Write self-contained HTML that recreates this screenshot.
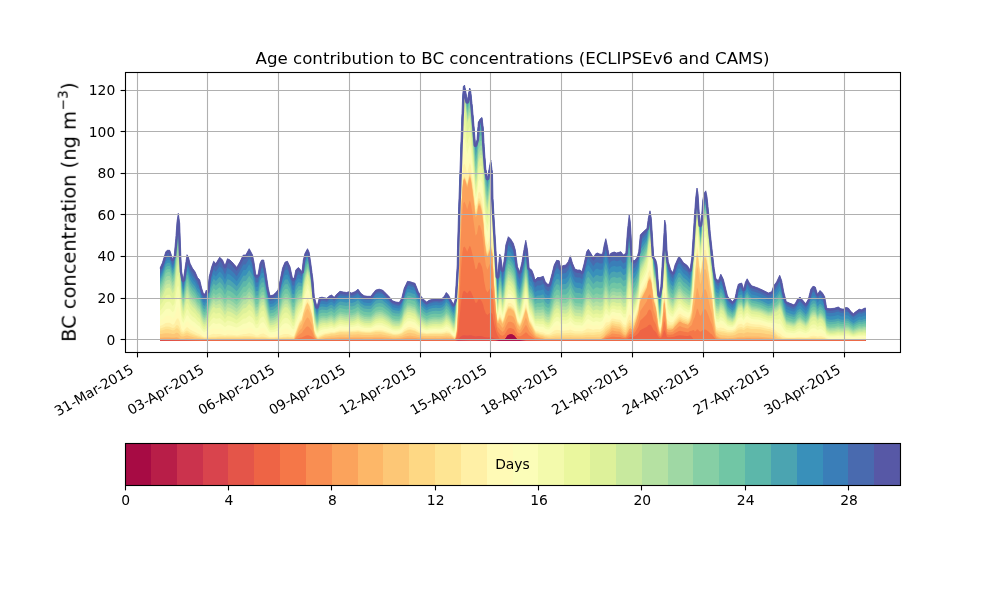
<!DOCTYPE html>
<html><head><meta charset="utf-8"><title>Age contribution to BC concentrations</title>
<style>html,body{margin:0;padding:0;background:#fff;width:1000px;height:600px;overflow:hidden}svg{display:block}
text{-webkit-font-smoothing:antialiased}
text{font-family:"DejaVu Sans","Liberation Sans",sans-serif;fill:#000}</style></head>
<body>
<svg width="1000" height="600" viewBox="0 0 1000 600">
<rect width="1000" height="600" fill="#fff"/>
<defs><linearGradient id="bl" gradientUnits="userSpaceOnUse" x1="160" y1="0" x2="866" y2="0"><stop offset="0.0000" stop-color="#dc4c4a"/><stop offset="0.0354" stop-color="#e65a47"/><stop offset="0.0567" stop-color="#ec6a48"/><stop offset="0.4178" stop-color="#ec6a48"/><stop offset="0.4221" stop-color="#d0404f"/><stop offset="0.4391" stop-color="#e05048"/><stop offset="0.4745" stop-color="#e05048"/><stop offset="0.4802" stop-color="#b3164a"/><stop offset="0.5099" stop-color="#b3164a"/><stop offset="0.5184" stop-color="#e45549"/><stop offset="0.5453" stop-color="#ec6a48"/><stop offset="1.0000" stop-color="#ec6a48"/></linearGradient><clipPath id="ax"><rect x="125" y="72" width="775" height="280"/></clipPath></defs>
<g clip-path="url(#ax)" shape-rendering="auto">
<path fill="#5758a6" d="M160,340.5 L160,268.3 162,263.7 162.5,262.5 164,257.6 165.8,251.7 166,251.5 167.5,250.3 168,250.3 169.7,250.3 170,251.1 170.8,253.3 172,257.5 172.5,259.2 174,256.2 174.2,255.8 175.8,238.3 176,235.5 177,221.7 178,215.2 178.3,213.3 179.7,223.3 180,231.9 180.8,255 181.7,271.7 182,273.3 183.3,280 184,275.2 185,268.3 186,261.5 187,254.7 188,256.2 188.3,256.7 190,263.3 192,267.3 192.5,268.3 194,270.3 195,271.7 196,274 197.5,277.5 198,278.1 199.7,280 200,281.2 201.7,288.3 202,289.2 203.3,293.3 204,293.7 205,294.2 206,291 206.3,290 207.5,291.7 208,287.3 209.2,276.7 210,273.5 211.7,266.7 212,265.9 213.7,261.3 214,261.6 215.8,263.7 216,263.4 217.5,260.8 218,260 219.7,257.2 220,257.5 222,259.5 222.5,260 224,263.5 225,265.8 226,263 227.5,258.7 228,259 230,260 232,262 233.3,263.3 234,264.2 236,266.6 236.7,267.5 238,265.2 240,261.7 242,257.6 243.3,255 244,255 245.8,255 246,254.6 248,250.9 249.2,248.7 250,250.2 252,254 252.5,255 254,262.3 254.2,263.3 255.8,275 256,275 258,275 260,263.3 261.7,260 262,260 263.7,260 264,261.7 265.8,271.7 266,273 268,286.3 268.3,288.3 270,295.8 272,295.3 273.3,295 274,294.3 275.8,292.5 276,292.3 278,290 280,280.8 282,270.8 282.5,268.3 284,264.6 285,262.2 286,261.8 287.5,261.3 288,262.4 290,266.7 292,276 292.5,278.3 294,278.3 294.2,278.3 295.8,270 296,269.8 298,267.8 298.3,267.5 300,269.2 302,271.7 303.3,260 304,257.2 305,253.3 306,251.5 307.5,248.7 308,249.8 309.2,252.5 310,257.9 310.8,263.3 312,272.4 313,280 314,292.8 314.3,296.7 315.7,302 316,303.1 317,306.7 318,303.1 318.3,302 319.3,297.7 320,297.6 322,297.2 324,297.7 324.2,297.7 326,298.1 326.7,298.3 328,297.2 329.7,295.8 330,295.7 331.7,295 332,295.3 334,297.3 334.2,297.5 336,295.1 336.7,294.2 338,293.1 340,291.3 342,291.7 343.3,292 344,292.1 346,292.4 346.7,292.5 348,291.9 348.3,291.7 350,292.4 351.7,293 352,292.9 354,292.1 355,291.7 356,290.9 358,289.2 360,292.1 360.8,293.3 362,294.2 364,295.7 364.2,295.8 366,296.1 367.5,296.3 368,296.3 370,296.3 370.8,296.3 372,294.7 373.3,293 374,292.2 375.8,290 376,290 378,289.5 379.2,289.2 380,289.4 382,289.9 382.5,290 384,291.5 385.8,293.3 386,293.5 388,295.5 389.2,296.7 390,297.7 392,300.2 392.5,300.8 394,301.3 395.8,302 396,302 398,302.3 399.2,302.5 400,301.2 401.7,298.3 402,297.1 404,289.1 404.2,288.3 406,284.5 407.5,281.3 408,281.4 410,281.7 412,282.3 412.5,282.5 414,283 415,283.3 416,285.8 418,290.9 418.3,291.7 420,294.5 421.3,296.7 422,297.5 424,299.8 424.2,300 426,301.4 426.7,302 428,301.1 429.2,300.3 430,300 432,299.4 432.5,299.2 434,299 435.8,298.7 436,298.7 438,299 439.2,299.2 440,299 441.7,298.7 442,298.4 444,296.7 444.2,296.5 446,293.1 446.3,292.5 448,294.4 448.5,295 450,298 451,300 452,301.8 453.5,304.4 454,302.9 455,300 456,285 457.2,265 457.5,248.3 458,231 458.7,206.7 460,170 460.8,146.7 461.7,121.7 462,113.6 462.5,100 463.3,86.7 464,85.7 464.5,85 465.8,91.7 466,93.1 467.2,101.7 468,96.8 468.3,95 469.7,88 470,89 470.8,91.7 472,103.4 472.5,108.3 474,125.9 474.2,128.3 475.5,145 476,143.3 477,140 478,126.5 478.3,122.5 480,119.2 482,117.5 483.3,128.3 484,142.6 484.2,146.7 485.8,168.3 486,169.5 487.5,178.3 488,175.4 489.2,168.3 490,164.2 490.8,160 492,169.4 492.5,173.3 493,198.3 494,216.4 494.2,220 495.8,246.7 496,250.2 497.5,276.7 498,271.6 499.7,254.2 500,254.9 500.8,256.7 502,266.1 502.5,270 504,261.2 504.2,260 505.8,245 506,244.3 508,237.7 508.3,236.7 510,238.4 510.8,239.2 512,241.2 513.3,243.3 514,245.6 515.3,250 516,255.3 517.5,266.7 518,267.8 519.7,271.7 520,270.4 521.7,263.3 522,261.5 524,249.5 524.2,248.3 525.8,240.3 526,241.4 527.5,250 528,255.4 529.2,268.3 530,268.8 531.7,270 532,270.7 533.7,275 534,276.2 535,280 536,279 537.5,277.5 538,277.5 540,277.5 542,276.8 543.3,276.3 544,278.2 545.3,281.7 546,282.5 547.5,284.2 548,284.2 549.2,284.2 550,281.3 551.7,275 552,273.8 554,265.8 554.2,265 556,261.6 556.7,260.3 558,260.6 559.2,260.8 560,264.6 560.8,268.3 562,266.5 562.5,265.8 564,265.4 565.8,265 566,264.7 568,262.1 568.3,261.7 570,256.7 570.3,255.8 572,261.6 572.5,263.3 574,266.8 575,269.2 576,269.5 577.5,270 578,270 580,270 582,271.7 584,264.1 584.2,263.3 586,254.9 586.7,251.7 588,249.7 588.3,249.2 590,252 590.8,253.3 592,255.3 593.3,257.5 594,256.4 595.8,253.7 596,253.6 597.5,253 598,253.2 600,254.2 602,254.2 602.5,254.2 604,246.1 604.2,245 605.8,238.7 606,239.6 607.5,246.7 608,249.4 609.2,255.8 610,254.6 610.8,253.3 612,252.8 614,252.1 614.2,252 616,252.7 616.7,253 618,252.6 618.3,252.5 620,252 620.8,251.7 622,253.3 623.3,255 624,254.5 625.8,253.3 626,250.6 627.5,230 628,225.6 629.2,215 630,219.9 630.3,221.7 631.7,245 632,248.6 633,260.8 634,260.6 635,260.3 636,258.9 637,257.5 638,254.1 638.7,251.7 640,238.1 640.3,235 642,233.1 642.5,232.5 644,231.2 645,230.3 646,229.3 647,228.3 648,220.6 648.3,218.3 650,210.8 651.3,218.3 652,229 652.5,236.7 653.7,256.7 654,257.2 655.8,260 656,260.8 657,265 658,278.3 659.2,295 660,290.9 660.8,286.7 662,266.7 662.5,258.3 663.3,245 664,232.5 664.7,220 665.8,225 666,229.2 667,250 668,259 668.3,261.7 670,267.3 670.8,270 672,271.4 673,272.5 674,268.8 675,265 676,262.7 678,258.2 678.3,257.5 680,257.5 682,260.5 683.3,262.5 684,263.1 686,264.6 687.5,265.8 688,266.6 690,270 691.7,258.3 692,253.7 693,238.3 694,222.7 694.7,211.7 695.8,196.7 696,195.2 697,188 698,193.3 699.2,211.7 700,221.4 700.3,225 701.7,215 702,210.9 702.8,200 704,194.3 704.2,193.3 705.8,190.8 706,191.8 707,196.7 708,206.5 708.7,213.3 710,229.6 710.3,233.3 712,248.8 712.5,253.3 714,266.5 714.2,268.3 715.8,278.3 716,278.5 718,280.5 718.3,280.8 720,276.3 720.8,274.2 722,276.6 723.3,279.2 724,282 725.8,289.2 726,290 727.5,296 728,296.7 729.2,298.3 730,299.1 732,301.2 732.5,301.7 734,299.7 735,298.3 736,293.4 736.7,290 738,285.3 738.3,284.2 740,283.6 741.7,283 742,283.9 743.7,289.2 744,287.9 745.3,282.5 746,281.1 747.2,278.8 748,280.3 749.2,282.5 750,283.6 751.7,285.8 752,285.9 754,286.6 756,287.3 756.7,287.5 758,288 760,288.9 760.8,289.2 762,289.8 764,290.8 765,291.3 766,291.8 768,292.8 768.3,293 770,292.4 771.7,291.7 772,290.8 773.7,285.8 774,285.4 776,282.7 776.7,281.7 778,278.9 779.7,275.3 780,276.1 781.7,280.8 782,282.4 783.7,291.7 784,292.9 786,300.5 786.3,301.7 788,302.4 790,303.3 792,304.1 793.3,304.7 794,304.4 795,304 796,302.1 797.5,299.2 798,298.8 800,297 802,299.4 802.5,300 804,301.7 805.8,303.7 806,303.3 808,299.7 808.3,299.2 810,292.4 810.8,289.2 812,287.6 813,286.3 814,286.6 815.3,287 816,289.3 817.5,294.2 818,293.5 820,290.5 822,292.5 822.5,293 824,295.5 824.7,296.7 826,304.2 826.7,308.3 828,308.5 830,308.7 832,308.5 834,308.3 834.2,308.3 836,307.7 838,307.1 838.3,307 840,308.2 840.8,308.7 842,308.9 843.3,309.2 844,308.7 845.8,307.5 846,307.5 848,307.9 848.3,308 850,310.2 850.8,311.3 852,312.5 853.3,313.7 854,313.1 856,311.5 856.3,311.3 858,310.1 859.2,309.2 860,309.4 861.7,309.7 862,309.5 864,308.4 864.2,308.3 865.8,308 L865.8,340.5 Z"/>
<path fill="#496aaf" d="M160,340.5 L160,270.7 162,266.2 162.5,265 164,260.2 165.8,254.5 166,254.3 167.5,253.1 168,253.1 169.7,253.1 170,253.9 170.8,256 172,260.1 172.5,261.8 174,258.8 174.2,258.4 175.8,241.3 176,238.6 177,225.1 178,218.9 178.3,217.1 179.7,227 180,235.5 180.8,258 181.7,274.3 182,275.8 183.3,282.4 184,277.8 185,271.1 186,264.6 187,258 188,259.6 188.3,260 190,266.5 192,270.4 192.5,271.3 194,273.3 195,274.6 196,276.8 197.5,280.2 198,280.7 199.7,282.6 200,283.8 201.7,290.7 202,291.6 203.3,295.5 204,295.9 205,296.4 206,293.3 206.3,292.3 207.5,294 208,289.7 209.2,279.4 210,276.3 211.7,269.7 212,269 213.7,264.5 214,264.9 215.8,266.9 216,266.6 217.5,264.2 218,263.4 219.7,260.8 220,261.1 222,263.1 222.5,263.6 224,267.1 225,269.3 226,266.6 227.5,262.5 228,262.7 230,263.7 232,265.6 233.3,266.9 234,267.7 236,270.1 236.7,271 238,268.8 240,265.4 242,261.4 243.3,258.8 244,258.8 245.8,258.8 246,258.4 248,254.8 249.2,252.6 250,254.1 252,257.8 252.5,258.7 254,265.8 254.2,266.7 255.8,278 256,278 258,277.9 260,266.5 261.7,263.3 262,263.3 263.7,263.2 264,264.8 265.8,274.6 266,275.8 268,288.7 268.3,290.6 270,297.9 272,297.4 273.3,297.1 274,296.5 275.8,294.7 276,294.5 278,292.3 280,283.4 282,273.7 282.5,271.3 284,267.8 285,265.4 286,265.1 287.5,264.6 288,265.7 290,269.9 292,278.9 292.5,281.2 294,281.2 294.2,281.2 295.8,273 296,272.7 298,270.5 298.3,270.2 300,271.6 302,273.8 303.3,262.1 304,259.2 305,255.2 306,253.2 307.5,250.3 308,251.4 309.2,254.1 310,259.4 310.8,264.7 312,273.8 313,281.5 314,294.2 314.3,298.1 315.7,303.4 316,304.4 317,308 318,304.5 318.3,303.5 319.3,299.2 320,299.1 322,298.7 324,299.1 324.2,299.2 326,299.6 326.7,299.7 328,298.7 329.7,297.3 330,297.2 331.7,296.5 332,296.8 334,298.8 334.2,299 336,296.7 336.7,295.8 338,294.6 340,292.9 342,293.3 343.3,293.6 344,293.7 346,294 346.7,294.1 348,293.5 348.3,293.4 350,294 351.7,294.6 352,294.5 354,293.7 355,293.3 356,292.5 358,290.9 360,293.7 360.8,294.9 362,295.8 364,297.2 364.2,297.3 366,297.6 367.5,297.8 368,297.8 370,297.8 370.8,297.8 372,296.3 373.3,294.6 374,293.8 375.8,291.7 376,291.6 378,291.1 379.2,290.9 380,291 382,291.5 382.5,291.6 384,293.1 385.8,294.8 386,295 388,297 389.2,298.2 390,299.2 392,301.6 392.5,302.2 394,302.7 395.8,303.4 396,303.4 398,303.7 399.2,303.8 400,302.5 401.7,299.7 402,298.5 404,290.7 404.2,289.9 406,286.2 407.5,283 408,283.1 410,283.4 412,284.1 412.5,284.2 414,284.7 415,285 416,287.5 418,292.5 418.3,293.3 420,296.1 421.3,298.2 422,299 424,301.2 424.2,301.4 426,302.8 426.7,303.4 428,302.5 429.2,301.7 430,301.4 432,300.8 432.5,300.6 434,300.4 435.8,300.1 436,300.2 438,300.5 439.2,300.6 440,300.5 441.7,300.1 442,299.9 444,298.1 444.2,298 446,294.6 446.3,294 448,295.9 448.5,296.5 450,299.4 451,301.4 452,303.1 453.5,305.8 454,304.4 455,301.5 456,286.8 457.2,267.1 457.5,250.6 458,233.3 458.7,207.6 460,170 460.8,146.7 461.7,121.7 462,113.6 462.5,100 463.3,86.7 464,85.7 464.5,85 465.8,91.7 466,93.1 467.2,101.7 468,96.8 468.3,95 469.7,88 470,89 470.8,91.7 472,103.4 472.5,108.3 474,125.9 474.2,128.3 475.5,145 476,143.3 477,140 478,126.5 478.3,122.5 480,119.2 482,117.5 483.3,128.3 484,142.6 484.2,146.7 485.8,168.3 486,169.5 487.5,178.3 488,175.4 489.2,168.3 490,164.2 490.8,160 492,169.4 492.5,173.3 493,198.3 494,216.4 494.2,220 495.8,249.3 496,253.2 497.5,279.3 498,274.3 499.7,257.4 500,258.1 500.8,259.9 502,269.1 502.5,272.9 504,264.3 504.2,263.1 505.8,248.3 506,247.7 508,241 508.3,240 510,241.7 510.8,242.5 512,244.4 513.3,246.5 514,248.9 515.3,253.3 516,258.6 517.5,269.8 518,271 519.7,274.8 520,273.6 521.7,266.5 522,264.7 524,252.7 524.2,251.5 525.8,243.5 526,244.6 527.5,253.1 528,258.4 529.2,271.1 530,271.7 531.7,273 532,273.8 533.7,278 534,279.2 535,283 536,282.1 537.5,280.6 538,280.6 540,280.7 542,279.9 543.3,279.4 544,281.2 545.3,284.6 546,285.3 547.5,286.9 548,286.9 549.2,286.9 550,284 551.7,277.9 552,276.7 554,268.8 554.2,268 556,264.7 556.7,263.4 558,263.7 559.2,264 560,267.6 560.8,271.3 562,269.6 562.5,268.9 564,268.6 565.8,268.2 566,267.9 568,265.4 568.3,265 570,260.1 570.3,259.3 572,264.9 572.5,266.5 574,270 575,272.3 576,272.6 577.5,273 578,273 580,273 582,274.7 584,267.3 584.2,266.5 586,258.4 586.7,255.3 588,253.3 588.3,252.8 590,255.6 590.8,256.9 592,258.8 593.3,261 594,260 595.8,257.4 596,257.3 597.5,256.7 598,257 600,257.9 602,257.9 602.5,257.8 604,249.9 604.2,248.9 605.8,242.6 606,243.6 607.5,250.3 608,252.9 609.2,259.1 610,257.9 610.8,256.6 612,256.1 614,255.4 614.2,255.3 616,256 616.7,256.3 618,255.9 618.3,255.8 620,255.3 620.8,255.1 622,256.7 623.3,258.4 624,258 625.8,256.8 626,254.1 627.5,234 628,229.7 629.2,219.3 630,224 630.3,225.8 631.7,248.5 632,252 633,263.9 634,263.5 635,263.1 636,261.6 637,260.1 638,256.7 638.7,254.2 640,240.6 640.3,237.5 642,235.5 642.5,234.9 644,233.4 645,232.5 646,231.3 647,230.2 648,222.5 648.3,220.2 650,212.7 651.3,220.1 652,230.7 652.5,238.3 653.7,258.1 654,258.6 655.8,261.6 656,262.5 657,266.9 658,280.2 659.2,296.6 660,292.7 660.8,288.7 662,268.9 662.5,260.5 663.3,247.2 664,234.6 664.7,222.6 665.8,227.9 666,232.1 667,252.8 668,261.6 668.3,264.3 670,269.8 670.8,272.4 672,273.8 673,274.9 674,271.2 675,267.6 676,265.3 678,260.8 678.3,260.1 680,260.1 682,263.1 683.3,265 684,265.6 686,267.2 687.5,268.3 688,269.2 690,272.3 691.7,260.7 692,256.1 693,240.7 694,225 694.7,214 695.8,198.8 696,197.3 697,189.8 698,195.1 699.2,213.4 700,223 700.3,226.6 701.7,216.7 702,212.6 702.8,201.7 704,196 704.2,195 705.8,192.6 706,193.6 707,198.5 708,208.3 708.7,215.1 710,231.3 710.3,235 712,250.4 712.5,255.1 714,268.6 714.2,270.4 715.8,280.5 716,280.8 718,282.7 718.3,283 720,278.6 720.8,276.5 722,278.9 723.3,281.4 724,284.1 725.8,291.1 726,291.9 727.5,297.7 728,298.3 729.2,299.9 730,300.7 732,302.7 732.5,303.2 734,301.2 735,299.9 736,295.1 736.7,291.8 738,287.2 738.3,286.1 740,285.5 741.7,285 742,285.9 743.7,291.1 744,289.8 745.3,284.5 746,283.2 747.2,281 748,282.4 749.2,284.6 750,285.6 751.7,287.8 752,287.9 754,288.6 756,289.2 756.7,289.5 758,290 760,290.8 760.8,291.1 762,291.7 764,292.7 765,293.2 766,293.7 768,294.7 768.3,294.9 770,294.2 771.7,293.6 772,292.8 773.7,287.9 774,287.5 776,285 776.7,284.1 778,281.4 779.7,277.9 780,278.7 781.7,283.2 782,284.8 783.7,293.8 784,294.9 786,302.4 786.3,303.5 788,304.2 790,305 792,305.8 793.3,306.4 794,306.1 795,305.7 796,303.8 797.5,301.1 798,300.6 800,298.9 802,301.3 802.5,301.8 804,303.5 805.8,305.4 806,305.1 808,301.6 808.3,301.1 810,294.5 810.8,291.4 812,289.8 813,288.6 814,288.9 815.3,289.2 816,291.4 817.5,296.2 818,295.5 820,292.6 822,294.5 822.5,295 824,297.5 824.7,298.7 826,306 826.7,309.9 828,310.1 830,310.4 832,310.2 834,310.1 834.2,310 836,309.5 838,308.9 838.3,308.8 840,309.9 840.8,310.4 842,310.6 843.3,310.8 844,310.4 845.8,309.2 846,309.2 848,309.6 848.3,309.7 850,311.8 850.8,312.8 852,314 853.3,315.2 854,314.6 856,313.1 856.3,312.8 858,311.7 859.2,310.8 860,311 861.7,311.3 862,311.1 864,310.1 864.2,310 865.8,309.7 L865.8,340.5 Z"/>
<path fill="#3a7eb8" d="M160,340.5 L160,274.3 162,270 162.5,268.9 164,264.2 165.8,258.7 166,258.5 167.5,257.3 168,257.3 169.7,257.3 170,258 170.8,260.1 172,264 172.5,265.6 174,262.7 174.2,262.4 175.8,245.8 176,243.1 177,230.3 178,224.5 178.3,222.7 179.7,232.5 180,240.7 180.8,262.5 181.7,278.2 182,279.7 183.3,286.1 184,281.7 185,275.4 186,269.2 187,263 188,264.6 188.3,265 190,271.3 192,274.9 192.5,275.8 194,277.6 195,278.9 196,281 197.5,284.2 198,284.7 199.7,286.5 200,287.6 201.7,294.2 202,295 203.3,298.8 204,299.2 205,299.7 206,296.7 206.3,295.8 207.5,297.4 208,293.3 209.2,283.5 210,280.6 211.7,274.3 212,273.6 213.7,269.4 214,269.7 215.8,271.7 216,271.5 217.5,269.3 218,268.6 219.7,266.2 220,266.5 222,268.6 222.5,269.1 224,272.4 225,274.6 226,272 227.5,268.1 228,268.3 230,269.3 232,271.1 233.3,272.3 234,273.1 236,275.4 236.7,276.2 238,274.1 240,270.8 242,267 243.3,264.6 244,264.5 245.8,264.5 246,264.1 248,260.6 249.2,258.6 250,259.9 252,263.4 252.5,264.3 254,271 254.2,271.9 255.8,282.5 256,282.5 258,282.3 260,271.4 261.7,268.2 262,268.2 263.7,268.1 264,269.6 265.8,278.8 266,280.1 268,292.3 268.3,294.2 270,301.1 272,300.6 273.3,300.3 274,299.7 275.8,298 276,297.8 278,295.7 280,287.3 282,278.1 282.5,275.8 284,272.4 285,270.2 286,270 287.5,269.6 288,270.6 290,274.7 292,283.4 292.5,285.6 294,285.6 294.2,285.6 295.8,277.4 296,277.2 298,274.6 298.3,274.2 300,275.1 302,276.8 303.3,265.1 304,262.2 305,258 306,255.8 307.5,252.7 308,253.8 309.2,256.4 310,261.7 310.8,266.9 312,275.8 313,283.6 314,296.3 314.3,300.1 315.7,305.4 316,306.5 317,310 318,306.7 318.3,305.6 319.3,301.5 320,301.4 322,300.9 324,301.3 324.2,301.3 326,301.7 326.7,301.9 328,300.9 329.7,299.6 330,299.5 331.7,298.9 332,299.2 334,301.1 334.2,301.3 336,299 336.7,298.1 338,297 340,295.3 342,295.8 343.3,296 344,296.2 346,296.5 346.7,296.6 348,296 348.3,295.8 350,296.5 351.7,297.1 352,297 354,296.2 355,295.8 356,295 358,293.4 360,296.2 360.8,297.3 362,298.1 364,299.5 364.2,299.6 366,299.9 367.5,300.1 368,300.1 370,300.1 370.8,300.1 372,298.6 373.3,297 374,296.2 375.8,294.1 376,294.1 378,293.6 379.2,293.3 380,293.5 382,294 382.5,294.1 384,295.5 385.8,297.2 386,297.4 388,299.3 389.2,300.4 390,301.3 392,303.7 392.5,304.3 394,304.8 395.8,305.4 396,305.5 398,305.7 399.2,305.9 400,304.6 401.7,301.9 402,300.7 404,293.1 404.2,292.3 406,288.7 407.5,285.7 408,285.7 410,286 412,286.7 412.5,286.8 414,287.3 415,287.7 416,290.1 418,294.9 418.3,295.6 420,298.3 421.3,300.4 422,301.1 424,303.3 424.2,303.5 426,304.9 426.7,305.4 428,304.6 429.2,303.8 430,303.5 432,302.9 432.5,302.8 434,302.5 435.8,302.3 436,302.3 438,302.6 439.2,302.8 440,302.6 441.7,302.3 442,302 444,300.3 444.2,300.2 446,296.9 446.3,296.3 448,298.2 448.5,298.7 450,301.5 451,303.5 452,305.2 453.5,307.8 454,306.5 455,303.8 456,289.6 457.2,270.2 457.5,254 458,236.7 458.7,210.2 460,170.5 460.8,146.7 461.7,121.7 462,113.6 462.5,100 463.3,86.7 464,85.7 464.5,85 465.8,91.7 466,93.1 467.2,101.7 468,96.8 468.3,95 469.7,88 470,89 470.8,91.7 472,103.4 472.5,108.3 474,125.9 474.2,128.3 475.5,145 476,143.3 477,140 478,126.5 478.3,122.5 480,119.2 482,117.5 483.3,128.3 484,142.6 484.2,146.7 485.8,168.3 486,169.5 487.5,178.3 488,175.4 489.2,168.3 490,164.2 490.8,160 492,169.4 492.5,173.3 493,198.6 494,218.4 494.2,222.4 495.8,253.6 496,257.6 497.5,283.2 498,278.5 499.7,262.2 500,262.9 500.8,264.7 502,273.6 502.5,277.3 504,268.9 504.2,267.8 505.8,253.4 506,252.7 508,246 508.3,245 510,246.6 510.8,247.4 512,249.3 513.3,251.4 514,253.7 515.3,258.2 516,263.4 517.5,274.6 518,275.7 519.7,279.5 520,278.3 521.7,271.2 522,269.4 524,257.6 524.2,256.4 525.8,248.3 526,249.3 527.5,257.8 528,263 529.2,275.4 530,276 531.7,277.5 532,278.3 533.7,282.5 534,283.7 535,287.4 536,286.7 537.5,285.3 538,285.4 540,285.4 542,284.6 543.3,284.1 544,285.8 545.3,289 546,289.6 547.5,291.1 548,291 549.2,290.9 550,288.1 551.7,282.2 552,281 554,273.4 554.2,272.6 556,269.4 556.7,268.2 558,268.4 559.2,268.7 560,272.3 560.8,275.8 562,274.2 562.5,273.6 564,273.3 565.8,273 566,272.8 568,270.3 568.3,270 570,265.3 570.3,264.5 572,269.8 572.5,271.4 574,274.7 575,276.9 576,277.2 577.5,277.6 578,277.6 580,277.6 582,279.2 584,272.1 584.2,271.4 586,263.6 586.7,260.6 588,258.7 588.3,258.3 590,260.9 590.8,262.2 592,264.1 593.3,266.2 594,265.3 595.8,262.8 596,262.8 597.5,262.3 598,262.5 600,263.5 602,263.4 602.5,263.3 604,255.7 604.2,254.6 605.8,248.6 606,249.4 607.5,255.8 608,258.2 609.2,264.1 610,262.8 610.8,261.6 612,261 614,260.3 614.2,260.2 616,260.9 616.7,261.2 618,260.9 618.3,260.8 620,260.3 620.8,260.1 622,261.8 623.3,263.5 624,263.1 625.8,262 626,259.4 627.5,240 628,235.8 629.2,225.8 630,230.2 630.3,231.9 631.7,253.7 632,257.1 633,268.4 634,267.9 635,267.4 636,265.7 637,264.1 638,260.5 638.7,258 640,244.4 640.3,241.3 642,239.2 642.5,238.5 644,236.9 645,235.7 646,234.4 647,233.1 648,225.3 648.3,223 650,215.5 651.3,222.8 652,233.2 652.5,240.7 653.7,260.3 654,260.7 655.8,264.1 656,265 657,269.7 658,283 659.2,299.1 660,295.4 660.8,291.6 662,272.2 662.5,263.9 663.3,250.5 664,237.8 664.7,226.4 665.8,232.3 666,236.5 667,257.1 668,265.6 668.3,268.1 670,273.5 670.8,276 672,277.4 673,278.5 674,274.9 675,271.4 676,269.2 678,264.8 678.3,264.1 680,264 682,266.9 683.3,268.9 684,269.4 686,271 687.5,272.1 688,272.9 690,275.8 691.7,264.2 692,259.7 693,244.3 694,228.6 694.7,217.4 695.8,201.9 696,200.3 697,192.4 698,197.7 699.2,215.9 700,225.5 700.3,229.1 701.7,219.2 702,215.1 702.8,204.3 704,198.6 704.2,197.6 705.8,195.2 706,196.3 707,201.3 708,211 708.7,217.8 710,233.9 710.3,237.6 712,253 712.5,257.8 714,271.6 714.2,273.5 715.8,283.9 716,284.1 718,286 718.3,286.2 720,282 720.8,280 722,282.2 723.3,284.6 724,287.2 725.8,293.9 726,294.6 727.5,300.2 728,300.8 729.2,302.3 730,303.1 732,305 732.5,305.5 734,303.6 735,302.3 736,297.7 736.7,294.5 738,290 738.3,289 740,288.4 741.7,287.9 742,288.8 743.7,293.8 744,292.7 745.3,287.6 746,286.4 747.2,284.2 748,285.6 749.2,287.8 750,288.8 751.7,290.9 752,291 754,291.6 756,292.2 756.7,292.4 758,292.9 760,293.6 760.8,294 762,294.5 764,295.5 765,296 766,296.5 768,297.5 768.3,297.7 770,297.1 771.7,296.5 772,295.7 773.7,291.1 774,290.8 776,288.4 776.7,287.6 778,285.1 779.7,281.8 780,282.5 781.7,286.9 782,288.4 783.7,296.9 784,298 786,305.1 786.3,306.1 788,306.8 790,307.6 792,308.4 793.3,308.9 794,308.6 795,308.3 796,306.5 797.5,303.8 798,303.4 800,301.8 802,304 802.5,304.6 804,306.1 805.8,308 806,307.7 808,304.4 808.3,303.9 810,297.6 810.8,294.7 812,293.2 813,292 814,292.2 815.3,292.6 816,294.7 817.5,299.1 818,298.5 820,295.7 822,297.5 822.5,298 824,300.5 824.7,301.6 826,308.6 826.7,312.4 828,312.7 830,313 832,312.9 834,312.7 834.2,312.7 836,312.1 838,311.5 838.3,311.4 840,312.4 840.8,312.9 842,313.1 843.3,313.3 844,312.9 845.8,311.7 846,311.8 848,312.1 848.3,312.2 850,314.2 850.8,315.2 852,316.2 853.3,317.3 854,316.8 856,315.4 856.3,315.2 858,314 859.2,313.3 860,313.4 861.7,313.7 862,313.6 864,312.6 864.2,312.5 865.8,312.2 L865.8,340.5 Z"/>
<path fill="#3990ba" d="M160,340.5 L160,276.7 162,272.4 162.5,271.3 164,266.8 165.8,261.4 166,261.2 167.5,260.1 168,260.1 169.7,260 170,260.7 170.8,262.7 172,266.5 172.5,268.1 174,265.3 174.2,264.9 175.8,248.7 176,246.1 177,233.7 178,228.2 178.3,226.6 179.7,236.5 180,244.5 180.8,265.7 181.7,281.1 182,282.6 183.3,288.9 184,284.7 185,278.7 186,272.8 187,267 188,268.6 188.3,269.1 190,275.3 192,278.8 192.5,279.7 194,281.5 195,282.6 196,284.7 197.5,287.8 198,288.3 199.7,290.1 200,291.2 201.7,297.5 202,298.3 203.3,302 204,302.3 205,302.8 206,300 206.3,299.2 207.5,300.7 208,296.8 209.2,287.5 210,284.7 211.7,278.8 212,278.1 213.7,274.1 214,274.4 215.8,276.4 216,276.2 217.5,274.2 218,273.6 219.7,271.5 220,271.8 222,273.9 222.5,274.4 224,277.6 225,279.7 226,277.3 227.5,273.6 228,273.8 230,274.7 232,276.4 233.3,277.6 234,278.3 236,280.5 236.7,281.2 238,279.2 240,276.2 242,272.5 243.3,270.1 244,270.1 245.8,270 246,269.7 248,266.3 249.2,264.3 250,265.6 252,268.9 252.5,269.7 254,276.1 254.2,276.9 255.8,286.9 256,286.9 258,286.6 260,276.1 261.7,273 262,272.9 263.7,272.8 264,274.2 265.8,283 266,284.2 268,295.8 268.3,297.6 270,304.1 272,303.7 273.3,303.4 274,302.8 275.8,301.2 276,301 278,299.1 280,291 282,282.3 282.5,280.1 284,277 285,274.9 286,274.7 287.5,274.4 288,275.4 290,279.4 292,287.7 292.5,289.8 294,289.9 294.2,289.8 295.8,281.8 296,281.5 298,278.7 298.3,278.2 300,278.7 302,280 303.3,268.4 304,265.4 305,261.1 306,258.7 307.5,255.4 308,256.5 309.2,259 310,264.2 310.8,269.4 312,278.1 313,286.2 314,298.8 314.3,302.5 315.7,307.9 316,308.9 317,312.3 318,309.3 318.3,308.3 319.3,304.4 320,304.2 322,303.7 324,304 324.2,304 326,304.4 326.7,304.6 328,303.7 329.7,302.4 330,302.3 331.7,301.8 332,302.1 334,303.9 334.2,304.1 336,301.9 336.7,301.1 338,300 340,298.4 342,298.8 343.3,299.1 344,299.2 346,299.5 346.7,299.6 348,299.1 348.3,298.9 350,299.5 351.7,300.1 352,300 354,299.3 355,298.9 356,298.1 358,296.6 360,299.2 360.8,300.3 362,301.1 364,302.4 364.2,302.5 366,302.8 367.5,303 368,303 370,303 370.8,303 372,301.5 373.3,300 374,299.2 375.8,297.3 376,297.2 378,296.7 379.2,296.4 380,296.6 382,297 382.5,297.1 384,298.5 385.8,300.1 386,300.3 388,302.1 389.2,303.2 390,304.1 392,306.3 392.5,306.9 394,307.4 395.8,308 396,308 398,308.3 399.2,308.4 400,307.1 401.7,304.5 402,303.4 404,296.1 404.2,295.4 406,291.9 407.5,288.9 408,289 410,289.3 412,289.9 412.5,290.1 414,290.6 415,290.9 416,293.3 418,297.9 418.3,298.6 420,301.2 421.3,303.2 422,303.9 424,305.9 424.2,306.1 426,307.4 426.7,307.9 428,307.1 429.2,306.4 430,306.2 432,305.6 432.5,305.4 434,305.2 435.8,305 436,305 438,305.3 439.2,305.4 440,305.3 441.7,304.9 442,304.7 444,303.1 444.2,302.9 446,299.8 446.3,299.2 448,301 448.5,301.5 450,304.2 451,306.1 452,307.8 453.5,310.4 454,309.1 455,306.7 456,293 457.2,274.1 457.5,258.2 458,241 458.7,213.7 460,172.3 460.8,147.3 461.7,122.1 462,114 462.5,100.4 463.3,87.2 464,86.2 464.5,85.6 465.8,92.4 466,93.8 467.2,102.5 468,97.8 468.3,96 469.7,89.1 470,90.2 470.8,93 472,104.9 472.5,109.8 474,127.5 474.2,129.9 475.5,146.6 476,145 477,141.7 478,128.2 478.3,124.2 480,120.8 482,119.2 483.3,130.1 484,144.4 484.2,148.4 485.8,169.9 486,171.1 487.5,179.7 488,176.8 489.2,169.7 490,165.5 490.8,161.3 492,170.7 492.5,175.4 493,201.1 494,222.1 494.2,226.3 495.8,258.3 496,262.4 497.5,287.4 498,282.9 499.7,267.4 500,268 500.8,269.8 502,278.4 502.5,281.9 504,273.8 504.2,272.8 505.8,258.7 506,258 508,251.3 508.3,250.4 510,251.9 510.8,252.6 512,254.5 513.3,256.6 514,258.8 515.3,263.5 516,268.7 517.5,279.6 518,280.7 519.7,284.5 520,283.4 521.7,276.3 522,274.5 524,262.7 524.2,261.6 525.8,253.4 526,254.4 527.5,262.8 528,267.8 529.2,279.9 530,280.7 531.7,282.3 532,283.1 533.7,287.4 534,288.5 535,292.2 536,291.6 537.5,290.4 538,290.4 540,290.5 542,289.7 543.3,289.2 544,290.8 545.3,293.7 546,294.3 547.5,295.6 548,295.5 549.2,295.4 550,292.7 551.7,287 552,285.9 554,278.5 554.2,277.7 556,274.6 556.7,273.5 558,273.8 559.2,274.2 560,277.5 560.8,280.9 562,279.5 562.5,278.9 564,278.7 565.8,278.4 566,278.2 568,275.9 568.3,275.6 570,271.1 570.3,270.4 572,275.4 572.5,276.9 574,280 575,282.1 576,282.4 577.5,282.8 578,282.8 580,282.8 582,284.3 584,277.6 584.2,276.9 586,269.5 586.7,266.7 588,264.9 588.3,264.5 590,267 590.8,268.3 592,270.1 593.3,272.2 594,271.3 595.8,269.1 596,269 597.5,268.6 598,268.9 600,269.8 602,269.6 602.5,269.5 604,262.2 604.2,261.2 605.8,255.3 606,256.1 607.5,262 608,264.3 609.2,269.8 610,268.5 610.8,267.2 612,266.5 614,265.9 614.2,265.8 616,266.6 616.7,266.8 618,266.5 618.3,266.4 620,266 620.8,265.9 622,267.5 623.3,269.3 624,269 625.8,268 626,265.5 627.5,246.9 628,242.8 629.2,233.1 630,237.3 630.3,238.9 631.7,259.6 632,262.8 633,273.6 634,272.9 635,272.2 636,270.4 637,268.6 638,264.9 638.7,262.3 640,248.7 640.3,245.6 642,243.3 642.5,242.6 644,240.7 645,239.4 646,237.9 647,236.4 648,228.4 648.3,226.2 650,218.7 651.3,225.8 652,236.1 652.5,243.5 653.7,262.7 654,263.2 655.8,266.8 656,267.9 657,272.9 658,286.2 659.2,301.8 660,298.5 660.8,295 662,276 662.5,267.7 663.3,254.3 664,241.4 664.7,230.8 665.8,237.3 666,241.5 667,261.9 668,270.1 668.3,272.5 670,277.7 670.8,280.2 672,281.5 673,282.5 674,279.1 675,275.7 676,273.7 678,269.3 678.3,268.6 680,268.4 682,271.3 683.3,273.2 684,273.7 686,275.3 687.5,276.4 688,277.2 690,279.7 691.7,268.2 692,263.8 693,248.4 694,232.6 694.7,221.3 695.8,205.5 696,203.8 697,195.4 698,200.7 699.2,218.8 700,228.3 700.3,231.9 701.7,222 702,218 702.8,207.2 704,201.5 704.2,200.5 705.8,198.3 706,199.3 707,204.4 708,214.1 708.7,220.9 710,236.9 710.3,240.6 712,255.8 712.5,260.9 714,275.1 714.2,277 715.8,287.6 716,288 718,289.7 718.3,289.9 720,285.8 720.8,283.9 722,286.1 723.3,288.3 724,290.7 725.8,297.1 726,297.8 727.5,303.1 728,303.7 729.2,305.1 730,305.8 732,307.6 732.5,308.1 734,306.2 735,305 736,300.6 736.7,297.5 738,293.3 738.3,292.3 740,291.7 741.7,291.3 742,292.1 743.7,297 744,295.9 745.3,291.1 746,289.9 747.2,287.9 748,289.3 749.2,291.3 750,292.3 751.7,294.4 752,294.5 754,295 756,295.6 756.7,295.7 758,296.2 760,296.9 760.8,297.2 762,297.8 764,298.7 765,299.2 766,299.7 768,300.7 768.3,300.8 770,300.3 771.7,299.8 772,299 773.7,294.8 774,294.4 776,292.3 776.7,291.5 778,289.3 779.7,286.1 780,286.8 781.7,291 782,292.4 783.7,300.4 784,301.4 786,308.1 786.3,309.1 788,309.8 790,310.6 792,311.3 793.3,311.8 794,311.6 795,311.2 796,309.6 797.5,307.1 798,306.7 800,305.2 802,307.3 802.5,307.8 804,309.3 805.8,311.1 806,310.8 808,307.7 808.3,307.2 810,301.4 810.8,298.6 812,297.3 813,296.1 814,296.3 815.3,296.6 816,298.6 817.5,302.8 818,302.2 820,299.5 822,301.2 822.5,301.8 824,304.2 824.7,305.4 826,312 826.7,315.6 828,315.9 830,316.4 832,316.3 834,316.1 834.2,316.1 836,315.6 838,315 838.3,314.9 840,315.8 840.8,316.2 842,316.4 843.3,316.6 844,316.1 845.8,315 846,315.1 848,315.4 848.3,315.4 850,317.3 850.8,318.2 852,319.2 853.3,320.2 854,319.7 856,318.4 856.3,318.2 858,317.2 859.2,316.4 860,316.6 861.7,316.9 862,316.8 864,315.8 864.2,315.8 865.8,315.5 L865.8,340.5 Z"/>
<path fill="#4ba4b1" d="M160,340.5 L160,279 162,274.9 162.5,273.8 164,269.4 165.8,264.1 166,263.9 167.5,262.8 168,262.8 169.7,262.7 170,263.4 170.8,265.4 172,269.1 172.5,270.6 174,267.8 174.2,267.5 175.8,251.6 176,249 177,237.1 178,232 178.3,230.5 179.7,240.4 180,248.3 180.8,269 181.7,284 182,285.5 183.3,291.7 184,287.8 185,282.1 186,276.5 187,271 188,272.7 188.3,273.2 190,279.3 192,282.7 192.5,283.6 194,285.3 195,286.4 196,288.4 197.5,291.4 198,291.9 199.7,293.7 200,294.8 201.7,300.8 202,301.6 203.3,305.1 204,305.5 205,306 206,303.3 206.3,302.5 207.5,304 208,300.3 209.2,291.5 210,288.8 211.7,283.2 212,282.5 213.7,278.8 214,279.1 215.8,281.1 216,280.9 217.5,279.1 218,278.6 219.7,276.7 220,277 222,279.2 222.5,279.7 224,282.9 225,284.9 226,282.6 227.5,279 228,279.2 230,280.1 232,281.7 233.3,282.8 234,283.5 236,285.6 236.7,286.3 238,284.4 240,281.5 242,278 243.3,275.7 244,275.7 245.8,275.5 246,275.2 248,272 249.2,270.1 250,271.3 252,274.4 252.5,275.2 254,281.1 254.2,281.9 255.8,291.3 256,291.3 258,290.9 260,280.8 261.7,277.8 262,277.7 263.7,277.5 264,278.9 265.8,287.2 266,288.3 268,299.3 268.3,301 270,307.2 272,306.8 273.3,306.5 274,306 275.8,304.5 276,304.3 278,302.4 280,294.8 282,286.5 282.5,284.5 284,281.5 285,279.6 286,279.4 287.5,279.2 288,280.2 290,284.1 292,292.1 292.5,294 294,294.2 294.2,294.1 295.8,286.2 296,285.8 298,282.7 298.3,282.2 300,282.4 302,283.2 303.3,271.6 304,268.5 305,264.1 306,261.5 307.5,258.1 308,259.1 309.2,261.6 310,266.7 310.8,271.8 312,280.4 313,288.7 314,301.3 314.3,304.9 315.7,310.3 316,311.4 317,314.7 318,312 318.3,311 319.3,307.3 320,307.1 322,306.5 324,306.7 324.2,306.7 326,307.1 326.7,307.3 328,306.4 329.7,305.3 330,305.2 331.7,304.7 332,304.9 334,306.7 334.2,306.9 336,304.8 336.7,304 338,303 340,301.4 342,301.8 343.3,302.1 344,302.2 346,302.6 346.7,302.7 348,302.1 348.3,302 350,302.6 351.7,303.2 352,303.1 354,302.3 355,301.9 356,301.2 358,299.7 360,302.2 360.8,303.2 362,304 364,305.3 364.2,305.4 366,305.7 367.5,305.8 368,305.8 370,305.8 370.8,305.8 372,304.5 373.3,303 374,302.3 375.8,300.4 376,300.3 378,299.9 379.2,299.6 380,299.7 382,300.1 382.5,300.2 384,301.4 385.8,303 386,303.1 388,304.9 389.2,305.9 390,306.8 392,309 392.5,309.5 394,310 395.8,310.6 396,310.6 398,310.8 399.2,310.9 400,309.7 401.7,307.2 402,306.1 404,299.1 404.2,298.4 406,295 407.5,292.2 408,292.3 410,292.5 412,293.2 412.5,293.4 414,293.9 415,294.2 416,296.5 418,300.9 418.3,301.6 420,304.1 421.3,305.9 422,306.6 424,308.6 424.2,308.8 426,310 426.7,310.5 428,309.7 429.2,309 430,308.8 432,308.2 432.5,308.1 434,307.9 435.8,307.7 436,307.7 438,308 439.2,308.1 440,308 441.7,307.6 442,307.4 444,305.8 444.2,305.7 446,302.6 446.3,302.1 448,303.7 448.5,304.2 450,306.8 451,308.7 452,310.4 453.5,313 454,311.8 455,309.5 456,296.4 457.2,278 457.5,262.5 458,245.2 458.7,217.6 460,174.7 460.8,148.6 461.7,123.1 462,115 462.5,101.5 463.3,88.4 464,87.5 464.5,87 465.8,94.1 466,95.6 467.2,104.6 468,100.1 468.3,98.4 469.7,92 470,93.1 470.8,96.2 472,108.5 472.5,113.5 474,131.5 474.2,133.9 475.5,150.7 476,149.1 477,145.8 478,132.4 478.3,128.4 480,124.9 482,123.6 483.3,134.5 484,148.7 484.2,152.8 485.8,173.9 486,175 487.5,183.3 488,180.3 489.2,173.1 490,168.9 490.8,164.7 492,173.9 492.5,179 493,204.7 494,226.3 494.2,230.7 495.8,263.1 496,267.2 497.5,291.6 498,287.4 499.7,272.5 500,273.2 500.8,274.9 502,283.3 502.5,286.6 504,278.8 504.2,277.8 505.8,264.1 506,263.4 508,256.7 508.3,255.8 510,257.2 510.8,257.9 512,259.8 513.3,261.9 514,264 515.3,268.8 516,273.9 517.5,284.7 518,285.8 519.7,289.4 520,288.4 521.7,281.4 522,279.6 524,267.9 524.2,266.7 525.8,258.6 526,259.4 527.5,267.7 528,272.7 529.2,284.5 530,285.3 531.7,287.1 532,287.9 533.7,292.3 534,293.3 535,296.9 536,296.5 537.5,295.4 538,295.5 540,295.6 542,294.8 543.3,294.3 544,295.8 545.3,298.4 546,299 547.5,300.1 548,300.1 549.2,299.9 550,297.3 551.7,291.8 552,290.7 554,283.6 554.2,282.9 556,279.9 556.7,278.9 558,279.2 559.2,279.6 560,282.8 560.8,286 562,284.7 562.5,284.2 564,284.1 565.8,283.9 566,283.7 568,281.6 568.3,281.2 570,277 570.3,276.3 572,281 572.5,282.5 574,285.4 575,287.3 576,287.6 577.5,288 578,288 580,288 582,289.4 584,283 584.2,282.4 586,275.5 586.7,272.8 588,271.1 588.3,270.7 590,273.1 590.8,274.3 592,276.1 593.3,278.1 594,277.3 595.8,275.3 596,275.3 597.5,275 598,275.2 600,276.2 602,275.8 602.5,275.8 604,268.7 604.2,267.8 605.8,262 606,262.8 607.5,268.2 608,270.3 609.2,275.4 610,274.2 610.8,272.8 612,272 614,271.5 614.2,271.4 616,272.2 616.7,272.4 618,272.2 618.3,272.1 620,271.6 620.8,271.6 622,273.3 623.3,275.1 624,274.9 625.8,273.9 626,271.5 627.5,253.7 628,249.8 629.2,240.4 630,244.4 630.3,245.9 631.7,265.5 632,268.6 633,278.9 634,277.9 635,277 636,275.1 637,273.1 638,269.2 638.7,266.5 640,253 640.3,250 642,247.5 642.5,246.7 644,244.6 645,243 646,241.4 647,239.7 648,231.6 648.3,229.4 650,221.9 651.3,228.9 652,239 652.5,246.2 653.7,265.1 654,265.6 655.8,269.6 656,270.7 657,276.1 658,289.4 659.2,304.6 660,301.5 660.8,298.4 662,279.7 662.5,271.5 663.3,258 664,245.1 664.7,235.2 665.8,242.3 666,246.4 667,266.7 668,274.6 668.3,276.9 670,281.9 670.8,284.3 672,285.6 673,286.6 674,283.4 675,280.1 676,278.1 678,273.8 678.3,273.1 680,272.8 682,275.7 683.3,277.5 684,278.1 686,279.6 687.5,280.7 688,281.5 690,283.6 691.7,272.2 692,267.9 693,252.6 694,236.6 694.7,225.2 695.8,209 696,207.2 697,198.4 698,203.7 699.2,221.7 700,231.1 700.3,234.7 701.7,224.8 702,220.8 702.8,210.1 704,204.4 704.2,203.5 705.8,201.3 706,202.4 707,207.5 708,217.2 708.7,223.9 710,239.9 710.3,243.6 712,258.7 712.5,263.9 714,278.6 714.2,280.5 715.8,291.4 716,291.8 718,293.4 718.3,293.6 720,289.7 720.8,287.9 722,289.9 723.3,292 724,294.3 725.8,300.3 726,300.9 727.5,306 728,306.5 729.2,307.9 730,308.5 732,310.2 732.5,310.7 734,308.9 735,307.7 736,303.5 736.7,300.5 738,296.5 738.3,295.6 740,295.1 741.7,294.6 742,295.4 743.7,300.1 744,299.1 745.3,294.6 746,293.5 747.2,291.6 748,292.9 749.2,294.9 750,295.9 751.7,297.9 752,297.9 754,298.4 756,298.9 756.7,299.1 758,299.5 760,300.2 760.8,300.5 762,301 764,302 765,302.4 766,302.9 768,303.9 768.3,304 770,303.5 771.7,303.1 772,302.3 773.7,298.4 774,298.1 776,296.2 776.7,295.5 778,293.5 779.7,290.5 780,291.1 781.7,295 782,296.4 783.7,304 784,304.9 786,311.2 786.3,312.1 788,312.8 790,313.5 792,314.2 793.3,314.7 794,314.5 795,314.2 796,312.6 797.5,310.3 798,310 800,308.6 802,310.6 802.5,311.1 804,312.5 805.8,314.2 806,313.9 808,311.1 808.3,310.6 810,305.2 810.8,302.6 812,301.3 813,300.2 814,300.5 815.3,300.7 816,302.6 817.5,306.5 818,305.9 820,303.4 822,305 822.5,305.5 824,308 824.7,309.1 826,315.4 826.7,318.8 828,319.2 830,319.8 832,319.7 834,319.5 834.2,319.5 836,319 838,318.5 838.3,318.4 840,319.2 840.8,319.6 842,319.7 843.3,319.8 844,319.4 845.8,318.4 846,318.4 848,318.7 848.3,318.7 850,320.4 850.8,321.2 852,322.1 853.3,323.1 854,322.7 856,321.4 856.3,321.2 858,320.3 859.2,319.6 860,319.8 861.7,320.1 862,319.9 864,319.1 864.2,319 865.8,318.8 L865.8,340.5 Z"/>
<path fill="#5cb7aa" d="M160,340.5 L160,281.7 162,277.6 162.5,276.6 164,272.3 165.8,267.1 166,267 167.5,265.9 168,265.9 169.7,265.8 170,266.5 170.8,268.4 172,272 172.5,273.5 174,270.7 174.2,270.4 175.8,254.9 176,252.4 177,241 178,236.1 178.3,234.7 179.7,244.5 180,252.2 180.8,272.3 181.7,286.9 182,288.3 183.3,294.4 184,290.7 185,285.2 186,279.9 187,274.6 188,276.4 188.3,276.9 190,282.9 192,286.3 192.5,287.1 194,288.8 195,289.9 196,291.9 197.5,294.8 198,295.3 199.7,297.2 200,298.2 201.7,304.1 202,304.9 203.3,308.3 204,308.7 205,309.2 206,306.7 206.3,305.9 207.5,307.3 208,303.8 209.2,295.5 210,293 211.7,287.6 212,287 213.7,283.5 214,283.8 215.8,285.8 216,285.6 217.5,284.1 218,283.6 219.7,282 220,282.3 222,284.5 222.5,285 224,288.1 225,290 226,287.8 227.5,284.5 228,284.7 230,285.5 232,287 233.3,288.1 234,288.7 236,290.7 236.7,291.3 238,289.6 240,286.8 242,283.5 243.3,281.3 244,281.2 245.8,281.1 246,280.8 248,277.7 249.2,275.8 250,276.9 252,279.9 252.5,280.6 254,286.2 254.2,286.9 255.8,295.7 256,295.7 258,295.2 260,285.5 261.7,282.5 262,282.5 263.7,282.2 264,283.5 265.8,291.4 266,292.4 268,302.8 268.3,304.4 270,310.3 272,309.9 273.3,309.7 274,309.1 275.8,307.7 276,307.5 278,305.7 280,298.5 282,290.8 282.5,288.8 284,286.1 285,284.3 286,284.2 287.5,284.1 288,285 290,288.8 292,296.4 292.5,298.3 294,298.5 294.2,298.3 295.8,290.5 296,290.2 298,286.9 298.3,286.3 300,286.1 302,286.5 303.3,275 304,271.8 305,267.3 306,264.5 307.5,260.9 308,261.9 309.2,264.4 310,269.4 310.8,274.5 312,283 313,291.4 314,304 314.3,307.6 315.7,313 316,314 317,317.3 318,314.9 318.3,314 319.3,310.4 320,310.2 322,309.6 324,309.7 324.2,309.8 326,310.1 326.7,310.3 328,309.5 329.7,308.4 330,308.3 331.7,307.9 332,308.2 334,309.9 334.2,310 336,308 336.7,307.3 338,306.3 340,304.8 342,305.2 343.3,305.5 344,305.6 346,305.9 346.7,306.1 348,305.6 348.3,305.5 350,306 351.7,306.5 352,306.4 354,305.7 355,305.4 356,304.6 358,303.2 360,305.6 360.8,306.6 362,307.3 364,308.5 364.2,308.6 366,308.8 367.5,309 368,309 370,309 370.8,309 372,307.7 373.3,306.3 374,305.6 375.8,303.8 376,303.8 378,303.3 379.2,303 380,303.1 382,303.5 382.5,303.6 384,304.8 385.8,306.2 386,306.4 388,308 389.2,309 390,309.8 392,311.9 392.5,312.5 394,312.9 395.8,313.5 396,313.5 398,313.6 399.2,313.7 400,312.6 401.7,310.1 402,309.1 404,302.5 404.2,301.8 406,298.5 407.5,295.9 408,295.9 410,296.1 412,296.8 412.5,297 414,297.5 415,297.8 416,300 418,304.2 418.3,304.9 420,307.2 421.3,309 422,309.7 424,311.5 424.2,311.7 426,312.9 426.7,313.3 428,312.6 429.2,311.9 430,311.7 432,311.2 432.5,311 434,310.9 435.8,310.7 436,310.7 438,311 439.2,311.1 440,310.9 441.7,310.6 442,310.4 444,308.9 444.2,308.7 446,305.8 446.3,305.3 448,306.9 448.5,307.3 450,309.8 451,311.7 452,313.3 453.5,315.8 454,314.8 455,312.7 456,300.1 457.2,282.2 457.5,267.1 458,249.8 458.7,221.7 460,177.5 460.8,150.3 461.7,124.5 462,116.4 462.5,103 463.3,90 464,89.2 464.5,88.8 465.8,96.3 466,97.9 467.2,107.4 468,103.2 468.3,101.6 469.7,95.7 470,97 470.8,100.4 472,113.1 472.5,118.4 474,136.7 474.2,139.1 475.5,156 476,154.4 477,151.1 478,137.8 478.3,133.7 480,130.2 482,129.2 483.3,140.1 484,154.2 484.2,158.3 485.8,179 486,180.1 487.5,187.9 488,184.7 489.2,177.4 490,173.1 490.8,168.9 492,178 492.5,183.1 493,208.5 494,230.7 494.2,235.1 495.8,266.8 496,270.8 497.5,294.7 498,290.6 499.7,276.4 500,277 500.8,278.7 502,286.9 502.5,290 504,282.5 504.2,281.5 505.8,268.1 506,267.3 508,260.6 508.3,259.7 510,261.1 510.8,261.7 512,263.6 513.3,265.7 514,267.8 515.3,272.7 516,277.7 517.5,288.4 518,289.5 519.7,293.1 520,292.2 521.7,285.1 522,283.4 524,271.8 524.2,270.6 525.8,262.4 526,263.2 527.5,271.4 528,276.3 529.2,287.8 530,288.7 531.7,290.7 532,291.5 533.7,295.8 534,296.9 535,300.5 536,300.2 537.5,299.2 538,299.2 540,299.4 542,298.7 543.3,298.3 544,299.7 545.3,302.3 546,302.8 547.5,304 548,303.9 549.2,303.8 550,301.4 551.7,296.2 552,295.2 554,288.5 554.2,287.9 556,285.1 556.7,284.1 558,284.5 559.2,284.9 560,287.9 560.8,291 562,289.8 562.5,289.4 564,289.3 565.8,289.2 566,289 568,287.1 568.3,286.7 570,282.7 570.3,282 572,286.5 572.5,287.9 574,290.6 575,292.4 576,292.7 577.5,293 578,293 580,293 582,294.4 584,288.4 584.2,287.8 586,281.2 586.7,278.7 588,277.1 588.3,276.8 590,279.1 590.8,280.2 592,282 593.3,284 594,283.2 595.8,281.4 596,281.4 597.5,281.1 598,281.4 600,282.3 602,282 602.5,281.8 604,275.1 604.2,274.2 605.8,268.6 606,269.3 607.5,274.3 608,276.3 609.2,281 610,279.7 610.8,278.3 612,277.5 614,277 614.2,276.9 616,277.6 616.7,277.9 618,277.7 618.3,277.6 620,277.2 620.8,277.3 622,279 623.3,280.8 624,280.6 625.8,279.7 626,277.5 627.5,260.4 628,256.6 629.2,247.6 630,251.3 630.3,252.7 631.7,271.3 632,274.2 633,283.9 634,282.8 635,281.7 636,279.6 637,277.5 638,273.5 638.7,270.7 640,257.2 640.3,254.2 642,251.5 642.5,250.7 644,248.4 645,246.6 646,244.8 647,242.9 648,234.7 648.3,232.5 650,225.1 651.3,231.8 652,241.8 652.5,248.9 653.7,267.5 654,268 655.8,272.3 656,273.5 657,279.2 658,292.5 659.2,307.3 660,304.6 660.8,301.7 662,283.4 662.5,275.2 663.3,261.7 664,248.6 664.7,239.5 665.8,247.2 666,251.3 667,271.5 668,278.9 668.3,281.2 670,286 670.8,288.3 672,289.6 673,290.6 674,287.5 675,284.4 676,282.4 678,278.2 678.3,277.5 680,277.2 682,279.9 683.3,281.8 684,282.3 686,283.8 687.5,285 688,285.7 690,287.4 691.7,276.1 692,271.9 693,256.6 694,240.5 694.7,229 695.8,212.5 696,210.6 697,201.3 698,206.6 699.2,224.5 700,233.9 700.3,237.4 701.7,227.6 702,223.6 702.8,213 704,207.3 704.2,206.3 705.8,204.3 706,205.3 707,210.5 708,220.2 708.7,226.9 710,242.8 710.3,246.5 712,261.5 712.5,266.9 714,282 714.2,283.9 715.8,295.1 716,295.6 718,297 718.3,297.2 720,293.4 720.8,291.7 722,293.6 723.3,295.4 724,297.6 725.8,303.1 726,303.8 727.5,308.5 728,309 729.2,310.2 730,310.8 732,312.4 732.5,312.8 734,311 735,309.8 736,305.7 736.7,302.8 738,298.9 738.3,298 740,297.4 741.7,297 742,297.8 743.7,302.4 744,301.4 745.3,297 746,296 747.2,294.2 748,295.5 749.2,297.5 750,298.4 751.7,300.3 752,300.4 754,300.9 756,301.3 756.7,301.5 758,301.9 760,302.5 760.8,302.8 762,303.3 764,304.3 765,304.7 766,305.2 768,306.1 768.3,306.3 770,305.8 771.7,305.5 772,304.8 773.7,301.1 774,300.8 776,299.2 776.7,298.6 778,296.8 779.7,294 780,294.6 781.7,298.4 782,299.7 783.7,306.9 784,307.8 786,313.7 786.3,314.6 788,315.2 790,315.9 792,316.6 793.3,317 794,316.8 795,316.5 796,315.1 797.5,312.9 798,312.6 800,311.2 802,313.2 802.5,313.6 804,315 805.8,316.6 806,316.3 808,313.6 808.3,313.2 810,308.1 810.8,305.6 812,304.4 813,303.4 814,303.6 815.3,303.8 816,305.5 817.5,309.2 818,308.6 820,306.3 822,307.7 822.5,308.3 824,310.7 824.7,311.8 826,317.8 826.7,321 828,321.4 830,322.1 832,322 834,321.8 834.2,321.8 836,321.4 838,320.8 838.3,320.7 840,321.4 840.8,321.8 842,321.9 843.3,322 844,321.6 845.8,320.6 846,320.6 848,320.9 848.3,320.9 850,322.5 850.8,323.3 852,324.1 853.3,325 854,324.6 856,323.4 856.3,323.3 858,322.4 859.2,321.8 860,321.9 861.7,322.2 862,322.1 864,321.3 864.2,321.2 865.8,321 L865.8,340.5 Z"/>
<path fill="#71c6a5" d="M160,340.5 L160,284.4 162,280.4 162.5,279.5 164,275.3 165.8,270.2 166,270.1 167.5,269.1 168,269 169.7,268.9 170,269.6 170.8,271.4 172,274.9 172.5,276.3 174,273.6 174.2,273.3 175.8,258.2 176,255.8 177,244.8 178,240.2 178.3,238.9 179.7,248.6 180,256.1 180.8,275.6 181.7,289.8 182,291.2 183.3,297.1 184,293.6 185,288.4 186,283.3 187,278.3 188,280 188.3,280.5 190,286.5 192,289.8 192.5,290.6 194,292.3 195,293.4 196,295.3 197.5,298.2 198,298.8 199.7,300.6 200,301.6 201.7,307.3 202,308.1 203.3,311.4 204,311.8 205,312.4 206,310 206.3,309.3 207.5,310.6 208,307.3 209.2,299.4 210,297.1 211.7,292.1 212,291.5 213.7,288.2 214,288.5 215.8,290.5 216,290.3 217.5,289 218,288.6 219.7,287.2 220,287.5 222,289.8 222.5,290.3 224,293.3 225,295.1 226,293.1 227.5,290 228,290.2 230,290.9 232,292.3 233.3,293.3 234,293.9 236,295.8 236.7,296.4 238,294.7 240,292.1 242,289 243.3,286.9 244,286.8 245.8,286.6 246,286.3 248,283.3 249.2,281.6 250,282.6 252,285.4 252.5,286 254,291.2 254.2,291.9 255.8,300.1 256,300.1 258,299.5 260,290.2 261.7,287.3 262,287.2 263.7,286.9 264,288.2 265.8,295.5 266,296.5 268,306.3 268.3,307.8 270,313.4 272,313 273.3,312.8 274,312.2 275.8,310.9 276,310.8 278,309.1 280,302.3 282,295 282.5,293.2 284,290.6 285,289 286,288.9 287.5,288.9 288,289.8 290,293.5 292,300.7 292.5,302.5 294,302.8 294.2,302.6 295.8,294.9 296,294.6 298,291 298.3,290.4 300,289.8 302,289.8 303.3,278.4 304,275.1 305,270.4 306,267.5 307.5,263.7 308,264.7 309.2,267.2 310,272.2 310.8,277.1 312,285.5 313,294.2 314,306.6 314.3,310.2 315.7,315.7 316,316.7 317,319.9 318,317.8 318.3,316.9 319.3,313.6 320,313.4 322,312.7 324,312.7 324.2,312.8 326,313.1 326.7,313.3 328,312.5 329.7,311.6 330,311.5 331.7,311.1 332,311.4 334,313 334.2,313.2 336,311.3 336.7,310.5 338,309.6 340,308.1 342,308.5 343.3,308.8 344,309 346,309.3 346.7,309.4 348,309 348.3,308.9 350,309.4 351.7,309.9 352,309.8 354,309.1 355,308.8 356,308.1 358,306.7 360,309 360.8,309.9 362,310.6 364,311.7 364.2,311.8 366,312 367.5,312.2 368,312.2 370,312.2 370.8,312.2 372,311 373.3,309.6 374,309 375.8,307.3 376,307.2 378,306.8 379.2,306.5 380,306.6 382,306.9 382.5,307 384,308.1 385.8,309.4 386,309.6 388,311.1 389.2,312.1 390,312.9 392,314.9 392.5,315.4 394,315.8 395.8,316.3 396,316.3 398,316.4 399.2,316.5 400,315.4 401.7,313.1 402,312.1 404,305.8 404.2,305.1 406,302 407.5,299.5 408,299.5 410,299.7 412,300.4 412.5,300.6 414,301.1 415,301.5 416,303.5 418,307.6 418.3,308.2 420,310.4 421.3,312.1 422,312.7 424,314.4 424.2,314.6 426,315.7 426.7,316.1 428,315.5 429.2,314.9 430,314.6 432,314.1 432.5,314 434,313.8 435.8,313.7 436,313.7 438,313.9 439.2,314 440,313.9 441.7,313.6 442,313.4 444,311.9 444.2,311.8 446,309 446.3,308.5 448,310 448.5,310.4 450,312.7 451,314.6 452,316.2 453.5,318.7 454,317.7 455,315.9 456,303.9 457.2,286.4 457.5,271.7 458,254.4 458.7,225.9 460,180.3 460.8,152 461.7,126 462,118 462.5,104.6 463.3,91.7 464,91.1 464.5,90.8 465.8,98.7 466,100.4 467.2,110.4 468,106.5 468.3,105 469.7,99.8 470,101.1 470.8,105 472,118.1 472.5,123.5 474,142.2 474.2,144.7 475.5,161.7 476,160.1 477,156.8 478,143.5 478.3,139.4 480,135.7 482,135 483.3,146 484,160.1 484.2,164.1 485.8,184.4 486,185.3 487.5,192.6 488,189.4 489.2,181.9 490,177.6 490.8,173.3 492,182.2 492.5,187.2 493,212.2 494,234.2 494.2,238.6 495.8,270.4 496,274.4 497.5,297.8 498,293.9 499.7,280.2 500,280.8 500.8,282.5 502,290.4 502.5,293.5 504,286.1 504.2,285.2 505.8,272 506,271.3 508,264.6 508.3,263.7 510,265 510.8,265.6 512,267.5 513.3,269.6 514,271.7 515.3,276.6 516,281.6 517.5,292.2 518,293.2 519.7,296.8 520,295.9 521.7,288.9 522,287.2 524,275.6 524.2,274.4 525.8,266.2 526,266.9 527.5,275.1 528,279.9 529.2,291.2 530,292.1 531.7,294.3 532,295.1 533.7,299.4 534,300.5 535,304 536,303.8 537.5,302.9 538,303 540,303.2 542,302.6 543.3,302.3 544,303.7 545.3,306.2 546,306.7 547.5,307.8 548,307.8 549.2,307.7 550,305.5 551.7,300.6 552,299.7 554,293.4 554.2,292.8 556,290.2 556.7,289.3 558,289.7 559.2,290.2 560,293.1 560.8,296 562,295 562.5,294.5 564,294.6 565.8,294.6 566,294.4 568,292.5 568.3,292.2 570,288.5 570.3,287.8 572,292 572.5,293.3 574,295.8 575,297.5 576,297.8 577.5,298.1 578,298.1 580,298.1 582,299.4 584,293.7 584.2,293.2 586,287 586.7,284.6 588,283.2 588.3,282.8 590,285.1 590.8,286.2 592,287.9 593.3,289.8 594,289.1 595.8,287.5 596,287.5 597.5,287.3 598,287.6 600,288.5 602,288.1 602.5,287.9 604,281.5 604.2,280.6 605.8,275.2 606,275.8 607.5,280.4 608,282.2 609.2,286.5 610,285.2 610.8,283.8 612,282.9 614,282.4 614.2,282.4 616,283.1 616.7,283.4 618,283.2 618.3,283.1 620,282.7 620.8,282.9 622,284.6 623.3,286.5 624,286.4 625.8,285.6 626,283.4 627.5,267.1 628,263.4 629.2,254.8 630,258.2 630.3,259.5 631.7,277.1 632,279.8 633,289 634,287.7 635,286.4 636,284.2 637,281.9 638,277.8 638.7,274.9 640,261.3 640.3,258.4 642,255.6 642.5,254.7 644,252.2 645,250.2 646,248.2 647,246.1 648,237.8 648.3,235.6 650,228.2 651.3,234.8 652,244.6 652.5,251.5 653.7,269.9 654,270.3 655.8,275.1 656,276.3 657,282.3 658,295.6 659.2,310.1 660,307.6 660.8,305 662,287.1 662.5,279 663.3,265.4 664,252.2 664.7,243.8 665.8,252.1 666,256.2 667,276.2 668,283.3 668.3,285.5 670,290.1 670.8,292.4 672,293.6 673,294.6 674,291.6 675,288.6 676,286.8 678,282.6 678.3,281.9 680,281.5 682,284.2 683.3,286 684,286.5 686,288 687.5,289.2 688,289.9 690,291.3 691.7,280.1 692,275.8 693,260.6 694,244.5 694.7,232.8 695.8,215.9 696,214 697,204.2 698,209.6 699.2,227.4 700,236.7 700.3,240.1 701.7,230.4 702,226.4 702.8,215.8 704,210.2 704.2,209.2 705.8,207.3 706,208.3 707,213.6 708,223.2 708.7,230 710,245.7 710.3,249.4 712,264.3 712.5,269.9 714,285.4 714.2,287.4 715.8,298.8 716,299.4 718,300.7 718.3,300.9 720,297.2 720.8,295.5 722,297.2 723.3,298.9 724,300.8 725.8,306 726,306.6 727.5,311 728,311.5 729.2,312.6 730,313.1 732,314.5 732.5,314.9 734,313.1 735,311.9 736,307.9 736.7,305.1 738,301.3 738.3,300.4 740,299.8 741.7,299.4 742,300.2 743.7,304.6 744,303.7 745.3,299.5 746,298.5 747.2,296.8 748,298.1 749.2,300 750,300.9 751.7,302.8 752,302.9 754,303.3 756,303.7 756.7,303.8 758,304.2 760,304.8 760.8,305.1 762,305.6 764,306.5 765,307 766,307.5 768,308.4 768.3,308.5 770,308.1 771.7,307.9 772,307.2 773.7,303.8 774,303.6 776,302.2 776.7,301.7 778,300.1 779.7,297.5 780,298.1 781.7,301.8 782,303 783.7,309.8 784,310.6 786,316.2 786.3,317.1 788,317.6 790,318.3 792,319 793.3,319.4 794,319.2 795,318.9 796,317.5 797.5,315.5 798,315.1 800,313.9 802,315.7 802.5,316.2 804,317.5 805.8,319 806,318.7 808,316.2 808.3,315.8 810,311 810.8,308.7 812,307.5 813,306.5 814,306.7 815.3,306.9 816,308.5 817.5,312 818,311.4 820,309.2 822,310.5 822.5,311.1 824,313.4 824.7,314.5 826,320.2 826.7,323.2 828,323.7 830,324.4 832,324.2 834,324.1 834.2,324.1 836,323.7 838,323.1 838.3,323 840,323.7 840.8,324 842,324 843.3,324.1 844,323.7 845.8,322.8 846,322.8 848,323 848.3,323.1 850,324.6 850.8,325.3 852,326.1 853.3,326.9 854,326.5 856,325.5 856.3,325.3 858,324.5 859.2,323.9 860,324 861.7,324.3 862,324.2 864,323.5 864.2,323.4 865.8,323.2 L865.8,340.5 Z"/>
<path fill="#86cfa5" d="M160,340.5 L160,287.1 162,283.2 162.5,282.3 164,278.2 165.8,273.3 166,273.2 167.5,272.2 168,272.1 169.7,272 170,272.7 170.8,274.4 172,277.8 172.5,279.2 174,276.5 174.2,276.2 175.8,261.5 176,259.2 177,248.6 178,244.3 178.3,243.1 179.7,252.7 180,260 180.8,278.9 181.7,292.7 182,294.1 183.3,299.8 184,296.5 185,291.6 186,286.7 187,282 188,283.7 188.3,284.2 190,290 192,293.3 192.5,294.1 194,295.8 195,297 196,298.8 197.5,301.7 198,302.2 199.7,304.1 200,305.1 201.7,310.6 202,311.3 203.3,314.5 204,315 205,315.6 206,313.3 206.3,312.7 207.5,313.8 208,310.8 209.2,303.4 210,301.2 211.7,296.5 212,296 213.7,292.9 214,293.2 215.8,295.2 216,295.1 217.5,293.9 218,293.6 219.7,292.5 220,292.8 222,295.1 222.5,295.6 224,298.5 225,300.3 226,298.4 227.5,295.4 228,295.6 230,296.3 232,297.7 233.3,298.6 234,299.2 236,300.9 236.7,301.4 238,299.9 240,297.4 242,294.4 243.3,292.4 244,292.3 245.8,292.1 246,291.8 248,289 249.2,287.3 250,288.3 252,290.8 252.5,291.5 254,296.3 254.2,296.9 255.8,304.5 256,304.5 258,303.8 260,295 261.7,292.1 262,292 263.7,291.7 264,292.8 265.8,299.7 266,300.6 268,309.8 268.3,311.2 270,316.4 272,316.1 273.3,315.9 274,315.4 275.8,314.1 276,314 278,312.4 280,306.1 282,299.2 282.5,297.5 284,295.2 285,293.6 286,293.7 287.5,293.7 288,294.6 290,298.1 292,305 292.5,306.8 294,307 294.2,306.9 295.8,299.3 296,298.9 298,295.1 298.3,294.5 300,293.5 302,293.1 303.3,281.7 304,278.4 305,273.6 306,270.5 307.5,266.5 308,267.5 309.2,270 310,274.9 310.8,279.8 312,288 313,296.9 314,309.3 314.3,312.8 315.7,318.4 316,319.4 317,322.5 318,320.7 318.3,319.9 319.3,316.8 320,316.6 322,315.8 324,315.8 324.2,315.8 326,316.1 326.7,316.3 328,315.6 329.7,314.7 330,314.7 331.7,314.3 332,314.6 334,316.1 334.2,316.3 336,314.5 336.7,313.8 338,312.9 340,311.5 342,311.9 343.3,312.2 344,312.3 346,312.7 346.7,312.8 348,312.4 348.3,312.3 350,312.9 351.7,313.3 352,313.2 354,312.5 355,312.2 356,311.5 358,310.2 360,312.3 360.8,313.2 362,313.8 364,314.9 364.2,315 366,315.2 367.5,315.4 368,315.4 370,315.4 370.8,315.4 372,314.2 373.3,313 374,312.4 375.8,310.7 376,310.7 378,310.2 379.2,309.9 380,310 382,310.3 382.5,310.3 384,311.4 385.8,312.6 386,312.8 388,314.3 389.2,315.2 390,315.9 392,317.8 392.5,318.3 394,318.7 395.8,319.2 396,319.2 398,319.3 399.2,319.3 400,318.3 401.7,316.1 402,315.2 404,309.1 404.2,308.5 406,305.6 407.5,303.1 408,303.2 410,303.3 412,304 412.5,304.2 414,304.8 415,305.1 416,307.1 418,310.9 418.3,311.4 420,313.6 421.3,315.2 422,315.7 424,317.4 424.2,317.5 426,318.6 426.7,319 428,318.4 429.2,317.8 430,317.6 432,317.1 432.5,317 434,316.8 435.8,316.7 436,316.7 438,316.9 439.2,317 440,316.9 441.7,316.5 442,316.3 444,314.9 444.2,314.8 446,312.2 446.3,311.7 448,313.1 448.5,313.5 450,315.6 451,317.5 452,319.1 453.5,321.5 454,320.7 455,319.1 456,307.6 457.2,290.7 457.5,276.3 458,259 458.7,230.1 460,183.3 460.8,153.8 461.7,127.6 462,119.5 462.5,106.2 463.3,93.5 464,93 464.5,92.8 465.8,101.1 466,102.9 467.2,113.3 468,109.8 468.3,108.4 469.7,103.7 470,105.2 470.8,109.4 472,123 472.5,128.6 474,147.6 474.2,150 475.5,167.1 476,165.5 477,162.2 478,148.9 478.3,144.8 480,140.9 482,140.5 483.3,151.5 484,165.4 484.2,169.4 485.8,189.2 486,190.2 487.5,196.9 488,193.6 489.2,185.9 490,181.5 490.8,177.3 492,185.9 492.5,190.6 493,215.2 494,237.5 494.2,241.9 495.8,274 496,278 497.5,300.9 498,297.2 499.7,284 500,284.7 500.8,286.3 502,294 502.5,296.9 504,289.8 504.2,288.9 505.8,276 506,275.3 508,268.5 508.3,267.7 510,268.9 510.8,269.5 512,271.4 513.3,273.5 514,275.5 515.3,280.5 516,285.5 517.5,295.9 518,297 519.7,300.5 520,299.7 521.7,292.6 522,291 524,279.5 524.2,278.3 525.8,270 526,270.7 527.5,278.8 528,283.5 529.2,294.6 530,295.6 531.7,297.8 532,298.6 533.7,303 534,304.1 535,307.5 536,307.5 537.5,306.6 538,306.7 540,307 542,306.5 543.3,306.3 544,307.6 545.3,310 546,310.6 547.5,311.7 548,311.7 549.2,311.6 550,309.6 551.7,305.1 552,304.2 554,298.4 554.2,297.8 556,295.4 556.7,294.6 558,295 559.2,295.4 560,298.2 560.8,301 562,300.1 562.5,299.7 564,299.8 565.8,299.9 566,299.7 568,298 568.3,297.8 570,294.2 570.3,293.6 572,297.5 572.5,298.7 574,301.1 575,302.7 576,302.9 577.5,303.2 578,303.2 580,303.2 582,304.3 584,299.1 584.2,298.6 586,292.8 586.7,290.6 588,289.2 588.3,288.9 590,291 590.8,292.1 592,293.8 593.3,295.6 594,295 595.8,293.6 596,293.6 597.5,293.5 598,293.8 600,294.7 602,294.2 602.5,294 604,287.9 604.2,287 605.8,281.8 606,282.3 607.5,286.5 608,288.1 609.2,292 610,290.7 610.8,289.3 612,288.3 614,287.9 614.2,287.9 616,288.6 616.7,288.9 618,288.7 618.3,288.7 620,288.3 620.8,288.5 622,290.3 623.3,292.1 624,292.1 625.8,291.4 626,289.3 627.5,273.7 628,270.3 629.2,262 630,265.1 630.3,266.3 631.7,282.9 632,285.4 633,294.1 634,292.6 635,291.1 636,288.7 637,286.3 638,282.1 638.7,279.1 640,265.5 640.3,262.6 642,259.6 642.5,258.7 644,255.9 645,253.8 646,251.6 647,249.3 648,240.9 648.3,238.7 650,231.3 651.3,237.8 652,247.4 652.5,254.2 653.7,272.3 654,272.7 655.8,277.8 656,279.1 657,285.4 658,298.7 659.2,312.8 660,310.6 660.8,308.3 662,290.8 662.5,282.7 663.3,269.1 664,255.7 664.7,248.1 665.8,256.9 666,261.1 667,280.9 668,287.7 668.3,289.8 670,294.3 670.8,296.4 672,297.6 673,298.5 674,295.7 675,292.9 676,291.1 678,287 678.3,286.3 680,285.8 682,288.5 683.3,290.2 684,290.8 686,292.3 687.5,293.4 688,294.1 690,295.1 691.7,284 692,279.8 693,264.6 694,248.4 694.7,236.6 695.8,219.4 696,217.4 697,207.2 698,212.5 699.2,230.2 700,239.4 700.3,242.8 701.7,233.2 702,229.2 702.8,218.7 704,213 704.2,212.1 705.8,210.2 706,211.3 707,216.6 708,226.2 708.7,233 710,248.7 710.3,252.3 712,267.1 712.5,272.9 714,288.8 714.2,290.8 715.8,302.5 716,303.1 718,304.3 718.3,304.5 720,301 720.8,299.3 722,300.9 723.3,302.3 724,304.1 725.8,308.9 726,309.4 727.5,313.5 728,314 729.2,315 730,315.4 732,316.7 732.5,317 734,315.2 735,314 736,310.1 736.7,307.4 738,303.6 738.3,302.8 740,302.1 741.7,301.8 742,302.5 743.7,306.9 744,306 745.3,302 746,301.1 747.2,299.4 748,300.7 749.2,302.6 750,303.5 751.7,305.3 752,305.3 754,305.7 756,306.1 756.7,306.2 758,306.6 760,307.1 760.8,307.4 762,307.9 764,308.8 765,309.3 766,309.8 768,310.7 768.3,310.8 770,310.4 771.7,310.2 772,309.6 773.7,306.5 774,306.3 776,305.2 776.7,304.8 778,303.4 779.7,301 780,301.6 781.7,305.2 782,306.3 783.7,312.7 784,313.5 786,318.8 786.3,319.5 788,320.1 790,320.7 792,321.3 793.3,321.7 794,321.5 795,321.3 796,320 797.5,318 798,317.7 800,316.6 802,318.3 802.5,318.7 804,319.9 805.8,321.4 806,321.1 808,318.8 808.3,318.4 810,313.9 810.8,311.7 812,310.6 813,309.7 814,309.8 815.3,310 816,311.5 817.5,314.7 818,314.2 820,312 822,313.3 822.5,313.8 824,316.1 824.7,317.1 826,322.5 826.7,325.4 828,325.9 830,326.7 832,326.5 834,326.4 834.2,326.4 836,326 838,325.4 838.3,325.3 840,325.9 840.8,326.2 842,326.2 843.3,326.3 844,325.9 845.8,325 846,325 848,325.2 848.3,325.3 850,326.7 850.8,327.3 852,328 853.3,328.8 854,328.5 856,327.5 856.3,327.3 858,326.6 859.2,326 860,326.1 861.7,326.4 862,326.3 864,325.7 864.2,325.6 865.8,325.4 L865.8,340.5 Z"/>
<path fill="#9fd8a4" d="M160,340.5 L160,290.4 162,286.7 162.5,285.8 164,281.9 165.8,277.2 166,277.1 167.5,276.1 168,276.1 169.7,275.9 170,276.5 170.8,278.2 172,281.4 172.5,282.7 174,280.2 174.2,279.8 175.8,265.6 176,263.4 177,253.3 178,249.2 178.3,248.1 179.7,257.5 180,264.5 180.8,282.7 181.7,295.9 182,297.2 183.3,302.7 184,299.6 185,294.8 186,290.2 187,285.7 188,287.3 188.3,287.8 190,293.4 192,296.5 192.5,297.3 194,298.9 195,299.9 196,301.7 197.5,304.4 198,305 199.7,306.8 200,307.7 201.7,313 202,313.7 203.3,316.8 204,317.2 205,317.9 206,315.7 206.3,315.1 207.5,316.2 208,313.3 209.2,306.3 210,304.2 211.7,299.7 212,299.2 213.7,296.3 214,296.6 215.8,298.6 216,298.4 217.5,297.5 218,297.2 219.7,296.2 220,296.6 222,298.8 222.5,299.4 224,302.2 225,304 226,302.2 227.5,299.4 228,299.5 230,300.2 232,301.4 233.3,302.3 234,302.9 236,304.5 236.7,305 238,303.6 240,301.2 242,298.4 243.3,296.4 244,296.3 245.8,296.1 246,295.8 248,293.1 249.2,291.4 250,292.3 252,294.8 252.5,295.3 254,299.9 254.2,300.5 255.8,307.7 256,307.6 258,306.8 260,298.3 261.7,295.5 262,295.4 263.7,295 264,296.1 265.8,302.7 266,303.6 268,312.3 268.3,313.7 270,318.6 272,318.3 273.3,318.1 274,317.6 275.8,316.4 276,316.3 278,314.8 280,308.8 282,302.3 282.5,300.6 284,298.4 285,297 286,297.1 287.5,297.2 288,298 290,301.5 292,308.1 292.5,309.8 294,310.1 294.2,309.9 295.8,302.4 296,302 298,298 298.3,297.4 300,296 302,295.4 303.3,284 304,280.6 305,275.7 306,272.5 307.5,268.4 308,269.3 309.2,271.8 310,276.6 310.8,281.5 312,289.6 313,298.6 314,311 314.3,314.5 315.7,320.1 316,321 317,324.1 318,322.4 318.3,321.7 319.3,318.7 320,318.5 322,317.7 324,317.6 324.2,317.6 326,317.9 326.7,318.1 328,317.4 329.7,316.6 330,316.6 331.7,316.3 332,316.5 334,318 334.2,318.2 336,316.4 336.7,315.7 338,314.9 340,313.5 342,313.9 343.3,314.2 344,314.4 346,314.7 346.7,314.9 348,314.5 348.3,314.4 350,314.9 351.7,315.4 352,315.3 354,314.6 355,314.2 356,313.6 358,312.3 360,314.4 360.8,315.2 362,315.8 364,316.8 364.2,317 366,317.1 367.5,317.3 368,317.3 370,317.3 370.8,317.3 372,316.2 373.3,315 374,314.4 375.8,312.8 376,312.8 378,312.3 379.2,312 380,312 382,312.3 382.5,312.4 384,313.4 385.8,314.6 386,314.7 388,316.1 389.2,317 390,317.7 392,319.6 392.5,320 394,320.5 395.8,320.9 396,320.9 398,321 399.2,321 400,320 401.7,317.8 402,317 404,311.1 404.2,310.5 406,307.7 407.5,305.3 408,305.4 410,305.4 412,306.2 412.5,306.4 414,306.9 415,307.3 416,309.2 418,312.9 418.3,313.4 420,315.5 421.3,317 422,317.6 424,319.1 424.2,319.3 426,320.3 426.7,320.7 428,320.1 429.2,319.5 430,319.3 432,318.9 432.5,318.7 434,318.6 435.8,318.5 436,318.5 438,318.7 439.2,318.8 440,318.6 441.7,318.3 442,318.1 444,316.8 444.2,316.6 446,314.1 446.3,313.7 448,314.9 448.5,315.3 450,317.4 451,319.2 452,320.9 453.5,323.2 454,322.5 455,321 456,309.9 457.2,293.2 457.5,279 458,261.8 458.7,233.7 460,186.2 460.8,155.6 461.7,129.1 462,121.1 462.5,107.9 463.3,95.2 464,94.9 464.5,94.8 465.8,103.6 466,105.4 467.2,116.3 468,113 468.3,111.8 469.7,107.6 470,109.2 470.8,113.7 472,127.8 472.5,133.5 474,152.7 474.2,155.1 475.5,172.2 476,170.6 477,167.3 478,154 478.3,149.9 480,145.8 482,145.6 483.3,156.5 484,170.3 484.2,174.3 485.8,193.7 486,194.5 487.5,200.8 488,197.3 489.2,189.5 490,185.1 490.8,180.7 492,189.2 492.5,193.8 493,218.1 494,240.8 494.2,245.3 495.8,276.9 496,280.8 497.5,303.3 498,299.8 499.7,287 500,287.7 500.8,289.3 502,296.8 502.5,299.7 504,292.7 504.2,291.8 505.8,279.2 506,278.4 508,271.6 508.3,270.8 510,272 510.8,272.6 512,274.4 513.3,276.5 514,278.5 515.3,283.6 516,288.5 517.5,298.8 518,299.9 519.7,303.4 520,302.6 521.7,295.6 522,293.9 524,282.5 524.2,281.3 525.8,273 526,273.6 527.5,281.7 528,286.4 529.2,297.2 530,298.2 531.7,300.6 532,301.4 533.7,305.9 534,306.9 535,310.3 536,310.4 537.5,309.6 538,309.7 540,310 542,309.5 543.3,309.3 544,310.6 545.3,312.9 546,313.4 547.5,314.4 548,314.4 549.2,314.3 550,312.4 551.7,308 552,307.2 554,301.6 554.2,301 556,298.7 556.7,297.9 558,298.4 559.2,298.9 560,301.6 560.8,304.3 562,303.4 562.5,303.1 564,303.2 565.8,303.3 566,303.2 568,301.6 568.3,301.3 570,297.9 570.3,297.3 572,301.1 572.5,302.2 574,304.4 575,306 576,306.1 577.5,306.5 578,306.5 580,306.5 582,307.6 584,302.6 584.2,302.1 586,296.6 586.7,294.4 588,293.1 588.3,292.8 590,294.9 590.8,295.9 592,297.6 593.3,299.4 594,298.9 595.8,297.5 596,297.5 597.5,297.5 598,297.8 600,298.7 602,298.1 602.5,298 604,292 604.2,291.2 605.8,286 606,286.5 607.5,290.4 608,291.9 609.2,295.6 610,294.3 610.8,292.9 612,291.8 614,291.5 614.2,291.4 616,292.2 616.7,292.5 618,292.3 618.3,292.3 620,291.9 620.8,292.1 622,293.9 623.3,295.8 624,295.8 625.8,295.1 626,293.1 627.5,278.1 628,274.7 629.2,266.6 630,269.6 630.3,270.7 631.7,286.6 632,289.1 633,297.4 634,295.8 635,294.2 636,291.7 637,289.1 638,284.8 638.7,281.8 640,268.2 640.3,265.3 642,262.3 642.5,261.3 644,258.4 645,256.2 646,253.8 647,251.4 648,242.9 648.3,240.7 650,233.4 651.3,239.7 652,249.2 652.5,256 653.7,273.8 654,274.2 655.8,279.5 656,280.9 657,287.5 658,300.8 659.2,314.5 660,312.5 660.8,310.4 662,293.2 662.5,285.1 663.3,271.4 664,258 664.7,250.9 665.8,260.1 666,264.2 667,284 668,290.6 668.3,292.6 670,296.9 670.8,299 672,300.2 673,301.1 674,298.4 675,295.6 676,293.9 678,289.8 678.3,289.2 680,288.6 682,291.3 683.3,293 684,293.5 686,295 687.5,296.1 688,296.8 690,297.6 691.7,286.5 692,282.4 693,267.2 694,251 694.7,239.1 695.8,221.7 696,219.6 697,209.1 698,214.4 699.2,232 700,241.2 700.3,244.6 701.7,235 702,231 702.8,220.6 704,214.9 704.2,213.9 705.8,212.1 706,213.2 707,218.6 708,228.2 708.7,234.9 710,250.5 710.3,254.1 712,268.9 712.5,274.9 714,291 714.2,293 715.8,304.9 716,305.6 718,306.7 718.3,306.8 720,303.4 720.8,301.8 722,303.2 723.3,304.5 724,306.2 725.8,310.7 726,311.2 727.5,315.1 728,315.5 729.2,316.4 730,316.9 732,318 732.5,318.3 734,316.5 735,315.3 736,311.5 736.7,308.9 738,305.1 738.3,304.2 740,303.5 741.7,303.2 742,304 743.7,308.3 744,307.4 745.3,303.5 746,302.6 747.2,301 748,302.3 749.2,304.1 750,305 751.7,306.8 752,306.8 754,307.2 756,307.5 756.7,307.7 758,308 760,308.5 760.8,308.8 762,309.3 764,310.2 765,310.7 766,311.1 768,312.1 768.3,312.2 770,311.8 771.7,311.7 772,311.1 773.7,308.1 774,307.9 776,306.9 776.7,306.5 778,305.2 779.7,302.9 780,303.5 781.7,306.9 782,308.1 783.7,314.2 784,315 786,320.1 786.3,320.8 788,321.4 790,322 792,322.6 793.3,322.9 794,322.8 795,322.5 796,321.3 797.5,319.4 798,319.1 800,318 802,319.7 802.5,320.1 804,321.3 805.8,322.7 806,322.5 808,320.2 808.3,319.8 810,315.5 810.8,313.4 812,312.3 813,311.4 814,311.5 815.3,311.7 816,313.2 817.5,316.2 818,315.7 820,313.6 822,314.8 822.5,315.4 824,317.7 824.7,318.8 826,324 826.7,326.8 828,327.4 830,328.2 832,328.1 834,327.9 834.2,327.9 836,327.5 838,327 838.3,326.9 840,327.4 840.8,327.7 842,327.7 843.3,327.7 844,327.4 845.8,326.5 846,326.5 848,326.7 848.3,326.7 850,328.1 850.8,328.7 852,329.4 853.3,330.1 854,329.8 856,328.8 856.3,328.7 858,328 859.2,327.5 860,327.6 861.7,327.8 862,327.7 864,327.1 864.2,327.1 865.8,327 L865.8,340.5 Z"/>
<path fill="#b5e1a2" d="M160,340.5 L160,293.8 162,290.2 162.5,289.4 164,285.6 165.8,281.1 166,280.9 167.5,280 168,280 169.7,279.8 170,280.4 170.8,281.9 172,285 172.5,286.3 174,283.8 174.2,283.5 175.8,269.8 176,267.6 177,257.9 178,254.1 178.3,253 179.7,262.2 180,268.9 180.8,286.4 181.7,299.1 182,300.3 183.3,305.6 184,302.6 185,298.1 186,293.6 187,289.3 188,290.9 188.3,291.4 190,296.7 192,299.7 192.5,300.4 194,301.9 195,302.9 196,304.6 197.5,307.2 198,307.7 199.7,309.5 200,310.4 201.7,315.5 202,316.2 203.3,319.1 204,319.5 205,320.1 206,318.1 206.3,317.5 207.5,318.6 208,315.8 209.2,309.1 210,307.1 211.7,302.9 212,302.4 213.7,299.7 214,299.9 215.8,301.9 216,301.8 217.5,301 218,300.7 219.7,300 220,300.3 222,302.6 222.5,303.2 224,306 225,307.6 226,305.9 227.5,303.3 228,303.4 230,304 232,305.2 233.3,306.1 234,306.6 236,308.2 236.7,308.7 238,307.3 240,305.1 242,302.3 243.3,300.4 244,300.3 245.8,300 246,299.8 248,297.1 249.2,295.5 250,296.4 252,298.7 252.5,299.2 254,303.5 254.2,304.1 255.8,310.8 256,310.7 258,309.9 260,301.7 261.7,298.9 262,298.8 263.7,298.4 264,299.4 265.8,305.7 266,306.5 268,314.8 268.3,316.1 270,320.8 272,320.5 273.3,320.3 274,319.9 275.8,318.7 276,318.6 278,317.2 280,311.5 282,305.3 282.5,303.8 284,301.6 285,300.3 286,300.4 287.5,300.6 288,301.5 290,304.8 292,311.2 292.5,312.8 294,313.2 294.2,312.9 295.8,305.5 296,305.1 298,300.9 298.3,300.2 300,298.6 302,297.6 303.3,286.3 304,282.8 305,277.8 306,274.4 307.5,270.2 308,271.2 309.2,273.6 310,278.3 310.8,283.1 312,291.1 313,300.4 314,312.7 314.3,316.1 315.7,321.7 316,322.7 317,325.7 318,324.2 318.3,323.5 319.3,320.6 320,320.4 322,319.5 324,319.4 324.2,319.4 326,319.7 326.7,319.9 328,319.3 329.7,318.5 330,318.5 331.7,318.2 332,318.4 334,319.9 334.2,320 336,318.4 336.7,317.7 338,316.9 340,315.5 342,316 343.3,316.3 344,316.4 346,316.8 346.7,316.9 348,316.5 348.3,316.5 350,317 351.7,317.4 352,317.3 354,316.6 355,316.3 356,315.7 358,314.4 360,316.4 360.8,317.2 362,317.8 364,318.8 364.2,318.9 366,319.1 367.5,319.2 368,319.2 370,319.2 370.8,319.2 372,318.1 373.3,317 374,316.4 375.8,314.9 376,314.8 378,314.4 379.2,314.1 380,314.1 382,314.4 382.5,314.4 384,315.4 385.8,316.5 386,316.6 388,318 389.2,318.9 390,319.6 392,321.3 392.5,321.8 394,322.2 395.8,322.6 396,322.6 398,322.7 399.2,322.7 400,321.7 401.7,319.6 402,318.8 404,313.1 404.2,312.6 406,309.8 407.5,307.5 408,307.5 410,307.6 412,308.4 412.5,308.6 414,309.1 415,309.5 416,311.3 418,314.9 418.3,315.4 420,317.4 421.3,318.8 422,319.4 424,320.9 424.2,321.1 426,322 426.7,322.4 428,321.8 429.2,321.3 430,321.1 432,320.6 432.5,320.5 434,320.4 435.8,320.3 436,320.3 438,320.5 439.2,320.6 440,320.4 441.7,320.1 442,319.9 444,318.6 444.2,318.5 446,316 446.3,315.6 448,316.8 448.5,317.2 450,319.2 451,321 452,322.6 453.5,324.9 454,324.2 455,322.9 456,312.1 457.2,295.8 457.5,281.8 458,264.6 458.7,236.3 460,188.8 460.8,157.5 461.7,130.7 462,122.7 462.5,109.5 463.3,97 464,96.8 464.5,96.9 465.8,106 466,107.9 467.2,119.2 468,116.3 468.3,115.2 469.7,111.5 470,113.2 470.8,118.1 472,132.5 472.5,138.4 474,157.8 474.2,160.3 475.5,177.4 476,175.8 477,172.4 478,159 478.3,155 480,150.6 482,150.6 483.3,161.5 484,175.2 484.2,179.1 485.8,198.1 486,198.9 487.5,204.6 488,201.1 489.2,193.1 490,188.6 490.8,184.2 492,192.5 492.5,197 493,221 494,243.6 494.2,248 495.8,279.7 496,283.6 497.5,305.7 498,302.4 499.7,290 500,290.7 500.8,292.3 502,299.7 502.5,302.4 504,295.6 504.2,294.7 505.8,282.3 506,281.5 508,274.7 508.3,273.9 510,275.1 510.8,275.6 512,277.5 513.3,279.5 514,281.5 515.3,286.6 516,291.6 517.5,301.8 518,302.9 519.7,306.4 520,305.6 521.7,298.6 522,296.9 524,285.5 524.2,284.3 525.8,276 526,276.6 527.5,284.6 528,289.2 529.2,299.9 530,300.9 531.7,303.4 532,304.3 533.7,308.7 534,309.7 535,313.1 536,313.2 537.5,312.5 538,312.6 540,312.9 542,312.5 543.3,312.3 544,313.5 545.3,315.7 546,316.2 547.5,317.2 548,317.1 549.2,317.1 550,315.2 551.7,311 552,310.2 554,304.8 554.2,304.3 556,302.1 556.7,301.3 558,301.8 559.2,302.3 560,304.9 560.8,307.5 562,306.7 562.5,306.4 564,306.6 565.8,306.8 566,306.7 568,305.2 568.3,304.9 570,301.6 570.3,301.1 572,304.6 572.5,305.7 574,307.8 575,309.3 576,309.4 577.5,309.7 578,309.7 580,309.7 582,310.8 584,306 584.2,305.5 586,300.3 586.7,298.3 588,297 588.3,296.8 590,298.7 590.8,299.8 592,301.4 593.3,303.1 594,302.7 595.8,301.5 596,301.5 597.5,301.5 598,301.8 600,302.8 602,302.1 602.5,301.9 604,296.1 604.2,295.3 605.8,290.3 606,290.8 607.5,294.3 608,295.8 609.2,299.2 610,297.9 610.8,296.5 612,295.3 614,295 614.2,295 616,295.7 616.7,296 618,295.9 618.3,295.8 620,295.5 620.8,295.8 622,297.6 623.3,299.5 624,299.6 625.8,298.9 626,297 627.5,282.4 628,279.1 629.2,271.3 630,274.1 630.3,275.1 631.7,290.4 632,292.7 633,300.7 634,299 635,297.2 636,294.6 637,291.9 638,287.6 638.7,284.5 640,271 640.3,268.1 642,264.9 642.5,263.9 644,260.8 645,258.5 646,256 647,253.5 648,244.9 648.3,242.8 650,235.4 651.3,241.7 652,251 652.5,257.7 653.7,275.3 654,275.8 655.8,281.3 656,282.7 657,289.5 658,302.8 659.2,316.3 660,314.5 660.8,312.5 662,295.6 662.5,287.5 663.3,273.8 664,260.3 664.7,253.7 665.8,263.3 666,267.4 667,287 668,293.4 668.3,295.3 670,299.6 670.8,301.6 672,302.8 673,303.7 674,301.1 675,298.4 676,296.7 678,292.7 678.3,292.1 680,291.4 682,294 683.3,295.7 684,296.2 686,297.7 687.5,298.8 688,299.5 690,300.1 691.7,289.1 692,285 693,269.8 694,253.5 694.7,241.6 695.8,223.9 696,221.8 697,211 698,216.3 699.2,233.8 700,243 700.3,246.4 701.7,236.8 702,232.8 702.8,222.4 704,216.7 704.2,215.8 705.8,214.1 706,215.2 707,220.6 708,230.1 708.7,236.8 710,252.4 710.3,256 712,270.7 712.5,276.8 714,293.2 714.2,295.2 715.8,307.3 716,308 718,309 718.3,309.2 720,305.9 720.8,304.2 722,305.6 723.3,306.7 724,308.3 725.8,312.6 726,313.1 727.5,316.8 728,317.1 729.2,317.9 730,318.3 732,319.3 732.5,319.6 734,317.8 735,316.6 736,312.9 736.7,310.3 738,306.6 738.3,305.7 740,305 741.7,304.7 742,305.4 743.7,309.6 744,308.8 745.3,305 746,304.1 747.2,302.6 748,303.9 749.2,305.7 750,306.6 751.7,308.3 752,308.4 754,308.7 756,309 756.7,309.1 758,309.4 760,309.9 760.8,310.2 762,310.7 764,311.6 765,312.1 766,312.5 768,313.4 768.3,313.6 770,313.2 771.7,313.1 772,312.5 773.7,309.7 774,309.5 776,308.6 776.7,308.3 778,307.1 779.7,304.8 780,305.4 781.7,308.7 782,309.8 783.7,315.7 784,316.5 786,321.4 786.3,322.2 788,322.6 790,323.2 792,323.8 793.3,324.2 794,324 795,323.8 796,322.6 797.5,320.8 798,320.5 800,319.5 802,321.1 802.5,321.5 804,322.6 805.8,324 806,323.8 808,321.6 808.3,321.3 810,317.1 810.8,315.1 812,314.1 813,313.2 814,313.3 815.3,313.4 816,314.8 817.5,317.8 818,317.3 820,315.3 822,316.4 822.5,317 824,319.3 824.7,320.4 826,325.5 826.7,328.2 828,328.8 830,329.8 832,329.6 834,329.5 834.2,329.5 836,329.1 838,328.6 838.3,328.5 840,329 840.8,329.2 842,329.2 843.3,329.2 844,328.9 845.8,328 846,328 848,328.2 848.3,328.2 850,329.5 850.8,330.1 852,330.7 853.3,331.4 854,331.1 856,330.2 856.3,330.1 858,329.4 859.2,328.9 860,329 861.7,329.3 862,329.2 864,328.6 864.2,328.6 865.8,328.5 L865.8,340.5 Z"/>
<path fill="#c8e99e" d="M160,340.5 L160,297.2 162,293.7 162.5,292.9 164,289.3 165.8,284.9 166,284.8 167.5,283.9 168,283.9 169.7,283.6 170,284.2 170.8,285.7 172,288.7 172.5,289.9 174,287.4 174.2,287.1 175.8,273.9 176,271.8 177,262.6 178,259 178.3,258 179.7,266.9 180,273.4 180.8,290.1 181.7,302.3 182,303.5 183.3,308.5 184,305.7 185,301.3 186,297 187,293 188,294.5 188.3,295 190,300 192,302.8 192.5,303.5 194,305 195,305.9 196,307.5 197.5,310 198,310.5 199.7,312.2 200,313.1 201.7,317.9 202,318.6 203.3,321.4 204,321.8 205,322.4 206,320.5 206.3,319.9 207.5,320.9 208,318.3 209.2,312 210,310.1 211.7,306 212,305.6 213.7,303 214,303.3 215.8,305.3 216,305.2 217.5,304.5 218,304.3 219.7,303.7 220,304.1 222,306.4 222.5,307 224,309.7 225,311.3 226,309.7 227.5,307.2 228,307.3 230,307.9 232,309 233.3,309.8 234,310.3 236,311.8 236.7,312.3 238,311 240,308.9 242,306.2 243.3,304.4 244,304.3 245.8,304 246,303.7 248,301.2 249.2,299.6 250,300.4 252,302.6 252.5,303.1 254,307.1 254.2,307.6 255.8,313.9 256,313.9 258,313 260,305.1 261.7,302.3 262,302.2 263.7,301.8 264,302.7 265.8,308.6 266,309.4 268,317.4 268.3,318.5 270,323 272,322.7 273.3,322.5 274,322.1 275.8,321 276,320.9 278,319.6 280,314.1 282,308.3 282.5,306.9 284,304.9 285,303.7 286,303.8 287.5,304.1 288,304.9 290,308.2 292,314.3 292.5,315.8 294,316.2 294.2,316 295.8,308.6 296,308.2 298,303.8 298.3,303.1 300,301.2 302,299.9 303.3,288.5 304,285 305,279.9 306,276.4 307.5,272.1 308,273 309.2,275.4 310,280.1 310.8,284.8 312,292.7 313,302.1 314,314.3 314.3,317.7 315.7,323.4 316,324.3 317,327.3 318,326 318.3,325.3 319.3,322.5 320,322.3 322,321.4 324,321.2 324.2,321.2 326,321.5 326.7,321.7 328,321.1 329.7,320.4 330,320.4 331.7,320.1 332,320.4 334,321.8 334.2,321.9 336,320.3 336.7,319.7 338,318.8 340,317.6 342,318 343.3,318.3 344,318.4 346,318.8 346.7,318.9 348,318.6 348.3,318.5 350,319 351.7,319.4 352,319.3 354,318.7 355,318.3 356,317.7 358,316.5 360,318.4 360.8,319.2 362,319.7 364,320.7 364.2,320.8 366,321 367.5,321.1 368,321.1 370,321.1 370.8,321.1 372,320.1 373.3,319 374,318.4 375.8,317 376,316.9 378,316.4 379.2,316.1 380,316.2 382,316.4 382.5,316.4 384,317.3 385.8,318.4 386,318.6 388,319.9 389.2,320.7 390,321.4 392,323.1 392.5,323.5 394,324 395.8,324.4 396,324.4 398,324.3 399.2,324.3 400,323.4 401.7,321.4 402,320.6 404,315.1 404.2,314.6 406,311.9 407.5,309.7 408,309.7 410,309.8 412,310.5 412.5,310.7 414,311.3 415,311.7 416,313.4 418,316.9 418.3,317.4 420,319.3 421.3,320.7 422,321.2 424,322.7 424.2,322.8 426,323.7 426.7,324.1 428,323.5 429.2,323 430,322.8 432,322.4 432.5,322.3 434,322.2 435.8,322.1 436,322.1 438,322.3 439.2,322.4 440,322.2 441.7,321.9 442,321.7 444,320.4 444.2,320.3 446,317.9 446.3,317.5 448,318.7 448.5,319 450,320.9 451,322.7 452,324.3 453.5,326.7 454,326 455,324.8 456,314.4 457.2,298.4 457.5,284.6 458,267.4 458.7,238.8 460,190.6 460.8,158.9 461.7,132 462,124 462.5,110.9 463.3,98.5 464,98.4 464.5,98.5 465.8,108 466,109.9 467.2,121.6 468,118.9 468.3,117.9 469.7,114.7 470,116.5 470.8,121.7 472,136.5 472.5,142.4 474,162.1 474.2,164.6 475.5,181.7 476,180.1 477,176.7 478,163.3 478.3,159.2 480,154.7 482,154.9 483.3,165.8 484,179.5 484.2,183.3 485.8,201.9 486,202.6 487.5,208 488,204.4 489.2,196.3 490,191.7 490.8,187.3 492,195.4 492.5,199.6 493,223.3 494,246.1 494.2,250.6 495.8,282.5 496,286.3 497.5,308.2 498,305 499.7,293 500,293.7 500.8,295.3 502,302.5 502.5,305.1 504,298.5 504.2,297.6 505.8,285.4 506,284.6 508,277.8 508.3,277.1 510,278.2 510.8,278.7 512,280.5 513.3,282.6 514,284.5 515.3,289.7 516,294.6 517.5,304.7 518,305.8 519.7,309.3 520,308.5 521.7,301.5 522,299.9 524,288.5 524.2,287.4 525.8,279 526,279.5 527.5,287.6 528,292 529.2,302.5 530,303.6 531.7,306.3 532,307.1 533.7,311.5 534,312.5 535,315.9 536,316.1 537.5,315.5 538,315.5 540,315.9 542,315.5 543.3,315.3 544,316.5 545.3,318.6 546,319 547.5,319.9 548,319.9 549.2,319.8 550,318 551.7,314 552,313.2 554,308 554.2,307.5 556,305.4 556.7,304.7 558,305.2 559.2,305.7 560,308.2 560.8,310.7 562,310.1 562.5,309.8 564,310 565.8,310.3 566,310.1 568,308.7 568.3,308.5 570,305.3 570.3,304.8 572,308.2 572.5,309.2 574,311.2 575,312.6 576,312.7 577.5,313 578,313 580,313 582,314 584,309.5 584.2,309 586,304.1 586.7,302.1 588,300.9 588.3,300.7 590,302.6 590.8,303.6 592,305.2 593.3,306.9 594,306.5 595.8,305.4 596,305.4 597.5,305.6 598,305.8 600,306.8 602,306 602.5,305.8 604,300.3 604.2,299.5 605.8,294.6 606,295 607.5,298.3 608,299.6 609.2,302.8 610,301.5 610.8,300 612,298.8 614,298.5 614.2,298.5 616,299.3 616.7,299.6 618,299.5 618.3,299.4 620,299.1 620.8,299.4 622,301.2 623.3,303.2 624,303.3 625.8,302.7 626,300.8 627.5,286.7 628,283.5 629.2,275.9 630,278.6 630.3,279.6 631.7,294.1 632,296.4 633,304 634,302.2 635,300.3 636,297.6 637,294.8 638,290.4 638.7,287.2 640,273.7 640.3,270.8 642,267.5 642.5,266.5 644,263.3 645,260.8 646,258.2 647,255.6 648,247 648.3,244.8 650,237.4 651.3,243.6 652,252.8 652.5,259.4 653.7,276.9 654,277.3 655.8,283 656,284.5 657,291.5 658,304.8 659.2,318 660,316.4 660.8,314.7 662,298 662.5,289.9 663.3,276.2 664,262.6 664.7,256.4 665.8,266.4 666,270.5 667,290.1 668,296.3 668.3,298.1 670,302.2 670.8,304.2 672,305.4 673,306.3 674,303.7 675,301.2 676,299.5 678,295.5 678.3,294.9 680,294.2 682,296.8 683.3,298.5 684,299 686,300.5 687.5,301.6 688,302.3 690,302.5 691.7,291.6 692,287.6 693,272.4 694,256.1 694.7,244 695.8,226.2 696,224 697,212.9 698,218.2 699.2,235.7 700,244.8 700.3,248.1 701.7,238.6 702,234.7 702.8,224.3 704,218.6 704.2,217.7 705.8,216 706,217.1 707,222.5 708,232.1 708.7,238.8 710,254.3 710.3,257.9 712,272.6 712.5,278.7 714,295.4 714.2,297.5 715.8,309.7 716,310.5 718,311.4 718.3,311.5 720,308.3 720.8,306.7 722,307.9 723.3,308.9 724,310.4 725.8,314.4 726,314.9 727.5,318.4 728,318.7 729.2,319.4 730,319.8 732,320.7 732.5,320.9 734,319.1 735,317.9 736,314.3 736.7,311.7 738,308 738.3,307.2 740,306.4 741.7,306.1 742,306.8 743.7,311 744,310.2 745.3,306.5 746,305.7 747.2,304.2 748,305.4 749.2,307.2 750,308.1 751.7,309.8 752,309.9 754,310.2 756,310.5 756.7,310.6 758,310.9 760,311.3 760.8,311.6 762,312.1 764,313 765,313.5 766,313.9 768,314.8 768.3,314.9 770,314.6 771.7,314.5 772,313.9 773.7,311.2 774,311.1 776,310.3 776.7,310 778,308.9 779.7,306.7 780,307.3 781.7,310.5 782,311.6 783.7,317.3 784,318 786,322.7 786.3,323.5 788,323.9 790,324.5 792,325.1 793.3,325.4 794,325.3 795,325.1 796,323.9 797.5,322.2 798,321.9 800,320.9 802,322.5 802.5,322.9 804,324 805.8,325.3 806,325.1 808,323 808.3,322.7 810,318.7 810.8,316.7 812,315.8 813,314.9 814,315 815.3,315.1 816,316.5 817.5,319.3 818,318.8 820,316.9 822,318 822.5,318.6 824,320.9 824.7,322 826,327 826.7,329.6 828,330.3 830,331.3 832,331.2 834,331.1 834.2,331 836,330.7 838,330.2 838.3,330.1 840,330.5 840.8,330.7 842,330.7 843.3,330.7 844,330.4 845.8,329.5 846,329.6 848,329.7 848.3,329.7 850,330.9 850.8,331.5 852,332.1 853.3,332.7 854,332.4 856,331.6 856.3,331.5 858,330.8 859.2,330.4 860,330.5 861.7,330.7 862,330.6 864,330.1 864.2,330.1 865.8,330 L865.8,340.5 Z"/>
<path fill="#ddf19a" d="M160,340.5 L160,300.5 162,297.2 162.5,296.4 164,292.9 165.8,288.8 166,288.7 167.5,287.8 168,287.8 169.7,287.5 170,288 170.8,289.5 172,292.3 172.5,293.4 174,291.1 174.2,290.8 175.8,278.1 176,276.1 177,267.2 178,263.9 178.3,263 179.7,271.6 180,277.9 180.8,293.8 181.7,305.5 182,306.6 183.3,311.4 184,308.7 185,304.6 186,300.5 187,296.6 188,298.1 188.3,298.5 190,303.4 192,306 192.5,306.7 194,308 195,308.9 196,310.4 197.5,312.8 198,313.2 199.7,314.9 200,315.7 201.7,320.4 202,321 203.3,323.7 204,324.1 205,324.7 206,322.9 206.3,322.3 207.5,323.3 208,320.8 209.2,314.8 210,313 211.7,309.2 212,308.8 213.7,306.4 214,306.7 215.8,308.6 216,308.5 217.5,308 218,307.9 219.7,307.5 220,307.8 222,310.2 222.5,310.8 224,313.4 225,315 226,313.5 227.5,311.1 228,311.2 230,311.7 232,312.8 233.3,313.6 234,314 236,315.4 236.7,315.9 238,314.6 240,312.7 242,310.1 243.3,308.4 244,308.2 245.8,307.9 246,307.7 248,305.2 249.2,303.7 250,304.5 252,306.5 252.5,307 254,310.7 254.2,311.2 255.8,317.1 256,317 258,316 260,308.4 261.7,305.7 262,305.6 263.7,305.1 264,306 265.8,311.6 266,312.4 268,319.9 268.3,321 270,325.2 272,324.9 273.3,324.8 274,324.4 275.8,323.4 276,323.2 278,322 280,316.8 282,311.3 282.5,310 284,308.1 285,307 286,307.2 287.5,307.5 288,308.3 290,311.5 292,317.4 292.5,318.9 294,319.3 294.2,319 295.8,311.7 296,311.3 298,306.7 298.3,305.9 300,303.7 302,302.1 303.3,290.8 304,287.2 305,282 306,278.4 307.5,273.9 308,274.8 309.2,277.2 310,281.8 310.8,286.5 312,294.3 313,303.8 314,316 314.3,319.4 315.7,325 316,326 317,328.9 318,327.7 318.3,327.1 319.3,324.4 320,324.2 322,323.3 324,323 324.2,323 326,323.3 326.7,323.5 328,323 329.7,322.3 330,322.3 331.7,322.1 332,322.3 334,323.7 334.2,323.8 336,322.2 336.7,321.6 338,320.8 340,319.6 342,320 343.3,320.3 344,320.4 346,320.8 346.7,321 348,320.7 348.3,320.6 350,321.1 351.7,321.4 352,321.4 354,320.7 355,320.4 356,319.8 358,318.6 360,320.4 360.8,321.2 362,321.7 364,322.6 364.2,322.7 366,322.9 367.5,323 368,323 370,323 370.8,323 372,322 373.3,321 374,320.4 375.8,319 376,319 378,318.5 379.2,318.2 380,318.2 382,318.4 382.5,318.5 384,319.3 385.8,320.4 386,320.5 388,321.8 389.2,322.6 390,323.2 392,324.9 392.5,325.3 394,325.7 395.8,326.1 396,326.1 398,326 399.2,326 400,325.1 401.7,323.2 402,322.4 404,317.1 404.2,316.6 406,314 407.5,311.9 408,311.9 410,311.9 412,312.7 412.5,312.9 414,313.5 415,313.8 416,315.6 418,318.9 418.3,319.3 420,321.2 421.3,322.5 422,323 424,324.4 424.2,324.6 426,325.4 426.7,325.8 428,325.2 429.2,324.7 430,324.6 432,324.2 432.5,324.1 434,324 435.8,323.9 436,323.9 438,324.1 439.2,324.1 440,324 441.7,323.7 442,323.5 444,322.3 444.2,322.1 446,319.8 446.3,319.4 448,320.5 448.5,320.9 450,322.7 451,324.5 452,326.1 453.5,328.4 454,327.8 455,326.7 456,316.7 457.2,300.9 457.5,287.4 458,270.2 458.7,241.4 460,192.4 460.8,160 461.7,133 462,125 462.5,111.9 463.3,99.6 464,99.6 464.5,99.8 465.8,109.5 466,111.5 467.2,123.5 468,121.1 468.3,120.1 469.7,117.3 470,119.1 470.8,124.5 472,139.6 472.5,145.7 474,165.6 474.2,168.1 475.5,185.2 476,183.6 477,180.2 478,166.9 478.3,162.8 480,158.1 482,158.5 483.3,169.4 484,183 484.2,186.8 485.8,205.1 486,205.8 487.5,210.8 488,207.1 489.2,199 490,194.3 490.8,189.9 492,197.8 492.5,202.1 493,225.5 494,248.7 494.2,253.2 495.8,285.3 496,289.1 497.5,310.6 498,307.6 499.7,296.1 500,296.7 500.8,298.3 502,305.3 502.5,307.8 504,301.4 504.2,300.5 505.8,288.6 506,287.7 508,280.9 508.3,280.2 510,281.3 510.8,281.8 512,283.6 513.3,285.6 514,287.5 515.3,292.8 516,297.6 517.5,307.7 518,308.7 519.7,312.2 520,311.5 521.7,304.5 522,302.9 524,291.5 524.2,290.4 525.8,282 526,282.5 527.5,290.5 528,294.9 529.2,305.2 530,306.3 531.7,309.1 532,309.9 533.7,314.4 534,315.4 535,318.7 536,319 537.5,318.4 538,318.5 540,318.9 542,318.5 543.3,318.3 544,319.4 545.3,321.4 546,321.8 547.5,322.7 548,322.6 549.2,322.5 550,320.9 551.7,317 552,316.3 554,311.3 554.2,310.8 556,308.7 556.7,308.1 558,308.6 559.2,309.2 560,311.6 560.8,314 562,313.4 562.5,313.1 564,313.4 565.8,313.7 566,313.6 568,312.3 568.3,312 570,309.1 570.3,308.5 572,311.7 572.5,312.7 574,314.6 575,315.9 576,316 577.5,316.3 578,316.3 580,316.3 582,317.3 584,312.9 584.2,312.5 586,307.8 586.7,306 588,304.8 588.3,304.6 590,306.5 590.8,307.5 592,309 593.3,310.7 594,310.3 595.8,309.4 596,309.4 597.5,309.6 598,309.8 600,310.8 602,310 602.5,309.8 604,304.4 604.2,303.7 605.8,298.8 606,299.2 607.5,302.2 608,303.4 609.2,306.4 610,305.1 610.8,303.6 612,302.3 614,302.1 614.2,302.1 616,302.8 616.7,303.1 618,303.1 618.3,303 620,302.7 620.8,303.1 622,304.9 623.3,306.8 624,307 625.8,306.4 626,304.7 627.5,291.1 628,288 629.2,280.6 630,283 630.3,284 631.7,297.9 632,300 633,307.3 634,305.3 635,303.3 636,300.5 637,297.6 638,293.2 638.7,289.9 640,276.4 640.3,273.5 642,270.1 642.5,269.1 644,265.7 645,263.1 646,260.4 647,257.7 648,249 648.3,246.8 650,239.5 651.3,245.5 652,254.6 652.5,261.2 653.7,278.4 654,278.9 655.8,284.8 656,286.3 657,293.5 658,306.8 659.2,319.8 660,318.4 660.8,316.8 662,300.3 662.5,292.3 663.3,278.6 664,264.9 664.7,259.2 665.8,269.6 666,273.7 667,293.1 668,299.1 668.3,300.9 670,304.9 670.8,306.8 672,308 673,308.8 674,306.4 675,303.9 676,302.3 678,298.4 678.3,297.8 680,297 682,299.6 683.3,301.2 684,301.7 686,303.2 687.5,304.3 688,305 690,305 691.7,294.1 692,290.2 693,275 694,258.6 694.7,246.5 695.8,228.4 696,226.2 697,214.8 698,220.1 699.2,237.5 700,246.5 700.3,249.9 701.7,240.3 702,236.5 702.8,226.1 704,220.5 704.2,219.5 705.8,217.9 706,219 707,224.5 708,234.1 708.7,240.7 710,256.2 710.3,259.8 712,274.4 712.5,280.7 714,297.6 714.2,299.7 715.8,312.1 716,312.9 718,313.7 718.3,313.8 720,310.7 720.8,309.2 722,310.3 723.3,311.1 724,312.5 725.8,316.2 726,316.7 727.5,320 728,320.2 729.2,320.9 730,321.2 732,322 732.5,322.2 734,320.4 735,319.2 736,315.6 736.7,313.1 738,309.5 738.3,308.7 740,307.8 741.7,307.6 742,308.3 743.7,312.4 744,311.5 745.3,308 746,307.2 747.2,305.8 748,307 749.2,308.8 750,309.6 751.7,311.3 752,311.4 754,311.6 756,311.9 756.7,312 758,312.3 760,312.7 760.8,313 762,313.5 764,314.4 765,314.9 766,315.3 768,316.2 768.3,316.3 770,316 771.7,315.9 772,315.4 773.7,312.8 774,312.7 776,311.9 776.7,311.7 778,310.7 779.7,308.6 780,309.1 781.7,312.3 782,313.3 783.7,318.8 784,319.5 786,324.1 786.3,324.8 788,325.2 790,325.8 792,326.4 793.3,326.7 794,326.6 795,326.3 796,325.2 797.5,323.6 798,323.3 800,322.4 802,323.9 802.5,324.3 804,325.3 805.8,326.6 806,326.4 808,324.4 808.3,324.1 810,320.3 810.8,318.4 812,317.5 813,316.6 814,316.7 815.3,316.9 816,318.1 817.5,320.8 818,320.4 820,318.5 822,319.5 822.5,320.1 824,322.5 824.7,323.6 826,328.5 826.7,331 828,331.7 830,332.8 832,332.7 834,332.6 834.2,332.6 836,332.2 838,331.8 838.3,331.7 840,332 840.8,332.2 842,332.2 843.3,332.2 844,331.8 845.8,331.1 846,331.1 848,331.2 848.3,331.2 850,332.3 850.8,332.8 852,333.4 853.3,334 854,333.7 856,333 856.3,332.8 858,332.2 859.2,331.8 860,331.9 861.7,332.1 862,332.1 864,331.6 864.2,331.6 865.8,331.5 L865.8,340.5 Z"/>
<path fill="#eaf79e" d="M160,340.5 L160,305.6 162,302.8 162.5,302.1 164,299.2 165.8,295.6 166,295.5 167.5,294.8 168,294.8 169.7,294.6 170,295 170.8,296.3 172,298.7 172.5,299.7 174,297.7 174.2,297.4 175.8,286.6 176,284.9 177,277.5 178,274.8 178.3,274.1 179.7,281.6 180,287 180.8,300.5 181.7,310.3 182,311.3 183.3,315.3 184,313 185,309.5 186,306 187,302.7 188,304 188.3,304.4 190,308.6 192,310.9 192.5,311.5 194,312.7 195,313.5 196,314.8 197.5,316.9 198,317.3 199.7,318.8 200,319.5 201.7,323.4 202,324 203.3,326.3 204,326.6 205,327.1 206,325.6 206.3,325.2 207.5,326 208,323.9 209.2,318.9 210,317.4 211.7,314.2 212,313.9 213.7,311.9 214,312.1 215.8,313.7 216,313.7 217.5,313.2 218,313.1 219.7,312.8 220,313.1 222,315 222.5,315.5 224,317.7 225,319 226,317.8 227.5,315.8 228,315.9 230,316.3 232,317.2 233.3,317.8 234,318.2 236,319.4 236.7,319.8 238,318.7 240,317.1 242,315 243.3,313.5 244,313.4 245.8,313.1 246,312.9 248,310.9 249.2,309.7 250,310.3 252,312 252.5,312.4 254,315.5 254.2,315.9 255.8,320.8 256,320.7 258,319.9 260,313.6 261.7,311.3 262,311.2 263.7,310.8 264,311.6 265.8,316.2 266,316.9 268,323.1 268.3,324.1 270,327.6 272,327.4 273.3,327.2 274,326.9 275.8,326 276,325.9 278,324.9 280,320.6 282,316 282.5,314.9 284,313.3 285,312.4 286,312.6 287.5,312.8 288,313.5 290,316.1 292,321.1 292.5,322.3 294,322.6 294.2,322.3 295.8,315.6 296,315.1 298,310.3 298.3,309.6 300,307 302,305.2 303.3,294.8 304,291.4 305,286.5 306,283 307.5,278.8 308,279.7 309.2,282 310,286.3 310.8,290.6 312,297.8 313,307 314,318.4 314.3,321.5 315.7,326.8 316,327.7 317,330.4 318,329.5 318.3,329 319.3,326.6 320,326.4 322,325.5 324,325.1 324.2,325.1 326,325.2 326.7,325.4 328,324.9 329.7,324.3 330,324.3 331.7,324.1 332,324.2 334,325.4 334.2,325.5 336,324.1 336.7,323.5 338,322.8 340,321.7 342,322.1 343.3,322.3 344,322.5 346,322.8 346.7,322.9 348,322.6 348.3,322.6 350,323 351.7,323.3 352,323.2 354,322.7 355,322.4 356,321.9 358,320.9 360,322.4 360.8,323.1 362,323.6 364,324.4 364.2,324.4 366,324.6 367.5,324.7 368,324.7 370,324.7 370.8,324.7 372,323.8 373.3,322.9 374,322.4 375.8,321.2 376,321.2 378,320.8 379.2,320.5 380,320.5 382,320.8 382.5,320.8 384,321.6 385.8,322.6 386,322.7 388,323.8 389.2,324.5 390,325.1 392,326.5 392.5,326.9 394,327.3 395.8,327.6 396,327.6 398,327.5 399.2,327.5 400,326.7 401.7,325 402,324.3 404,319.7 404.2,319.2 406,316.9 407.5,315 408,315 410,314.9 412,315.7 412.5,315.9 414,316.4 415,316.8 416,318.3 418,321.2 418.3,321.6 420,323.3 421.3,324.5 422,324.9 424,326.1 424.2,326.2 426,327 426.7,327.2 428,326.8 429.2,326.4 430,326.2 432,325.9 432.5,325.8 434,325.7 435.8,325.6 436,325.6 438,325.8 439.2,325.8 440,325.7 441.7,325.4 442,325.3 444,324.2 444.2,324.1 446,322.1 446.3,321.8 448,322.7 448.5,323 450,324.6 451,326.3 452,327.8 453.5,329.9 454,329.4 455,328.6 456,319.8 457.2,305.5 457.5,293.2 458,276.9 458.7,249.6 460,202.1 460.8,170.3 461.7,144.4 462,137 462.5,124.6 463.3,112.8 464,112.6 464.5,112.7 465.8,121.2 466,123 467.2,133.7 468,131 468.3,130 469.7,126.6 470,128.2 470.8,133 472,147 472.5,152.6 474,171.1 474.2,173.5 475.5,189.7 476,188.3 477,185.2 478,172.9 478.3,169.1 480,165.2 482,166.8 483.3,177.9 484,190.9 484.2,194.6 485.8,212.3 486,213 487.5,218 488,214.7 489.2,207.3 490,203.1 490.8,199.1 492,206.6 492.5,210.6 493,232.4 494,254.8 494.2,259.1 495.8,289.2 496,292.8 497.5,312.5 498,309.8 499.7,299.7 500,300.2 500.8,301.8 502,308.1 502.5,310.3 504,304.5 504.2,303.7 505.8,292.7 506,291.9 508,285.4 508.3,284.7 510,285.6 510.8,286 512,287.7 513.3,289.6 514,291.3 515.3,296.4 516,300.9 517.5,310.2 518,311.2 519.7,314.4 520,313.8 521.7,307.4 522,305.9 524,295.4 524.2,294.3 525.8,286.4 526,286.8 527.5,294.4 528,298.4 529.2,307.9 530,309 531.7,311.8 532,312.6 533.7,316.9 534,317.8 535,320.9 536,321.4 537.5,320.9 538,321.1 540,321.5 542,321.3 543.3,321.2 544,322.1 545.3,323.8 546,324.2 547.5,324.9 548,324.9 549.2,324.8 550,323.4 551.7,320.1 552,319.5 554,315.2 554.2,314.7 556,313 556.7,312.5 558,312.8 559.2,313.3 560,315.4 560.8,317.4 562,316.9 562.5,316.7 564,316.9 565.8,317.1 566,317 568,315.9 568.3,315.7 570,313.2 570.3,312.7 572,315.4 572.5,316.2 574,317.9 575,319 576,319.1 577.5,319.3 578,319.3 580,319.3 582,320.1 584,316.5 584.2,316.1 586,312.1 586.7,310.5 588,309.6 588.3,309.4 590,311 590.8,311.8 592,313.1 593.3,314.5 594,314.2 595.8,313.4 596,313.4 597.5,313.5 598,313.7 600,314.5 602,313.6 602.5,313.4 604,308.6 604.2,308 605.8,303.6 606,303.9 607.5,306.2 608,307.2 609.2,309.6 610,308.3 610.8,306.9 612,305.6 614,305.4 614.2,305.4 616,306.1 616.7,306.4 618,306.4 618.3,306.3 620,306.1 620.8,306.6 622,308.4 623.3,310.3 624,310.5 625.8,310.1 626,308.6 627.5,296.7 628,293.9 629.2,287.3 630,289.4 630.3,290.2 631.7,302.1 632,303.9 633,310.2 634,308.2 635,306.1 636,303.2 637,300.3 638,296 638.7,292.9 640,280.1 640.3,277.5 642,274.1 642.5,273 644,269.8 645,267.3 646,264.7 647,262.1 648,254 648.3,252 650,245.5 651.3,251.3 652,259.8 652.5,265.9 653.7,281.9 654,282.3 655.8,288.3 656,289.8 657,297 658,309.5 659.2,321.4 660,320.3 660.8,319.1 662,304 662.5,296.5 663.3,283.5 664,270.5 664.7,266 665.8,276.3 666,280.2 667,298.3 668,303.4 668.3,304.9 670,308.3 670.8,309.9 672,310.9 673,311.5 674,309.2 675,306.9 676,305.4 678,301.7 678.3,301.2 680,300.4 682,302.7 683.3,304.1 684,304.6 686,306 687.5,307 688,307.6 690,307.2 691.7,297.1 692,293.4 693,279.2 694,263.6 694.7,252.1 695.8,234.7 696,232.4 697,221.2 698,226.1 699.2,242.3 700,250.7 700.3,253.9 701.7,245 702,241.4 702.8,231.7 704,226.5 704.2,225.6 705.8,224.3 706,225.4 707,230.7 708,239.9 708.7,246.2 710,260.8 710.3,264.2 712,278 712.5,284.1 714,300.7 714.2,302.7 715.8,314.9 716,315.7 718,316.6 718.3,316.7 720,314.1 720.8,312.8 722,313.8 723.3,314.5 724,315.7 725.8,318.8 726,319.2 727.5,322 728,322.2 729.2,322.8 730,323 732,323.7 732.5,323.8 734,322.2 735,321.2 736,318 736.7,315.8 738,312.6 738.3,311.8 740,311.1 741.7,310.8 742,311.4 743.7,315 744,314.2 745.3,311.1 746,310.4 747.2,309.1 748,310.2 749.2,311.7 750,312.4 751.7,313.9 752,313.9 754,314.2 756,314.4 756.7,314.5 758,314.7 760,315.1 760.8,315.4 762,315.9 764,316.7 765,317.1 766,317.5 768,318.3 768.3,318.4 770,318.2 771.7,318.3 772,317.9 773.7,316 774,315.9 776,315.7 776.7,315.7 778,315.1 779.7,313.6 780,314 781.7,316.8 782,317.7 783.7,322.3 784,322.9 786,326.7 786.3,327.3 788,327.7 790,328.1 792,328.6 793.3,328.9 794,328.8 795,328.6 796,327.7 797.5,326.3 798,326.1 800,325.3 802,326.5 802.5,326.8 804,327.7 805.8,328.8 806,328.6 808,327 808.3,326.7 810,323.5 810.8,322 812,321.2 813,320.5 814,320.6 815.3,320.7 816,321.7 817.5,324 818,323.6 820,322 822,322.9 822.5,323.4 824,325.4 824.7,326.3 826,330.4 826.7,332.5 828,333.1 830,334.1 832,334 834,333.9 834.2,333.9 836,333.6 838,333.2 838.3,333.1 840,333.4 840.8,333.6 842,333.5 843.3,333.5 844,333.2 845.8,332.6 846,332.6 848,332.7 848.3,332.7 850,333.6 850.8,334.1 852,334.5 853.3,335 854,334.8 856,334.2 856.3,334.1 858,333.6 859.2,333.2 860,333.3 861.7,333.5 862,333.4 864,333.1 864.2,333 865.8,332.9 L865.8,340.5 Z"/>
<path fill="#f3faac" d="M160,340.5 L160,310.7 162,308.4 162.5,307.8 164,305.4 165.8,302.4 166,302.4 167.5,301.8 168,301.8 169.7,301.6 170,302 170.8,303.1 172,305.1 172.5,305.9 174,304.3 174.2,304.1 175.8,295.1 176,293.7 177,287.8 178,285.8 178.3,285.2 179.7,291.6 180,296 180.8,307.1 181.7,315.1 182,315.9 183.3,319.2 184,317.3 185,314.4 186,311.4 187,308.8 188,309.9 188.3,310.3 190,313.8 192,315.9 192.5,316.4 194,317.4 195,318.1 196,319.3 197.5,321 198,321.4 199.7,322.6 200,323.2 201.7,326.5 202,326.9 203.3,328.8 204,329.2 205,329.6 206,328.4 206.3,328 207.5,328.7 208,327 209.2,323 210,321.8 211.7,319.3 212,319 213.7,317.4 214,317.5 215.8,318.8 216,318.8 217.5,318.4 218,318.4 219.7,318.1 220,318.3 222,319.9 222.5,320.3 224,322 225,323.1 226,322.1 227.5,320.5 228,320.6 230,320.9 232,321.6 233.3,322.1 234,322.5 236,323.4 236.7,323.7 238,322.8 240,321.5 242,319.8 243.3,318.7 244,318.6 245.8,318.4 246,318.2 248,316.5 249.2,315.6 250,316 252,317.4 252.5,317.7 254,320.2 254.2,320.6 255.8,324.5 256,324.4 258,323.8 260,318.7 261.7,316.9 262,316.8 263.7,316.5 264,317.1 265.8,320.9 266,321.4 268,326.4 268.3,327.1 270,330 272,329.8 273.3,329.7 274,329.4 275.8,328.7 276,328.6 278,327.8 280,324.3 282,320.7 282.5,319.8 284,318.5 285,317.8 286,317.9 287.5,318.1 288,318.6 290,320.8 292,324.7 292.5,325.7 294,326 294.2,325.6 295.8,319.4 296,318.9 298,314 298.3,313.2 300,310.3 302,308.3 303.3,298.8 304,295.6 305,291 306,287.6 307.5,283.6 308,284.5 309.2,286.7 310,290.7 310.8,294.7 312,301.3 313,310.2 314,320.7 314.3,323.6 315.7,328.6 316,329.4 317,331.8 318,331.3 318.3,330.8 319.3,328.9 320,328.6 322,327.6 324,327.2 324.2,327.1 326,327.2 326.7,327.3 328,326.9 329.7,326.3 330,326.3 331.7,326 332,326.2 334,327.1 334.2,327.2 336,326 336.7,325.5 338,324.9 340,323.9 342,324.2 343.3,324.4 344,324.5 346,324.7 346.7,324.8 348,324.6 348.3,324.5 350,324.9 351.7,325.2 352,325.1 354,324.7 355,324.4 356,324 358,323.1 360,324.5 360.8,325 362,325.4 364,326.1 364.2,326.2 366,326.3 367.5,326.4 368,326.4 370,326.4 370.8,326.4 372,325.7 373.3,324.9 374,324.5 375.8,323.4 376,323.4 378,323.1 379.2,322.8 380,322.9 382,323.1 382.5,323.2 384,323.9 385.8,324.7 386,324.8 388,325.8 389.2,326.5 390,327 392,328.2 392.5,328.5 394,328.9 395.8,329.2 396,329.2 398,329 399.2,329 400,328.3 401.7,326.8 402,326.2 404,322.2 404.2,321.8 406,319.8 407.5,318.1 408,318.1 410,318 412,318.7 412.5,318.8 414,319.3 415,319.7 416,321 418,323.6 418.3,324 420,325.4 421.3,326.4 422,326.7 424,327.8 424.2,327.9 426,328.5 426.7,328.7 428,328.4 429.2,328 430,327.9 432,327.6 432.5,327.5 434,327.4 435.8,327.3 436,327.4 438,327.5 439.2,327.5 440,327.4 441.7,327.2 442,327.1 444,326.2 444.2,326.1 446,324.4 446.3,324.2 448,325 448.5,325.2 450,326.6 451,328.1 452,329.4 453.5,331.4 454,331.1 455,330.6 456,322.9 457.2,310 457.5,298.9 458,283.6 458.7,257.5 460,211.6 460.8,180.6 461.7,155.9 462,148.9 462.5,137.2 463.3,126 464,125.6 464.5,125.5 465.8,132.9 466,134.5 467.2,143.9 468,140.9 468.3,139.8 469.7,135.9 470,137.3 470.8,141.5 472,154.3 472.5,159.4 474,176.7 474.2,178.9 475.5,194.2 476,192.9 477,190.2 478,178.9 478.3,175.5 480,172.3 482,175.1 483.3,186.3 484,198.8 484.2,202.4 485.8,219.4 486,220.1 487.5,225.2 488,222.3 489.2,215.7 490,211.9 490.8,208.3 492,215.3 492.5,219.1 493,239.1 494,260.4 494.2,264.5 495.8,293.1 496,296.5 497.5,314.3 498,312.1 499.7,303.3 500,303.8 500.8,305.2 502,310.8 502.5,312.7 504,307.5 504.2,306.8 505.8,296.8 506,296.1 508,289.9 508.3,289.3 510,290 510.8,290.3 512,291.8 513.3,293.5 514,295.1 515.3,300 516,304.1 517.5,312.7 518,313.6 519.7,316.6 520,316.2 521.7,310.2 522,308.8 524,299.2 524.2,298.2 525.8,290.8 526,291.2 527.5,298.3 528,302 529.2,310.6 530,311.7 531.7,314.6 532,315.3 533.7,319.4 534,320.3 535,323.1 536,323.7 537.5,323.5 538,323.6 540,324.2 542,324 543.3,324 544,324.8 545.3,326.3 546,326.6 547.5,327.2 548,327.2 549.2,327.1 550,326 551.7,323.2 552,322.7 554,319.1 554.2,318.7 556,317.2 556.7,316.8 558,317.1 559.2,317.5 560,319.1 560.8,320.8 562,320.3 562.5,320.2 564,320.3 565.8,320.5 566,320.4 568,319.5 568.3,319.3 570,317.2 570.3,316.9 572,319.1 572.5,319.8 574,321.1 575,322 576,322.1 577.5,322.3 578,322.3 580,322.3 582,323 584,320 584.2,319.7 586,316.4 586.7,315.1 588,314.3 588.3,314.2 590,315.4 590.8,316.1 592,317.2 593.3,318.3 594,318 595.8,317.3 596,317.3 597.5,317.4 598,317.6 600,318.2 602,317.3 602.5,317 604,312.9 604.2,312.3 605.8,308.4 606,308.6 607.5,310.2 608,310.9 609.2,312.7 610,311.5 610.8,310.1 612,308.8 614,308.7 614.2,308.7 616,309.4 616.7,309.7 618,309.7 618.3,309.7 620,309.5 620.8,310.1 622,311.8 623.3,313.7 624,314.1 625.8,313.8 626,312.5 627.5,302.3 628,299.9 629.2,294.1 630,295.7 630.3,296.3 631.7,306.3 632,307.9 633,313.2 634,311 635,308.8 636,306 637,303.1 638,298.8 638.7,295.8 640,283.8 640.3,281.4 642,278 642.5,277 644,273.9 645,271.5 646,269.1 647,266.6 648,259.1 648.3,257.3 650,251.5 651.3,257 652,264.9 652.5,270.6 653.7,285.4 654,285.8 655.8,291.8 656,293.3 657,300.4 658,312.2 659.2,322.9 660,322.1 660.8,321.4 662,307.7 662.5,300.7 663.3,288.4 664,276.1 664.7,272.7 665.8,283.1 666,286.7 667,303.4 668,307.7 668.3,309 670,311.7 670.8,313 672,313.7 673,314.2 674,312.1 675,309.9 676,308.5 678,305.1 678.3,304.6 680,303.7 682,305.8 683.3,307.1 684,307.5 686,308.7 687.5,309.6 688,310.2 690,309.4 691.7,300 692,296.7 693,283.3 694,268.6 694.7,257.6 695.8,240.9 696,238.7 697,227.6 698,232.1 699.2,247.1 700,254.9 700.3,257.8 701.7,249.6 702,246.3 702.8,237.3 704,232.5 704.2,231.7 705.8,230.7 706,231.8 707,237 708,245.7 708.7,251.7 710,265.4 710.3,268.6 712,281.5 712.5,287.6 714,303.7 714.2,305.7 715.8,317.6 716,318.5 718,319.4 718.3,319.5 720,317.5 720.8,316.4 722,317.4 723.3,317.9 724,318.9 725.8,321.5 726,321.8 727.5,324.1 728,324.3 729.2,324.7 730,324.9 732,325.3 732.5,325.5 734,324 735,323.1 736,320.4 736.7,318.4 738,315.7 738.3,315 740,314.3 741.7,314.1 742,314.6 743.7,317.6 744,316.9 745.3,314.2 746,313.6 747.2,312.4 748,313.3 749.2,314.6 750,315.2 751.7,316.4 752,316.5 754,316.7 756,316.9 756.7,317 758,317.2 760,317.5 760.8,317.8 762,318.2 764,319 765,319.3 766,319.7 768,320.4 768.3,320.6 770,320.4 771.7,320.7 772,320.4 773.7,319.1 774,319.2 776,319.5 776.7,319.6 778,319.5 779.7,318.5 780,318.9 781.7,321.4 782,322.2 783.7,325.8 784,326.3 786,329.3 786.3,329.8 788,330.1 790,330.5 792,330.8 793.3,331.1 794,331 795,330.8 796,330.1 797.5,329 798,328.8 800,328.2 802,329.2 802.5,329.4 804,330.1 805.8,331 806,330.9 808,329.5 808.3,329.3 810,326.7 810.8,325.5 812,324.9 813,324.3 814,324.4 815.3,324.5 816,325.3 817.5,327.1 818,326.8 820,325.5 822,326.2 822.5,326.6 824,328.3 824.7,329.1 826,332.3 826.7,334 828,334.5 830,335.3 832,335.3 834,335.2 834.2,335.2 836,334.9 838,334.6 838.3,334.6 840,334.8 840.8,334.9 842,334.9 843.3,334.9 844,334.7 845.8,334.1 846,334.1 848,334.2 848.3,334.2 850,335 850.8,335.3 852,335.7 853.3,336.1 854,335.9 856,335.4 856.3,335.3 858,334.9 859.2,334.6 860,334.7 861.7,334.8 862,334.8 864,334.5 864.2,334.5 865.8,334.4 L865.8,340.5 Z"/>
<path fill="#fbfdb8" d="M160,340.5 L160,315.8 162,314 162.5,313.5 164,311.6 165.8,309.3 166,309.2 167.5,308.8 168,308.8 169.7,308.7 170,309 170.8,309.9 172,311.5 172.5,312.2 174,310.9 174.2,310.8 175.8,303.7 176,302.6 177,298.1 178,296.7 178.3,296.3 179.7,301.6 180,305.1 180.8,313.7 181.7,320 182,320.6 183.3,323.1 184,321.6 185,319.3 186,316.9 187,314.9 188,315.9 188.3,316.1 190,319 192,320.8 192.5,321.2 194,322.1 195,322.8 196,323.7 197.5,325.1 198,325.4 199.7,326.5 200,327 201.7,329.5 202,329.9 203.3,331.4 204,331.7 205,332.1 206,331.1 206.3,330.9 207.5,331.3 208,330.1 209.2,327.1 210,326.2 211.7,324.3 212,324 213.7,322.8 214,323 215.8,324 216,323.9 217.5,323.7 218,323.6 219.7,323.4 220,323.5 222,324.7 222.5,325 224,326.3 225,327.1 226,326.4 227.5,325.2 228,325.2 230,325.5 232,326 233.3,326.4 234,326.7 236,327.4 236.7,327.6 238,326.9 240,326 242,324.7 243.3,323.8 244,323.7 245.8,323.6 246,323.4 248,322.2 249.2,321.5 250,321.8 252,322.9 252.5,323.1 254,325 254.2,325.2 255.8,328.2 256,328.2 258,327.7 260,323.9 261.7,322.5 262,322.5 263.7,322.2 264,322.7 265.8,325.5 266,325.9 268,329.6 268.3,330.2 270,332.3 272,332.2 273.3,332.1 274,331.9 275.8,331.4 276,331.3 278,330.7 280,328.1 282,325.3 282.5,324.7 284,323.7 285,323.2 286,323.3 287.5,323.4 288,323.8 290,325.4 292,328.4 292.5,329.1 294,329.3 294.2,328.9 295.8,323.2 296,322.7 298,317.6 298.3,316.8 300,313.6 302,311.3 303.3,302.7 304,299.8 305,295.4 306,292.2 307.5,288.4 308,289.3 309.2,291.5 310,295.2 310.8,298.9 312,304.8 313,313.3 314,323.1 314.3,325.6 315.7,330.4 316,331.1 317,333.2 318,333.1 318.3,332.7 319.3,331.1 320,330.8 322,329.8 324,329.3 324.2,329.2 326,329.1 326.7,329.2 328,328.8 329.7,328.3 330,328.3 331.7,328 332,328.1 334,328.8 334.2,328.9 336,327.8 336.7,327.4 338,326.9 340,326 342,326.2 343.3,326.4 344,326.5 346,326.7 346.7,326.8 348,326.6 348.3,326.5 350,326.8 351.7,327 352,327 354,326.6 355,326.4 356,326.1 358,325.4 360,326.5 360.8,326.9 362,327.3 364,327.8 364.2,327.9 366,328 367.5,328.1 368,328.1 370,328.1 370.8,328.1 372,327.5 373.3,326.8 374,326.5 375.8,325.6 376,325.6 378,325.3 379.2,325.2 380,325.2 382,325.5 382.5,325.5 384,326.2 385.8,326.9 386,327 388,327.9 389.2,328.4 390,328.8 392,329.9 392.5,330.2 394,330.5 395.8,330.7 396,330.7 398,330.5 399.2,330.5 400,329.9 401.7,328.6 402,328.1 404,324.8 404.2,324.4 406,322.7 407.5,321.2 408,321.2 410,321 412,321.6 412.5,321.8 414,322.3 415,322.6 416,323.7 418,325.9 418.3,326.3 420,327.5 421.3,328.3 422,328.6 424,329.4 424.2,329.5 426,330 426.7,330.2 428,329.9 429.2,329.6 430,329.5 432,329.3 432.5,329.2 434,329.1 435.8,329.1 436,329.1 438,329.2 439.2,329.3 440,329.2 441.7,329 442,328.9 444,328.2 444.2,328.1 446,326.7 446.3,326.5 448,327.2 448.5,327.4 450,328.5 451,329.9 452,331.1 453.5,332.9 454,332.7 455,332.5 456,326 457.2,314.5 457.5,304.6 458,290.4 458.7,265.5 460,221 460.8,190.8 461.7,167.4 462,160.8 462.5,149.8 463.3,139.2 464,138.6 464.5,138.2 465.8,144.5 466,145.9 467.2,153.9 468,150.7 468.3,149.5 469.7,145 470,146.1 470.8,149.8 472,161.3 472.5,166 474,182 474.2,184.1 475.5,198.4 476,197.2 477,194.9 478,184.6 478.3,181.5 480,179.1 482,183.1 483.3,194.3 484,206.4 484.2,209.8 485.8,226.2 486,226.9 487.5,232 488,229.5 489.2,223.8 490,220.5 490.8,217.3 492,223.7 492.5,227.1 493,245.4 494,265.9 494.2,269.8 495.8,297 496,300.2 497.5,316.2 498,314.4 499.7,306.9 500,307.4 500.8,308.6 502,313.6 502.5,315.2 504,310.6 504.2,310 505.8,301 506,300.2 508,294.4 508.3,293.8 510,294.3 510.8,294.6 512,295.9 513.3,297.5 514,298.9 515.3,303.5 516,307.4 517.5,315.2 518,316.1 519.7,318.9 520,318.5 521.7,313.1 522,311.8 524,303 524.2,302.1 525.8,295.3 526,295.5 527.5,302.1 528,305.5 529.2,313.3 530,314.5 531.7,317.3 532,318 533.7,321.9 534,322.7 535,325.3 536,326.1 537.5,326 538,326.2 540,326.8 542,326.8 543.3,326.8 544,327.5 545.3,328.7 546,328.9 547.5,329.4 548,329.4 549.2,329.4 550,328.5 551.7,326.3 552,325.9 554,323 554.2,322.7 556,321.5 556.7,321.1 558,321.3 559.2,321.6 560,322.9 560.8,324.2 562,323.8 562.5,323.7 564,323.8 565.8,323.9 566,323.8 568,323.1 568.3,322.9 570,321.3 570.3,321.1 572,322.8 572.5,323.3 574,324.4 575,325.1 576,325.2 577.5,325.3 578,325.3 580,325.3 582,325.8 584,323.5 584.2,323.2 586,320.7 586.7,319.7 588,319.1 588.3,318.9 590,319.9 590.8,320.4 592,321.2 593.3,322.1 594,321.9 595.8,321.3 596,321.3 597.5,321.3 598,321.5 600,321.9 602,320.9 602.5,320.6 604,317.2 604.2,316.7 605.8,313.2 606,313.3 607.5,314.2 608,314.7 609.2,315.9 610,314.7 610.8,313.4 612,312 614,312.1 614.2,312.1 616,312.7 616.7,312.9 618,313 618.3,313 620,313 620.8,313.6 622,315.3 623.3,317.1 624,317.6 625.8,317.5 626,316.4 627.5,307.9 628,305.8 629.2,300.9 630,302.1 630.3,302.5 631.7,310.6 632,311.8 633,316.1 634,313.8 635,311.5 636,308.7 637,305.8 638,301.7 638.7,298.7 640,287.5 640.3,285.3 642,282 642.5,281 644,277.9 645,275.7 646,273.4 647,271.1 648,264.1 648.3,262.5 650,257.5 651.3,262.7 652,270.1 652.5,275.3 653.7,288.9 654,289.3 655.8,295.3 656,296.8 657,303.9 658,314.9 659.2,324.5 660,324 660.8,323.6 662,311.4 662.5,304.9 663.3,293.4 664,281.7 664.7,279.4 665.8,289.9 666,293.2 667,308.5 668,312 668.3,313 670,315.1 670.8,316.1 672,316.6 673,316.8 674,314.9 675,313 676,311.6 678,308.4 678.3,308 680,307 682,308.8 683.3,310 684,310.4 686,311.5 687.5,312.3 688,312.8 690,311.6 691.7,302.9 692,299.9 693,287.5 694,273.6 694.7,263.2 695.8,247.2 696,245 697,234 698,238.1 699.2,251.9 700,259.1 700.3,261.8 701.7,254.3 702,251.2 702.8,243 704,238.6 704.2,237.8 705.8,237.1 706,238.2 707,243.2 708,251.5 708.7,257.2 710,270 710.3,273 712,285.1 712.5,291 714,306.8 714.2,308.7 715.8,320.3 716,321.2 718,322.2 718.3,322.4 720,320.9 720.8,320.1 722,320.9 723.3,321.3 724,322 725.8,324.1 726,324.3 727.5,326.1 728,326.3 729.2,326.6 730,326.7 732,327 732.5,327.1 734,325.8 735,325 736,322.7 736.7,321.1 738,318.7 738.3,318.2 740,317.5 741.7,317.3 742,317.7 743.7,320.2 744,319.6 745.3,317.3 746,316.7 747.2,315.7 748,316.4 749.2,317.5 750,318 751.7,319 752,319 754,319.2 756,319.4 756.7,319.5 758,319.6 760,319.9 760.8,320.2 762,320.6 764,321.2 765,321.6 766,321.9 768,322.6 768.3,322.7 770,322.6 771.7,323.1 772,322.9 773.7,322.3 774,322.4 776,323.2 776.7,323.6 778,323.9 779.7,323.5 780,323.8 781.7,326 782,326.6 783.7,329.3 784,329.7 786,332 786.3,332.3 788,332.5 790,332.8 792,333.1 793.3,333.2 794,333.2 795,333.1 796,332.5 797.5,331.7 798,331.6 800,331.1 802,331.8 802.5,332 804,332.5 805.8,333.2 806,333.1 808,332.1 808.3,331.9 810,330 810.8,329.1 812,328.6 813,328.2 814,328.2 815.3,328.3 816,328.9 817.5,330.2 818,330 820,329.1 822,329.6 822.5,329.9 824,331.2 824.7,331.8 826,334.2 826.7,335.5 828,335.9 830,336.6 832,336.5 834,336.5 834.2,336.5 836,336.3 838,336 838.3,336 840,336.2 840.8,336.3 842,336.2 843.3,336.2 844,336.1 845.8,335.7 846,335.7 848,335.7 848.3,335.8 850,336.3 850.8,336.5 852,336.8 853.3,337.1 854,337 856,336.6 856.3,336.5 858,336.3 859.2,336 860,336.1 861.7,336.2 862,336.2 864,335.9 864.2,335.9 865.8,335.9 L865.8,340.5 Z"/>
<path fill="#fffab6" d="M160,340.5 L160,320.9 162,319.6 162.5,319.2 164,317.8 165.8,316.1 166,316.1 167.5,315.8 168,315.8 169.7,315.8 170,316 170.8,316.7 172,317.9 172.5,318.4 174,317.5 174.2,317.4 175.8,312.2 176,311.4 177,308.3 178,307.6 178.3,307.4 179.7,311.7 180,314.2 180.8,320.4 181.7,324.8 182,325.2 183.3,327 184,325.9 185,324.1 186,322.4 187,321 188,321.8 188.3,322 190,324.2 192,325.7 192.5,326 194,326.9 195,327.4 196,328.1 197.5,329.2 198,329.5 199.7,330.4 200,330.7 201.7,332.6 202,332.9 203.3,334 204,334.2 205,334.5 206,333.9 206.3,333.7 207.5,334 208,333.2 209.2,331.2 210,330.6 211.7,329.3 212,329.1 213.7,328.3 214,328.4 215.8,329.1 216,329 217.5,328.9 218,328.8 219.7,328.7 220,328.8 222,329.6 222.5,329.7 224,330.6 225,331.2 226,330.7 227.5,329.8 228,329.9 230,330.1 232,330.4 233.3,330.7 234,330.9 236,331.3 236.7,331.5 238,331.1 240,330.4 242,329.5 243.3,328.9 244,328.9 245.8,328.8 246,328.7 248,327.9 249.2,327.4 250,327.6 252,328.3 252.5,328.5 254,329.8 254.2,329.9 255.8,331.9 256,331.9 258,331.6 260,329 261.7,328.1 262,328.1 263.7,327.9 264,328.2 265.8,330.1 266,330.4 268,332.9 268.3,333.3 270,334.7 272,334.6 273.3,334.5 274,334.4 275.8,334.1 276,334 278,333.6 280,331.9 282,330 282.5,329.5 284,328.9 285,328.5 286,328.6 287.5,328.7 288,329 290,330 292,332 292.5,332.5 294,332.6 294.2,332.3 295.8,327 296,326.5 298,321.3 298.3,320.5 300,317 302,314.4 303.3,306.7 304,304 305,299.9 306,296.7 307.5,293.3 308,294.2 309.2,296.3 310,299.7 310.8,303 312,308.3 313,316.5 314,325.4 314.3,327.7 315.7,332.2 316,332.8 317,334.7 318,334.9 318.3,334.6 319.3,333.3 320,333 322,332 324,331.3 324.2,331.3 326,331.1 326.7,331.1 328,330.7 329.7,330.3 330,330.2 331.7,330 332,330.1 334,330.5 334.2,330.6 336,329.7 336.7,329.4 338,328.9 340,328.2 342,328.3 343.3,328.4 344,328.5 346,328.7 346.7,328.7 348,328.5 348.3,328.5 350,328.7 351.7,328.9 352,328.9 354,328.6 355,328.4 356,328.2 358,327.6 360,328.5 360.8,328.9 362,329.1 364,329.6 364.2,329.6 366,329.7 367.5,329.8 368,329.8 370,329.8 370.8,329.8 372,329.3 373.3,328.8 374,328.5 375.8,327.8 376,327.8 378,327.6 379.2,327.5 380,327.5 382,327.8 382.5,327.9 384,328.4 385.8,329.1 386,329.2 388,329.9 389.2,330.4 390,330.7 392,331.6 392.5,331.8 394,332.1 395.8,332.2 396,332.2 398,332 399.2,331.9 400,331.4 401.7,330.4 402,330 404,327.3 404.2,327 406,325.6 407.5,324.3 408,324.3 410,324 412,324.6 412.5,324.8 414,325.2 415,325.5 416,326.5 418,328.3 418.3,328.6 420,329.6 421.3,330.2 422,330.5 424,331.1 424.2,331.2 426,331.6 426.7,331.7 428,331.5 429.2,331.3 430,331.2 432,331 432.5,330.9 434,330.9 435.8,330.8 436,330.8 438,330.9 439.2,331 440,330.9 441.7,330.8 442,330.7 444,330.1 444.2,330.1 446,329.1 446.3,328.9 448,329.4 448.5,329.6 450,330.4 451,331.7 452,332.8 453.5,334.4 454,334.4 455,334.5 456,329.1 457.2,319.1 457.5,310.3 458,297.1 458.7,273.4 460,230.4 460.8,200.9 461.7,178.7 462,172.6 462.5,162.3 463.3,152.2 464,151.4 464.5,150.9 465.8,156 466,157.1 467.2,163.8 468,160.3 468.3,159 469.7,153.9 470,154.7 470.8,157.8 472,168.1 472.5,172.4 474,187 474.2,188.9 475.5,202.2 476,201.2 477,199.3 478,190 478.3,187.1 480,185.5 482,190.6 483.3,202 484,213.6 484.2,216.8 485.8,232.7 486,233.4 487.5,238.6 488,236.5 489.2,231.6 490,228.7 490.8,225.9 492,231.9 492.5,235 493,251.8 494,271.4 494.2,275.1 495.8,300.9 496,303.9 497.5,318.1 498,316.7 499.7,310.5 500,310.9 500.8,312.1 502,316.4 502.5,317.7 504,313.7 504.2,313.1 505.8,305.1 506,304.4 508,298.9 508.3,298.3 510,298.7 510.8,298.8 512,300 513.3,301.4 514,302.7 515.3,307.1 516,310.6 517.5,317.7 518,318.5 519.7,321.1 520,320.9 521.7,315.9 522,314.8 524,306.9 524.2,306 525.8,299.7 526,299.8 527.5,306 528,309.1 529.2,316 530,317.2 531.7,320 532,320.7 533.7,324.4 534,325.1 535,327.5 536,328.5 537.5,328.6 538,328.7 540,329.4 542,329.6 543.3,329.7 544,330.2 545.3,331.1 546,331.3 547.5,331.7 548,331.7 549.2,331.7 550,331.1 551.7,329.4 552,329 554,326.9 554.2,326.6 556,325.7 556.7,325.5 558,325.6 559.2,325.8 560,326.7 560.8,327.6 562,327.3 562.5,327.2 564,327.2 565.8,327.3 566,327.2 568,326.7 568.3,326.6 570,325.4 570.3,325.2 572,326.5 572.5,326.9 574,327.6 575,328.1 576,328.2 577.5,328.3 578,328.3 580,328.3 582,328.7 584,327 584.2,326.8 586,325 586.7,324.2 588,323.8 588.3,323.7 590,324.4 590.8,324.7 592,325.3 593.3,325.9 594,325.7 595.8,325.3 596,325.3 597.5,325.3 598,325.4 600,325.7 602,324.6 602.5,324.3 604,321.4 604.2,321 605.8,317.9 606,318 607.5,318.2 608,318.4 609.2,319.1 610,317.9 610.8,316.7 612,315.3 614,315.4 614.2,315.4 616,316 616.7,316.2 618,316.3 618.3,316.3 620,316.4 620.8,317.1 622,318.8 623.3,320.6 624,321.1 625.8,321.2 626,320.3 627.5,313.5 628,311.8 629.2,307.7 630,308.4 630.3,308.7 631.7,314.8 632,315.7 633,319 634,316.6 635,314.3 636,311.4 637,308.5 638,304.5 638.7,301.6 640,291.2 640.3,289.2 642,285.9 642.5,284.9 644,282 645,279.9 646,277.7 647,275.5 648,269.1 648.3,267.8 650,263.6 651.3,268.5 652,275.2 652.5,280 653.7,292.4 654,292.7 655.8,298.8 656,300.3 657,307.3 658,317.5 659.2,326 660,325.9 660.8,325.9 662,315 662.5,309.1 663.3,298.3 664,287.2 664.7,286.2 665.8,296.7 666,299.7 667,313.7 668,316.3 668.3,317.1 670,318.5 670.8,319.2 672,319.5 673,319.5 674,317.8 675,316 676,314.7 678,311.8 678.3,311.4 680,310.4 682,311.9 683.3,313 684,313.3 686,314.3 687.5,315 688,315.4 690,313.8 691.7,305.9 692,303.2 693,291.6 694,278.7 694.7,268.8 695.8,253.4 696,251.3 697,240.4 698,244.1 699.2,256.7 700,263.3 700.3,265.8 701.7,258.9 702,256.1 702.8,248.6 704,244.6 704.2,243.9 705.8,243.5 706,244.5 707,249.4 708,257.3 708.7,262.7 710,274.7 710.3,277.4 712,288.7 712.5,294.5 714,309.8 714.2,311.7 715.8,323.1 716,324 718,325 718.3,325.2 720,324.3 720.8,323.7 722,324.5 723.3,324.7 724,325.2 725.8,326.7 726,326.8 727.5,328.2 728,328.3 729.2,328.4 730,328.5 732,328.7 732.5,328.7 734,327.7 735,326.9 736,325.1 736.7,323.7 738,321.8 738.3,321.4 740,320.8 741.7,320.5 742,320.9 743.7,322.8 744,322.3 745.3,320.4 746,319.9 747.2,319 748,319.6 749.2,320.4 750,320.7 751.7,321.5 752,321.6 754,321.7 756,321.9 756.7,321.9 758,322.1 760,322.3 760.8,322.5 762,322.9 764,323.5 765,323.8 766,324.1 768,324.7 768.3,324.8 770,324.8 771.7,325.5 772,325.4 773.7,325.4 774,325.6 776,327 776.7,327.5 778,328.3 779.7,328.4 780,328.7 781.7,330.6 782,331 783.7,332.8 784,333.1 786,334.6 786.3,334.8 788,335 790,335.1 792,335.3 793.3,335.4 794,335.4 795,335.3 796,334.9 797.5,334.4 798,334.3 800,334 802,334.5 802.5,334.6 804,334.9 805.8,335.4 806,335.3 808,334.6 808.3,334.5 810,333.2 810.8,332.6 812,332.3 813,332 814,332 815.3,332.1 816,332.5 817.5,333.4 818,333.2 820,332.6 822,332.9 822.5,333.2 824,334.1 824.7,334.5 826,336.2 826.7,337 828,337.3 830,337.8 832,337.8 834,337.8 834.2,337.7 836,337.6 838,337.5 838.3,337.4 840,337.6 840.8,337.6 842,337.6 843.3,337.6 844,337.5 845.8,337.2 846,337.2 848,337.3 848.3,337.3 850,337.6 850.8,337.8 852,338 853.3,338.1 854,338.1 856,337.8 856.3,337.8 858,337.6 859.2,337.5 860,337.5 861.7,337.6 862,337.5 864,337.4 864.2,337.4 865.8,337.4 L865.8,340.5 Z"/>
<path fill="#fff0a6" d="M160,340.5 L160,326 162,325.2 162.5,325 164,324 165.8,323 166,322.9 167.5,322.8 168,322.8 169.7,322.8 170,323 170.8,323.5 172,324.3 172.5,324.7 174,324.2 174.2,324.1 175.8,320.8 176,320.3 177,318.6 178,318.5 178.3,318.5 179.7,321.7 180,323.3 180.8,327 181.7,329.7 182,329.9 183.3,331 184,330.2 185,329 186,327.9 187,327.1 188,327.7 188.3,327.9 190,329.4 192,330.6 192.5,330.9 194,331.6 195,332 196,332.6 197.5,333.4 198,333.6 199.7,334.2 200,334.4 201.7,335.6 202,335.8 203.3,336.5 204,336.7 205,337 206,336.7 206.3,336.6 207.5,336.7 208,336.3 209.2,335.3 210,335 211.7,334.3 212,334.2 213.7,333.8 214,333.9 215.8,334.2 216,334.2 217.5,334.1 218,334 219.7,334 220,334 222,334.4 222.5,334.5 224,334.9 225,335.2 226,335 227.5,334.5 228,334.6 230,334.7 232,334.8 233.3,335 234,335.1 236,335.3 236.7,335.4 238,335.2 240,334.8 242,334.4 243.3,334.1 244,334.1 245.8,334 246,334 248,333.5 249.2,333.3 250,333.4 252,333.8 252.5,333.9 254,334.5 254.2,334.6 255.8,335.6 256,335.6 258,335.4 260,334.2 261.7,333.7 262,333.7 263.7,333.6 264,333.8 265.8,334.7 266,334.8 268,336.1 268.3,336.3 270,337.1 272,337 273.3,337 274,336.9 275.8,336.7 276,336.7 278,336.5 280,335.6 282,334.7 282.5,334.4 284,334.1 285,333.9 286,333.9 287.5,334 288,334.1 290,334.7 292,335.7 292.5,335.9 294,336 294.2,335.6 295.8,330.8 296,330.3 298,324.9 298.3,324.1 300,320.3 302,317.5 303.3,310.7 304,308.2 305,304.4 306,301.3 307.5,298.1 308,299 309.2,301.1 310,304.1 310.8,307.1 312,311.8 313,319.7 314,327.8 314.3,329.8 315.7,334 316,334.5 317,336.1 318,336.7 318.3,336.5 319.3,335.5 320,335.2 322,334.2 324,333.4 324.2,333.4 326,333 326.7,333 328,332.7 329.7,332.3 330,332.2 331.7,332 332,332 334,332.2 334.2,332.2 336,331.6 336.7,331.3 338,330.9 340,330.3 342,330.4 343.3,330.5 344,330.5 346,330.6 346.7,330.6 348,330.5 348.3,330.5 350,330.6 351.7,330.8 352,330.7 354,330.5 355,330.5 356,330.3 358,329.9 360,330.5 360.8,330.8 362,331 364,331.3 364.2,331.3 366,331.4 367.5,331.4 368,331.4 370,331.4 370.8,331.4 372,331.1 373.3,330.7 374,330.5 375.8,330 376,330 378,329.9 379.2,329.8 380,329.9 382,330.2 382.5,330.2 384,330.7 385.8,331.3 386,331.3 388,332 389.2,332.3 390,332.6 392,333.3 392.5,333.4 394,333.7 395.8,333.8 396,333.8 398,333.5 399.2,333.4 400,333 401.7,332.2 402,331.9 404,329.8 404.2,329.6 406,328.4 407.5,327.4 408,327.3 410,327 412,327.6 412.5,327.7 414,328.2 415,328.4 416,329.2 418,330.6 418.3,330.9 420,331.7 421.3,332.1 422,332.3 424,332.8 424.2,332.8 426,333.1 426.7,333.2 428,333 429.2,332.9 430,332.8 432,332.7 432.5,332.7 434,332.6 435.8,332.6 436,332.6 438,332.6 439.2,332.7 440,332.6 441.7,332.5 442,332.5 444,332.1 444.2,332.1 446,331.4 446.3,331.2 448,331.6 448.5,331.7 450,332.3 451,333.5 452,334.5 453.5,335.9 454,336 455,336.4 456,332.2 457.2,323.6 457.5,316 458,303.8 458.7,281.4 460,239.8 460.8,211.1 461.7,190.1 462,184.4 462.5,174.8 463.3,165.3 464,164.3 464.5,163.5 465.8,167.5 466,168.4 467.2,173.7 468,169.9 468.3,168.4 469.7,162.8 470,163.4 470.8,165.9 472,174.9 472.5,178.7 474,192 474.2,193.7 475.5,206 476,205.3 477,203.7 478,195.3 478.3,192.8 480,191.9 482,198.2 483.3,209.7 484,220.8 484.2,223.9 485.8,239.2 486,239.9 487.5,245.1 488,243.4 489.2,239.4 490,237 490.8,234.6 492,240.1 492.5,243 493,258.1 494,276.8 494.2,280.4 495.8,304.8 496,307.6 497.5,319.9 498,318.9 499.7,314.1 500,314.5 500.8,315.5 502,319.1 502.5,320.1 504,316.8 504.2,316.3 505.8,309.3 506,308.6 508,303.4 508.3,302.9 510,303 510.8,303.1 512,304.1 513.3,305.4 514,306.4 515.3,310.7 516,313.9 517.5,320.2 518,321 519.7,323.3 520,323.2 521.7,318.8 522,317.8 524,310.7 524.2,309.9 525.8,304.1 526,304.2 527.5,309.9 528,312.6 529.2,318.6 530,319.9 531.7,322.8 532,323.4 533.7,326.9 534,327.6 535,329.7 536,330.8 537.5,331.1 538,331.3 540,332 542,332.3 543.3,332.5 544,332.9 545.3,333.6 546,333.7 547.5,333.9 548,333.9 549.2,334 550,333.6 551.7,332.5 552,332.2 554,330.8 554.2,330.6 556,330 556.7,329.8 558,329.9 559.2,329.9 560,330.5 560.8,331 562,330.8 562.5,330.7 564,330.7 565.8,330.6 566,330.6 568,330.3 568.3,330.2 570,329.5 570.3,329.4 572,330.2 572.5,330.4 574,330.9 575,331.2 576,331.2 577.5,331.3 578,331.3 580,331.3 582,331.5 584,330.5 584.2,330.4 586,329.3 586.7,328.8 588,328.5 588.3,328.5 590,328.9 590.8,329.1 592,329.4 593.3,329.7 594,329.6 595.8,329.2 596,329.2 597.5,329.2 598,329.2 600,329.4 602,328.2 602.5,327.9 604,325.7 604.2,325.4 605.8,322.7 606,322.6 607.5,322.2 608,322.2 609.2,322.2 610,321.1 610.8,320 612,318.5 614,318.7 614.2,318.7 616,319.3 616.7,319.5 618,319.6 618.3,319.7 620,319.8 620.8,320.6 622,322.3 623.3,324 624,324.6 625.8,324.9 626,324.2 627.5,319.1 628,317.8 629.2,314.5 630,314.8 630.3,314.9 631.7,319 632,319.7 633,321.9 634,319.5 635,317 636,314.1 637,311.2 638,307.4 638.7,304.6 640,295 640.3,293.1 642,289.9 642.5,288.9 644,286 645,284.1 646,282.1 647,280 648,274.2 648.3,273 650,269.6 651.3,274.2 652,280.4 652.5,284.7 653.7,295.9 654,296.2 655.8,302.3 656,303.8 657,310.8 658,320.2 659.2,327.6 660,327.8 660.8,328.2 662,318.7 662.5,313.2 663.3,303.2 664,292.8 664.7,292.9 665.8,303.4 666,306.3 667,318.8 668,320.6 668.3,321.1 670,321.9 670.8,322.4 672,322.3 673,322.1 674,320.6 675,319 676,317.8 678,315.2 678.3,314.8 680,313.7 682,315 683.3,315.9 684,316.2 686,317 687.5,317.7 688,318 690,316 691.7,308.8 692,306.4 693,295.8 694,283.7 694.7,274.4 695.8,259.7 696,257.6 697,246.8 698,250.1 699.2,261.5 700,267.5 700.3,269.7 701.7,263.5 702,261 702.8,254.2 704,250.6 704.2,250 705.8,249.9 706,250.9 707,255.7 708,263.1 708.7,268.2 710,279.3 710.3,281.8 712,292.2 712.5,298 714,312.9 714.2,314.7 715.8,325.8 716,326.8 718,327.9 718.3,328 720,327.7 720.8,327.4 722,328 723.3,328 724,328.4 725.8,329.3 726,329.4 727.5,330.3 728,330.3 729.2,330.3 730,330.3 732,330.3 732.5,330.3 734,329.5 735,328.9 736,327.4 736.7,326.4 738,324.9 738.3,324.5 740,324 741.7,323.8 742,324 743.7,325.4 744,325 745.3,323.5 746,323 747.2,322.3 748,322.7 749.2,323.3 750,323.5 751.7,324.1 752,324.1 754,324.2 756,324.4 756.7,324.4 758,324.5 760,324.7 760.8,324.9 762,325.2 764,325.8 765,326 766,326.3 768,326.8 768.3,326.9 770,327 771.7,327.9 772,327.9 773.7,328.6 774,328.9 776,330.8 776.7,331.5 778,332.8 779.7,333.4 780,333.6 781.7,335.1 782,335.5 783.7,336.4 784,336.5 786,337.2 786.3,337.3 788,337.4 790,337.5 792,337.5 793.3,337.6 794,337.6 795,337.5 796,337.3 797.5,337.1 798,337 800,336.9 802,337.1 802.5,337.2 804,337.3 805.8,337.5 806,337.5 808,337.2 808.3,337.1 810,336.5 810.8,336.1 812,336 813,335.8 814,335.8 815.3,335.9 816,336.1 817.5,336.5 818,336.4 820,336.1 822,336.3 822.5,336.4 824,337 824.7,337.2 826,338.1 826.7,338.5 828,338.7 830,339.1 832,339.1 834,339 834.2,339 836,339 838,338.9 838.3,338.9 840,338.9 840.8,339 842,338.9 843.3,338.9 844,338.9 845.8,338.8 846,338.8 848,338.8 848.3,338.8 850,338.9 850.8,339 852,339.1 853.3,339.2 854,339.1 856,339 856.3,339 858,338.9 859.2,338.9 860,338.9 861.7,338.9 862,338.9 864,338.8 864.2,338.8 865.8,338.8 L865.8,340.5 Z"/>
<path fill="#fee593" d="M160,340.5 L160,328.4 162,327.9 162.5,327.8 164,327.2 165.8,326.6 166,326.6 167.5,326.6 168,326.6 169.7,326.7 170,326.9 170.8,327.2 172,327.8 172.5,328 174,327.8 174.2,327.8 175.8,325.9 176,325.6 177,325.1 178,325.5 178.3,325.6 179.7,327.9 180,328.9 180.8,330.7 181.7,332 182,332.1 183.3,332.7 184,332.2 185,331.5 186,330.8 187,330.5 188,331 188.3,331.2 190,332.3 192,333.3 192.5,333.5 194,334.1 195,334.5 196,334.9 197.5,335.4 198,335.6 199.7,336.1 200,336.2 201.7,336.8 202,336.9 203.3,337.3 204,337.5 205,337.7 206,337.6 206.3,337.5 207.5,337.6 208,337.5 209.2,337.1 210,337 211.7,336.8 212,336.8 213.7,336.7 214,336.7 215.8,336.7 216,336.7 217.5,336.5 218,336.5 219.7,336.3 220,336.3 222,336.3 222.5,336.3 224,336.3 225,336.4 226,336.3 227.5,336.2 228,336.2 230,336.2 232,336.3 233.3,336.3 234,336.3 236,336.4 236.7,336.5 238,336.4 240,336.3 242,336.2 243.3,336.1 244,336.1 245.8,336.1 246,336.1 248,336.1 249.2,336 250,336.1 252,336.2 252.5,336.2 254,336.4 254.2,336.5 255.8,336.9 256,336.9 258,336.9 260,336.7 261.7,336.6 262,336.6 263.7,336.7 264,336.7 265.8,337 266,337.1 268,337.4 268.3,337.5 270,337.7 272,337.7 273.3,337.7 274,337.7 275.8,337.6 276,337.6 278,337.6 280,337.3 282,337 282.5,336.9 284,336.8 285,336.7 286,336.7 287.5,336.6 288,336.6 290,336.7 292,336.9 292.5,337 294,336.9 294.2,336.5 295.8,332.3 296,331.8 298,326.5 298.3,325.6 300,321.7 302,319 303.3,313.1 304,310.9 305,307.4 306,304.6 307.5,301.8 308,302.7 309.2,304.8 310,307.6 310.8,310.2 312,314.4 313,321.9 314,329.2 314.3,331 315.7,334.9 316,335.4 317,336.7 318,337.6 318.3,337.5 319.3,336.8 320,336.5 322,335.5 324,334.6 324.2,334.6 326,334.1 326.7,334 328,333.8 329.7,333.4 330,333.3 331.7,333 332,333 334,333 334.2,333 336,332.5 336.7,332.3 338,332 340,331.5 342,331.5 343.3,331.6 344,331.6 346,331.6 346.7,331.6 348,331.5 348.3,331.5 350,331.6 351.7,331.7 352,331.6 354,331.5 355,331.5 356,331.4 358,331.1 360,331.6 360.8,331.7 362,331.9 364,332.1 364.2,332.1 366,332.2 367.5,332.2 368,332.2 370,332.2 370.8,332.2 372,332 373.3,331.7 374,331.6 375.8,331.2 376,331.2 378,331.2 379.2,331.2 380,331.2 382,331.5 382.5,331.6 384,332 385.8,332.5 386,332.6 388,333.1 389.2,333.4 390,333.6 392,334.1 392.5,334.2 394,334.4 395.8,334.5 396,334.5 398,334.2 399.2,334.1 400,333.8 401.7,333.1 402,332.9 404,331.4 404.2,331.3 406,330.3 407.5,329.5 408,329.4 410,329 412,329.5 412.5,329.7 414,330.1 415,330.3 416,330.9 418,332 418.3,332.2 420,332.9 421.3,333.2 422,333.3 424,333.6 424.2,333.6 426,333.8 426.7,333.9 428,333.8 429.2,333.7 430,333.6 432,333.5 432.5,333.5 434,333.5 435.8,333.4 436,333.4 438,333.5 439.2,333.5 440,333.5 441.7,333.5 442,333.4 444,333.2 444.2,333.2 446,332.7 446.3,332.7 448,332.9 448.5,333 450,333.4 451,334.4 452,335.3 453.5,336.6 454,336.8 455,337.4 456,334.3 457.2,326.9 457.5,320.4 458,309.2 458.7,288.8 460,249.3 460.8,221.2 461.7,201.4 462,196.2 462.5,187.3 463.3,178.4 464,177.1 464.5,176.2 465.8,178.9 466,179.6 467.2,183.6 468,179.5 468.3,177.9 469.7,171.7 470,172 470.8,173.9 472,181.7 472.5,185 474,196.9 474.2,198.5 475.5,209.9 476,209.3 477,208.1 478,200.7 478.3,198.5 480,198.4 482,205.8 483.3,217.4 484,228 484.2,231 485.8,245.7 486,246.4 487.5,251.7 488,250.4 489.2,247.1 490,245.2 490.8,243.2 492,248.2 492.5,250.9 493,264.4 494,282.3 494.2,285.7 495.8,307.6 496,310 497.5,320.7 498,320.1 499.7,316.4 500,316.8 500.8,317.7 502,320.7 502.5,321.4 504,318.6 504.2,318.2 505.8,312.1 506,311.4 508,306.5 508.3,306.1 510,306.1 510.8,306.1 512,306.9 513.3,308 514,308.9 515.3,313 516,315.8 517.5,321.5 518,322.1 519.7,324.3 520,324.3 521.7,320.4 522,319.5 524,313.2 524.2,312.5 525.8,307.3 526,307.3 527.5,312.6 528,314.9 529.2,320.2 530,321.4 531.7,324.3 532,324.9 533.7,328.2 534,328.8 535,330.8 536,332 537.5,332.4 538,332.6 540,333.4 542,333.9 543.3,334.2 544,334.4 545.3,334.9 546,335 547.5,335.2 548,335.3 549.2,335.3 550,335.3 551.7,334.7 552,334.6 554,333.8 554.2,333.7 556,333.4 556.7,333.3 558,333.2 559.2,333.2 560,333.4 560.8,333.6 562,333.4 562.5,333.3 564,333.3 565.8,333.2 566,333.1 568,333 568.3,332.9 570,332.7 570.3,332.6 572,333 572.5,333.1 574,333.3 575,333.4 576,333.5 577.5,333.5 578,333.5 580,333.5 582,333.6 584,333.1 584.2,333.1 586,332.6 586.7,332.4 588,332.3 588.3,332.3 590,332.4 590.8,332.4 592,332.5 593.3,332.6 594,332.5 595.8,332.2 596,332.2 597.5,332.1 598,332.1 600,332.1 602,330.8 602.5,330.5 604,328.9 604.2,328.6 605.8,326.4 606,326.3 607.5,325.2 608,325 609.2,324.5 610,323.4 610.8,322.3 612,320.9 614,321.2 614.2,321.2 616,321.7 616.7,321.8 618,322 618.3,322.1 620,322.4 620.8,323.2 622,324.8 623.3,326.5 624,327.2 625.8,327.6 626,327.2 627.5,323.6 628,322.6 629.2,320.1 630,320 630.3,320 631.7,322.3 632,322.7 633,324 634,321.5 635,318.9 636,316.1 637,313.2 638,309.5 638.7,306.8 640,298 640.3,296.4 642,293.1 642.5,292.2 644,289.5 645,287.7 646,285.8 647,284 648,278.7 648.3,277.8 650,275.1 651.3,279.5 652,285 652.5,289 653.7,299 654,299.3 655.8,305.4 656,306.8 657,313.7 658,322.4 659.2,328.7 660,329.2 660.8,329.9 662,321.8 662.5,316.8 663.3,307.6 664,297.8 664.7,299 665.8,309.4 666,312 667,323.1 668,324.1 668.3,324.5 670,324.7 670.8,324.8 672,324.5 673,324.2 674,322.8 675,321.3 676,320.1 678,317.8 678.3,317.4 680,316.3 682,317.4 683.3,318.2 684,318.4 686,319.1 687.5,319.7 688,319.9 690,317.6 691.7,311.1 692,309 693,299.3 694,288.1 694.7,279.3 695.8,265.4 696,263.3 697,252.7 698,255.6 699.2,265.8 700,271.2 700.3,273.3 701.7,267.7 702,265.4 702.8,259.4 704,256.2 704.2,255.7 705.8,255.9 706,256.8 707,261.4 708,268.4 708.7,273.2 710,283.4 710.3,285.7 712,295.3 712.5,300.9 714,315.4 714.2,317.1 715.8,327.9 716,329 718,330.1 718.3,330.3 720,330.4 720.8,330.4 722,331 723.3,330.9 724,331.1 725.8,331.5 726,331.6 727.5,332 728,332 729.2,332 730,331.9 732,331.8 732.5,331.8 734,331.1 735,330.7 736,329.7 736.7,329 738,327.9 738.3,327.7 740,327.3 741.7,327 742,327.2 743.7,328 744,327.7 745.3,326.5 746,326.2 747.2,325.6 748,325.8 749.2,326.2 750,326.3 751.7,326.6 752,326.6 754,326.7 756,326.9 756.7,326.9 758,327 760,327.1 760.8,327.3 762,327.6 764,328 765,328.3 766,328.5 768,329 768.3,329 770,329.1 771.7,330 772,330 773.7,331 774,331.3 776,333.3 776.7,334 778,335.4 779.7,336.1 780,336.3 781.7,337.3 782,337.5 783.7,337.7 784,337.8 786,338 786.3,338 788,338.1 790,338.1 792,338.1 793.3,338.1 794,338.1 795,338.1 796,338 797.5,338 798,337.9 800,337.9 802,338 802.5,338 804,338 805.8,338.1 806,338.1 808,338 808.3,337.9 810,337.7 810.8,337.7 812,337.6 813,337.6 814,337.6 815.3,337.6 816,337.7 817.5,337.8 818,337.8 820,337.8 822,337.8 822.5,337.9 824,338.2 824.7,338.3 826,338.7 826.7,338.8 828,339 830,339.2 832,339.2 834,339.2 834.2,339.2 836,339.2 838,339.2 838.3,339.2 840,339.2 840.8,339.2 842,339.3 843.3,339.3 844,339.3 845.8,339.2 846,339.2 848,339.3 848.3,339.3 850,339.3 850.8,339.3 852,339.3 853.3,339.3 854,339.3 856,339.3 856.3,339.3 858,339.3 859.2,339.3 860,339.3 861.7,339.3 862,339.3 864,339.3 864.2,339.3 865.8,339.2 L865.8,340.5 Z"/>
<path fill="#fed884" d="M160,340.5 L160,330.7 162,330.3 162.5,330.2 164,329.8 165.8,329.3 166,329.3 167.5,329.3 168,329.3 169.7,329.5 170,329.6 170.8,329.8 172,330.3 172.5,330.5 174,330.3 174.2,330.3 175.8,328.8 176,328.6 177,328.3 178,328.8 178.3,328.9 179.7,331 180,331.8 180.8,333.1 181.7,334 182,334.1 183.3,334.4 184,334 185,333.4 186,332.7 187,332.5 188,332.9 188.3,333.1 190,334 192,334.8 192.5,334.9 194,335.4 195,335.8 196,336.1 197.5,336.5 198,336.7 199.7,337.1 200,337.2 201.7,337.7 202,337.8 203.3,338.1 204,338.2 205,338.3 206,338.3 206.3,338.3 207.5,338.3 208,338.2 209.2,338 210,337.9 211.7,337.8 212,337.8 213.7,337.7 214,337.7 215.8,337.7 216,337.7 217.5,337.6 218,337.6 219.7,337.4 220,337.4 222,337.4 222.5,337.4 224,337.5 225,337.5 226,337.4 227.5,337.4 228,337.4 230,337.4 232,337.4 233.3,337.4 234,337.5 236,337.5 236.7,337.5 238,337.5 240,337.4 242,337.4 243.3,337.3 244,337.3 245.8,337.3 246,337.3 248,337.3 249.2,337.2 250,337.3 252,337.4 252.5,337.4 254,337.5 254.2,337.6 255.8,337.8 256,337.8 258,337.9 260,337.7 261.7,337.7 262,337.7 263.7,337.7 264,337.7 265.8,337.9 266,337.9 268,338.2 268.3,338.2 270,338.4 272,338.4 273.3,338.4 274,338.4 275.8,338.3 276,338.3 278,338.3 280,338.1 282,337.9 282.5,337.8 284,337.8 285,337.7 286,337.7 287.5,337.6 288,337.6 290,337.7 292,337.8 292.5,337.9 294,337.9 294.2,337.4 295.8,333.2 296,332.7 298,327.4 298.3,326.5 300,322.6 302,319.8 303.3,313.9 304,311.6 305,308.2 306,305.3 307.5,302.5 308,303.4 309.2,305.5 310,308.2 310.8,310.8 312,315 313,322.5 314,329.9 314.3,331.7 315.7,335.5 316,336 317,337.4 318,338.3 318.3,338.2 319.3,337.6 320,337.2 322,336.3 324,335.4 324.2,335.3 326,334.8 326.7,334.8 328,334.5 329.7,334.1 330,334.1 331.7,333.8 332,333.8 334,333.8 334.2,333.8 336,333.3 336.7,333.1 338,332.8 340,332.3 342,332.3 343.3,332.4 344,332.4 346,332.4 346.7,332.4 348,332.3 348.3,332.3 350,332.4 351.7,332.5 352,332.5 354,332.4 355,332.3 356,332.2 358,332 360,332.4 360.8,332.5 362,332.7 364,332.9 364.2,332.9 366,332.9 367.5,333 368,333 370,333 370.8,333 372,332.7 373.3,332.5 374,332.4 375.8,332.1 376,332.1 378,332 379.2,332 380,332 382,332.4 382.5,332.4 384,332.8 385.8,333.3 386,333.4 388,333.8 389.2,334.1 390,334.3 392,334.8 392.5,334.9 394,335.1 395.8,335.2 396,335.2 398,334.9 399.2,334.8 400,334.5 401.7,333.9 402,333.7 404,332.2 404.2,332.1 406,331.2 407.5,330.4 408,330.3 410,329.9 412,330.4 412.5,330.5 414,330.9 415,331.2 416,331.8 418,332.8 418.3,333 420,333.7 421.3,333.9 422,334 424,334.3 424.2,334.3 426,334.5 426.7,334.6 428,334.5 429.2,334.4 430,334.3 432,334.2 432.5,334.2 434,334.2 435.8,334.2 436,334.2 438,334.2 439.2,334.2 440,334.2 441.7,334.2 442,334.1 444,333.9 444.2,333.9 446,333.5 446.3,333.4 448,333.7 448.5,333.8 450,334.1 451,335.1 452,336 453.5,337.3 454,337.5 455,338.2 456,335.2 457.2,328 457.5,321.5 458,310.3 458.7,289.8 460,250.5 460.8,222.2 461.7,202.3 462,197 462.5,188.2 463.3,179.3 464,178.2 464.5,177.3 465.8,180.3 466,181 467.2,185.2 468,181.3 468.3,179.8 469.7,173.9 470,174.2 470.8,176.3 472,184.4 472.5,187.7 474,199.8 474.2,201.4 475.5,212.8 476,212.1 477,210.9 478,203.6 478.3,201.4 480,201.1 482,208.7 483.3,220.3 484,230.8 484.2,233.8 485.8,248.2 486,248.9 487.5,253.9 488,252.6 489.2,249.2 490,247.3 490.8,245.2 492,250.2 492.5,252.8 493,266 494,283.5 494.2,286.7 495.8,308.6 496,311 497.5,321.5 498,320.9 499.7,317.4 500,317.8 500.8,318.7 502,321.6 502.5,322.3 504,319.6 504.2,319.2 505.8,313.1 506,312.4 508,307.5 508.3,307.1 510,307.1 510.8,307.1 512,307.9 513.3,309 514,309.9 515.3,314 516,316.9 517.5,322.5 518,323.1 519.7,325.3 520,325.3 521.7,321.4 522,320.5 524,314.2 524.2,313.6 525.8,308.3 526,308.3 527.5,313.5 528,315.9 529.2,321.1 530,322.3 531.7,325.3 532,325.9 533.7,329.2 534,329.8 535,331.7 536,332.9 537.5,333.4 538,333.6 540,334.4 542,335 543.3,335.3 544,335.7 545.3,336.2 546,336.3 547.5,336.5 548,336.6 549.2,336.7 550,336.7 551.7,336.3 552,336.3 554,335.8 554.2,335.7 556,335.5 556.7,335.4 558,335.4 559.2,335.4 560,335.5 560.8,335.6 562,335.5 562.5,335.5 564,335.4 565.8,335.3 566,335.3 568,335.2 568.3,335.2 570,335 570.3,335 572,335.2 572.5,335.3 574,335.4 575,335.5 576,335.5 577.5,335.6 578,335.6 580,335.6 582,335.6 584,335.3 584.2,335.3 586,335 586.7,334.8 588,334.8 588.3,334.7 590,334.8 590.8,334.9 592,334.9 593.3,334.9 594,334.9 595.8,334.7 596,334.7 597.5,334.6 598,334.6 600,334.6 602,333.3 602.5,333 604,331.5 604.2,331.3 605.8,329.1 606,328.9 607.5,327.7 608,327.4 609.2,326.8 610,325.7 610.8,324.6 612,323.1 614,323.4 614.2,323.4 616,323.9 616.7,324.1 618,324.3 618.3,324.3 620,324.6 620.8,325.5 622,327.1 623.3,328.8 624,329.5 625.8,330 626,329.6 627.5,326.3 628,325.4 629.2,323 630,322.8 630.3,322.8 631.7,324.7 632,325 633,326.1 634,323.5 635,320.9 636,318 637,315 638,311.3 638.7,308.5 640,299.7 640.3,298.1 642,294.8 642.5,293.8 644,291 645,289.2 646,287.2 647,285.3 648,280 648.3,279 650,276.4 651.3,280.7 652,286.2 652.5,290.1 653.7,299.9 654,300.3 655.8,306.5 656,308 657,315 658,323.6 659.2,329.8 660,330.4 660.8,331.3 662,323.3 662.5,318.3 663.3,309.1 664,299.3 664.7,300.7 665.8,311.4 666,314 667,325.1 668,325.9 668.3,326.2 670,326.4 670.8,326.4 672,326.2 673,325.8 674,324.4 675,323 676,321.9 678,319.6 678.3,319.2 680,318.1 682,319.2 683.3,319.9 684,320.1 686,320.9 687.5,321.4 688,321.7 690,319.1 691.7,312.7 692,310.6 693,300.9 694,289.7 694.7,280.9 695.8,266.8 696,264.7 697,253.9 698,256.8 699.2,267 700,272.4 700.3,274.4 701.7,268.8 702,266.6 702.8,260.5 704,257.4 704.2,256.8 705.8,257.1 706,258 707,262.6 708,269.7 708.7,274.4 710,284.6 710.3,286.9 712,296.5 712.5,302.1 714,316.8 714.2,318.5 715.8,329.5 716,330.5 718,331.6 718.3,331.8 720,332 720.8,332 722,332.6 723.3,332.6 724,332.7 725.8,333 726,333.1 727.5,333.5 728,333.4 729.2,333.4 730,333.4 732,333.3 732.5,333.3 734,332.7 735,332.3 736,331.5 736.7,330.9 738,330 738.3,329.8 740,329.5 741.7,329.3 742,329.4 743.7,330.1 744,329.9 745.3,328.9 746,328.6 747.2,328.1 748,328.3 749.2,328.6 750,328.7 751.7,329 752,329 754,329 756,329.1 756.7,329.1 758,329.2 760,329.3 760.8,329.4 762,329.7 764,330.2 765,330.4 766,330.6 768,331.1 768.3,331.1 770,331.3 771.7,331.9 772,331.9 773.7,332.9 774,333.2 776,334.9 776.7,335.6 778,336.9 779.7,337.3 780,337.4 781.7,338.1 782,338.2 783.7,338.4 784,338.4 786,338.6 786.3,338.6 788,338.6 790,338.6 792,338.6 793.3,338.6 794,338.6 795,338.6 796,338.6 797.5,338.5 798,338.5 800,338.5 802,338.5 802.5,338.6 804,338.6 805.8,338.6 806,338.6 808,338.5 808.3,338.5 810,338.4 810.8,338.3 812,338.3 813,338.3 814,338.3 815.3,338.3 816,338.4 817.5,338.5 818,338.5 820,338.4 822,338.5 822.5,338.5 824,338.7 824.7,338.8 826,339 826.7,339.1 828,339.2 830,339.4 832,339.4 834,339.4 834.2,339.4 836,339.4 838,339.4 838.3,339.4 840,339.4 840.8,339.4 842,339.4 843.3,339.4 844,339.4 845.8,339.4 846,339.4 848,339.4 848.3,339.4 850,339.4 850.8,339.4 852,339.4 853.3,339.4 854,339.4 856,339.4 856.3,339.4 858,339.4 859.2,339.4 860,339.4 861.7,339.4 862,339.4 864,339.4 864.2,339.4 865.8,339.4 L865.8,340.5 Z"/>
<path fill="#fdc776" d="M160,340.5 L160,334.1 162,333.9 162.5,333.8 164,333.6 165.8,333.3 166,333.3 167.5,333.3 168,333.3 169.7,333.4 170,333.4 170.8,333.6 172,333.9 172.5,334.1 174,333.9 174.2,333.9 175.8,333 176,332.8 177,332.7 178,333.1 178.3,333.3 179.7,334.7 180,335.2 180.8,335.9 181.7,336.4 182,336.4 183.3,336.6 184,336.3 185,335.9 186,335.4 187,335.3 188,335.6 188.3,335.7 190,336.2 192,336.7 192.5,336.9 194,337.2 195,337.4 196,337.6 197.5,337.9 198,338 199.7,338.2 200,338.3 201.7,338.6 202,338.6 203.3,338.8 204,338.9 205,339 206,339 206.3,339 207.5,339 208,339 209.2,338.8 210,338.8 211.7,338.7 212,338.7 213.7,338.7 214,338.7 215.8,338.7 216,338.7 217.5,338.6 218,338.6 219.7,338.6 220,338.6 222,338.6 222.5,338.6 224,338.6 225,338.6 226,338.6 227.5,338.5 228,338.5 230,338.5 232,338.6 233.3,338.6 234,338.6 236,338.6 236.7,338.6 238,338.6 240,338.6 242,338.5 243.3,338.5 244,338.5 245.8,338.5 246,338.5 248,338.5 249.2,338.5 250,338.5 252,338.5 252.5,338.5 254,338.6 254.2,338.6 255.8,338.8 256,338.8 258,338.8 260,338.7 261.7,338.7 262,338.7 263.7,338.7 264,338.7 265.8,338.8 266,338.8 268,338.9 268.3,339 270,339 272,339 273.3,339 274,339 275.8,339 276,339 278,339 280,338.9 282,338.8 282.5,338.8 284,338.7 285,338.7 286,338.7 287.5,338.7 288,338.7 290,338.7 292,338.8 292.5,338.8 294,338.8 294.2,338.3 295.8,334.2 296,333.6 298,328.3 298.3,327.4 300,323.4 302,320.5 303.3,314.6 304,312.3 305,308.9 306,306 307.5,303.1 308,304 309.2,306.1 310,308.8 310.8,311.4 312,315.6 313,323.1 314,330.5 314.3,332.3 315.7,336.2 316,336.6 317,338 318,339 318.3,338.9 319.3,338.4 320,338.1 322,337.5 324,336.8 324.2,336.7 326,336.4 326.7,336.4 328,336.2 329.7,335.9 330,335.9 331.7,335.6 332,335.6 334,335.6 334.2,335.6 336,335.3 336.7,335.1 338,334.9 340,334.5 342,334.6 343.3,334.6 344,334.6 346,334.6 346.7,334.6 348,334.6 348.3,334.6 350,334.6 351.7,334.7 352,334.7 354,334.6 355,334.6 356,334.5 358,334.3 360,334.6 360.8,334.7 362,334.8 364,335 364.2,335 366,335 367.5,335 368,335 370,335 370.8,335 372,334.9 373.3,334.7 374,334.6 375.8,334.4 376,334.4 378,334.4 379.2,334.3 380,334.3 382,334.6 382.5,334.7 384,335 385.8,335.3 386,335.3 388,335.7 389.2,335.9 390,336 392,336.4 392.5,336.5 394,336.6 395.8,336.7 396,336.6 398,336.4 399.2,336.3 400,336.1 401.7,335.7 402,335.5 404,334.5 404.2,334.4 406,333.7 407.5,333.1 408,333.1 410,332.7 412,333.2 412.5,333.3 414,333.6 415,333.8 416,334.2 418,335 418.3,335.1 420,335.5 421.3,335.7 422,335.8 424,336 424.2,336 426,336.1 426.7,336.2 428,336.1 429.2,336 430,336 432,336 432.5,336 434,335.9 435.8,335.9 436,335.9 438,335.9 439.2,335.9 440,335.9 441.7,335.9 442,335.9 444,335.7 444.2,335.7 446,335.4 446.3,335.4 448,335.6 448.5,335.6 450,335.9 451,336.1 452,336.7 453.5,338 454,338.3 455,338.9 456,336.1 457.2,329 457.5,322.6 458,311.4 458.7,290.9 460,251.3 460.8,222.8 461.7,202.9 462,197.6 462.5,188.9 463.3,180 464,178.9 464.5,178.1 465.8,181.2 466,181.9 467.2,186.3 468,182.5 468.3,181.1 469.7,175.4 470,175.8 470.8,178 472,186.3 472.5,189.7 474,201.9 474.2,203.5 475.5,214.9 476,214.2 477,213 478,205.6 478.3,203.4 480,203.1 482,210.8 483.3,222.4 484,232.8 484.2,235.8 485.8,250 486,250.7 487.5,255.5 488,254.1 489.2,250.8 490,248.7 490.8,246.7 492,251.6 492.5,253.8 493,266.8 494,284.3 494.2,287.6 495.8,309.5 496,311.9 497.5,322.3 498,321.8 499.7,318.4 500,318.8 500.8,319.7 502,322.6 502.5,323.3 504,320.5 504.2,320.1 505.8,314.1 506,313.5 508,308.6 508.3,308.2 510,308.1 510.8,308.1 512,309 513.3,310 514,310.9 515.3,315 516,317.9 517.5,323.4 518,324.1 519.7,326.3 520,326.2 521.7,322.4 522,321.5 524,315.2 524.2,314.6 525.8,309.3 526,309.2 527.5,314.5 528,316.8 529.2,322 530,323.2 531.7,326.2 532,326.8 533.7,330.1 534,330.7 535,332.6 536,333.9 537.5,334.4 538,334.6 540,335.4 542,336.1 543.3,336.5 544,336.9 545.3,337.4 546,337.5 547.5,337.8 548,337.9 549.2,338.1 550,338.2 551.7,338 552,338 554,337.7 554.2,337.7 556,337.6 556.7,337.6 558,337.5 559.2,337.5 560,337.6 560.8,337.7 562,337.6 562.5,337.6 564,337.6 565.8,337.5 566,337.5 568,337.5 568.3,337.4 570,337.4 570.3,337.3 572,337.5 572.5,337.5 574,337.6 575,337.6 576,337.6 577.5,337.6 578,337.6 580,337.6 582,337.7 584,337.5 584.2,337.5 586,337.3 586.7,337.3 588,337.2 588.3,337.2 590,337.3 590.8,337.3 592,337.3 593.3,337.3 594,337.3 595.8,337.2 596,337.2 597.5,337.2 598,337.2 600,337.2 602,335.8 602.5,335.5 604,334.1 604.2,333.9 605.8,331.8 606,331.6 607.5,330.2 608,329.8 609.2,329 610,328 610.8,326.8 612,325.3 614,325.6 614.2,325.7 616,326.1 616.7,326.3 618,326.6 618.3,326.6 620,326.9 620.8,327.8 622,329.4 623.3,331.1 624,331.9 625.8,332.4 626,332 627.5,329.1 628,328.2 629.2,325.9 630,325.6 630.3,325.5 631.7,327 632,327.3 633,328.1 634,325.5 635,322.8 636,319.8 637,316.8 638,313 638.7,310.2 640,301.4 640.3,299.8 642,296.5 642.5,295.4 644,292.6 645,290.6 646,288.6 647,286.6 648,281.3 648.3,280.3 650,277.6 651.3,281.9 652,287.3 652.5,291.2 653.7,300.9 654,301.2 655.8,307.6 656,309.1 657,316.3 658,324.9 659.2,330.9 660,331.6 660.8,332.6 662,324.8 662.5,319.9 663.3,310.6 664,300.7 664.7,302.5 665.8,313.4 666,316 667,327 668,327.7 668.3,328 670,328 670.8,328.1 672,327.8 673,327.4 674,326.1 675,324.8 676,323.7 678,321.4 678.3,321 680,319.8 682,320.9 683.3,321.6 684,321.9 686,322.6 687.5,323.1 688,323.4 690,320.7 691.7,314.3 692,312.3 693,302.6 694,291.3 694.7,282.5 695.8,268.2 696,266.1 697,255.1 698,258 699.2,268.1 700,273.5 700.3,275.5 701.7,270 702,267.7 702.8,261.7 704,258.5 704.2,258 705.8,258.3 706,259.2 707,263.9 708,270.9 708.7,275.6 710,285.8 710.3,288.1 712,297.6 712.5,303.4 714,318.2 714.2,319.9 715.8,331 716,332 718,333.6 718.3,333.8 720,334.7 720.8,334.7 722,335.2 723.3,335.2 724,335.2 725.8,335.5 726,335.5 727.5,335.7 728,335.7 729.2,335.7 730,335.7 732,335.6 732.5,335.6 734,335.2 735,335 736,334.4 736.7,334 738,333.5 738.3,333.3 740,333.1 741.7,333 742,333.1 743.7,333.5 744,333.4 745.3,332.7 746,332.6 747.2,332.2 748,332.3 749.2,332.5 750,332.6 751.7,332.8 752,332.8 754,332.8 756,332.9 756.7,332.9 758,332.9 760,333 760.8,333.1 762,333.3 764,333.6 765,333.8 766,334 768,334.3 768.3,334.3 770,334.5 771.7,334.8 772,334.8 773.7,335.5 774,335.7 776,336.9 776.7,337.4 778,338.3 779.7,338.5 780,338.6 781.7,338.9 782,339 783.7,339 784,339.1 786,339.1 786.3,339.1 788,339.2 790,339.2 792,339.2 793.3,339.2 794,339.2 795,339.2 796,339.1 797.5,339.1 798,339.1 800,339.1 802,339.1 802.5,339.1 804,339.1 805.8,339.2 806,339.2 808,339.1 808.3,339.1 810,339 810.8,339 812,339 813,339 814,339 815.3,339 816,339 817.5,339.1 818,339.1 820,339.1 822,339.1 822.5,339.1 824,339.2 824.7,339.2 826,339.4 826.7,339.4 828,339.5 830,339.5 832,339.5 834,339.5 834.2,339.5 836,339.5 838,339.5 838.3,339.5 840,339.5 840.8,339.5 842,339.6 843.3,339.6 844,339.6 845.8,339.5 846,339.5 848,339.6 848.3,339.6 850,339.6 850.8,339.6 852,339.6 853.3,339.6 854,339.6 856,339.6 856.3,339.6 858,339.6 859.2,339.6 860,339.6 861.7,339.6 862,339.6 864,339.6 864.2,339.6 865.8,339.5 L865.8,340.5 Z"/>
<path fill="#fdb768" d="M160,340.5 L160,337.6 162,337.5 162.5,337.4 164,337.3 165.8,337.2 166,337.2 167.5,337.2 168,337.2 169.7,337.3 170,337.3 170.8,337.4 172,337.5 172.5,337.6 174,337.6 174.2,337.6 175.8,337.2 176,337.1 177,337.2 178,337.5 178.3,337.6 179.7,338.4 180,338.6 180.8,338.7 181.7,338.8 182,338.8 183.3,338.8 184,338.6 185,338.4 186,338.1 187,338.1 188,338.2 188.3,338.3 190,338.5 192,338.7 192.5,338.8 194,338.9 195,339 196,339.1 197.5,339.2 198,339.3 199.7,339.4 200,339.4 201.7,339.5 202,339.5 203.3,339.6 204,339.7 205,339.7 206,339.7 206.3,339.7 207.5,339.7 208,339.7 209.2,339.7 210,339.7 211.7,339.7 212,339.7 213.7,339.7 214,339.7 215.8,339.7 216,339.7 217.5,339.7 218,339.7 219.7,339.7 220,339.7 222,339.7 222.5,339.7 224,339.7 225,339.7 226,339.7 227.5,339.7 228,339.7 230,339.7 232,339.7 233.3,339.7 234,339.7 236,339.7 236.7,339.7 238,339.7 240,339.7 242,339.7 243.3,339.7 244,339.7 245.8,339.7 246,339.7 248,339.7 249.2,339.7 250,339.7 252,339.7 252.5,339.7 254,339.7 254.2,339.7 255.8,339.7 256,339.7 258,339.7 260,339.7 261.7,339.7 262,339.7 263.7,339.7 264,339.7 265.8,339.7 266,339.7 268,339.7 268.3,339.7 270,339.7 272,339.7 273.3,339.7 274,339.7 275.8,339.7 276,339.7 278,339.7 280,339.7 282,339.7 282.5,339.7 284,339.7 285,339.7 286,339.7 287.5,339.7 288,339.7 290,339.7 292,339.7 292.5,339.7 294,339.7 294.2,339.3 295.8,335.7 296,335.2 298,330.5 298.3,329.7 300,326.1 302,323.6 303.3,318.4 304,316.4 305,313.3 306,310.8 307.5,308.2 308,309 309.2,310.9 310,313.2 310.8,315.5 312,319.1 313,325.8 314,332.2 314.3,333.7 315.7,337.2 316,337.6 317,338.8 318,339.7 318.3,339.6 319.3,339.3 320,339.1 322,338.7 324,338.3 324.2,338.2 326,338 326.7,338 328,337.8 329.7,337.7 330,337.6 331.7,337.5 332,337.5 334,337.5 334.2,337.5 336,337.3 336.7,337.2 338,337 340,336.8 342,336.8 343.3,336.8 344,336.8 346,336.9 346.7,336.9 348,336.8 348.3,336.8 350,336.9 351.7,336.9 352,336.9 354,336.8 355,336.8 356,336.8 358,336.7 360,336.8 360.8,336.9 362,337 364,337.1 364.2,337.1 366,337.1 367.5,337.1 368,337.1 370,337.1 370.8,337.1 372,337 373.3,336.9 374,336.8 375.8,336.7 376,336.7 378,336.7 379.2,336.7 380,336.7 382,336.8 382.5,336.9 384,337.1 385.8,337.3 386,337.3 388,337.5 389.2,337.6 390,337.7 392,338 392.5,338 394,338.1 395.8,338.1 396,338.1 398,338 399.2,337.9 400,337.8 401.7,337.5 402,337.4 404,336.8 404.2,336.7 406,336.3 407.5,335.9 408,335.9 410,335.6 412,335.9 412.5,336 414,336.2 415,336.3 416,336.6 418,337.1 418.3,337.1 420,337.4 421.3,337.6 422,337.6 424,337.7 424.2,337.7 426,337.8 426.7,337.8 428,337.8 429.2,337.7 430,337.7 432,337.7 432.5,337.7 434,337.7 435.8,337.6 436,337.7 438,337.7 439.2,337.7 440,337.7 441.7,337.6 442,337.6 444,337.5 444.2,337.5 446,337.4 446.3,337.3 448,337.4 448.5,337.5 450,337.6 451,337.6 452,337.8 453.5,338.6 454,339 455,339.7 456,337 457.2,330 457.5,323.7 458,312.5 458.7,291.9 460,252 460.8,223.2 461.7,203.2 462,198 462.5,189.3 463.3,180.5 464,179.4 464.5,178.6 465.8,181.8 466,182.6 467.2,187.1 468,183.3 468.3,181.9 469.7,176.4 470,176.8 470.8,179.1 472,187.4 472.5,190.9 474,203.1 474.2,204.8 475.5,216.2 476,215.5 477,214.3 478,206.9 478.3,204.7 480,204.3 482,212.1 483.3,223.6 484,234.1 484.2,237 485.8,251.2 486,251.8 487.5,256.5 488,255.1 489.2,251.7 490,249.7 490.8,247.6 492,252.4 492.5,254.7 493,267.6 494,285.2 494.2,288.4 495.8,310.4 496,312.9 497.5,323.2 498,322.7 499.7,319.4 500,319.8 500.8,320.7 502,323.5 502.5,324.2 504,321.5 504.2,321.1 505.8,315.2 506,314.5 508,309.6 508.3,309.2 510,309.1 510.8,309.1 512,310 513.3,311 514,312 515.3,316.1 516,318.9 517.5,324.4 518,325.1 519.7,327.2 520,327.2 521.7,323.4 522,322.5 524,316.2 524.2,315.6 525.8,310.3 526,310.2 527.5,315.5 528,317.8 529.2,322.8 530,324.1 531.7,327.7 532,328.3 533.7,331.9 534,332.5 535,334.3 536,335.6 537.5,336.2 538,336.4 540,337.2 542,337.8 543.3,338.2 544,338.4 545.3,338.9 546,339 547.5,339.3 548,339.4 549.2,339.6 550,339.7 551.7,339.7 552,339.7 554,339.7 554.2,339.7 556,339.7 556.7,339.7 558,339.7 559.2,339.7 560,339.7 560.8,339.7 562,339.7 562.5,339.7 564,339.7 565.8,339.7 566,339.7 568,339.7 568.3,339.7 570,339.7 570.3,339.7 572,339.7 572.5,339.7 574,339.7 575,339.7 576,339.7 577.5,339.7 578,339.7 580,339.7 582,339.7 584,339.7 584.2,339.7 586,339.7 586.7,339.7 588,339.7 588.3,339.7 590,339.7 590.8,339.7 592,339.7 593.3,339.7 594,339.7 595.8,339.7 596,339.7 597.5,339.7 598,339.7 600,339.7 602,338.3 602.5,338 604,336.7 604.2,336.5 605.8,334.5 606,334.3 607.5,332.7 608,332.2 609.2,331.3 610,330.2 610.8,329.1 612,327.5 614,327.9 614.2,327.9 616,328.4 616.7,328.6 618,328.8 618.3,328.9 620,329.2 620.8,330.1 622,331.7 623.3,333.4 624,334.2 625.8,334.8 626,334.5 627.5,331.8 628,331 629.2,328.9 630,328.5 630.3,328.3 631.7,329.4 632,329.6 633,330.2 634,327.5 635,324.7 636,321.7 637,318.6 638,314.8 638.7,311.9 640,303.1 640.3,301.5 642,298.1 642.5,297.1 644,294.1 645,292.1 646,290 647,287.9 648,282.5 648.3,281.6 650,278.9 651.3,283.1 652,288.5 652.5,292.2 653.7,301.9 654,302.2 655.8,308.7 656,310.3 657,317.5 658,326.2 659.2,332 660,332.9 660.8,334 662,326.3 662.5,321.4 663.3,312.1 664,302.2 664.7,304.2 665.8,315.4 666,318 667,328.9 668,329.5 668.3,329.7 670,329.7 670.8,329.7 672,329.4 673,329 674,327.8 675,326.5 676,325.5 678,323.2 678.3,322.8 680,321.6 682,322.7 683.3,323.4 684,323.6 686,324.3 687.5,324.8 688,325.1 690,322.3 691.7,315.9 692,313.9 693,304.2 694,295.2 694.7,289.7 695.8,278.4 696,276.5 697,266.7 698,269.2 699.2,278.1 700,282.8 700.3,284.5 701.7,279.7 702,277.7 702.8,272.5 704,269.7 704.2,269.2 705.8,269.5 706,270.4 707,274.5 708,280.6 708.7,284.7 710,293.6 710.3,295.5 712,303.9 712.5,309 714,322.1 714.2,323.6 715.8,333.8 716,334.8 718,336.4 718.3,336.6 720,337.4 720.8,337.5 722,337.8 723.3,337.8 724,337.8 725.8,337.9 726,337.9 727.5,338 728,338 729.2,338 730,338 732,338 732.5,337.9 734,337.8 735,337.6 736,337.4 736.7,337.2 738,336.9 738.3,336.9 740,336.8 741.7,336.7 742,336.8 743.7,337 744,336.9 745.3,336.6 746,336.5 747.2,336.4 748,336.4 749.2,336.5 750,336.6 751.7,336.6 752,336.6 754,336.6 756,336.6 756.7,336.6 758,336.6 760,336.7 760.8,336.7 762,336.9 764,337.1 765,337.2 766,337.3 768,337.5 768.3,337.5 770,337.6 771.7,337.8 772,337.7 773.7,338.2 774,338.3 776,338.9 776.7,339.2 778,339.7 779.7,339.7 780,339.7 781.7,339.7 782,339.7 783.7,339.7 784,339.7 786,339.7 786.3,339.7 788,339.7 790,339.7 792,339.7 793.3,339.7 794,339.7 795,339.7 796,339.7 797.5,339.7 798,339.7 800,339.7 802,339.7 802.5,339.7 804,339.7 805.8,339.7 806,339.7 808,339.7 808.3,339.7 810,339.7 810.8,339.7 812,339.7 813,339.7 814,339.7 815.3,339.7 816,339.7 817.5,339.7 818,339.7 820,339.7 822,339.7 822.5,339.7 824,339.7 824.7,339.7 826,339.7 826.7,339.7 828,339.7 830,339.7 832,339.7 834,339.7 834.2,339.7 836,339.7 838,339.7 838.3,339.7 840,339.7 840.8,339.7 842,339.7 843.3,339.7 844,339.7 845.8,339.7 846,339.7 848,339.7 848.3,339.7 850,339.7 850.8,339.7 852,339.7 853.3,339.7 854,339.7 856,339.7 856.3,339.7 858,339.7 859.2,339.7 860,339.7 861.7,339.7 862,339.7 864,339.7 864.2,339.7 865.8,339.7 L865.8,340.5 Z"/>
<path fill="#fba35c" d="M160,340.5 L160,338.6 162,338.6 162.5,338.6 164,338.5 165.8,338.5 166,338.5 167.5,338.5 168,338.5 169.7,338.5 170,338.5 170.8,338.5 172,338.6 172.5,338.6 174,338.6 174.2,338.6 175.8,338.4 176,338.4 177,338.4 178,338.6 178.3,338.7 179.7,339.1 180,339.2 180.8,339.2 181.7,339.3 182,339.3 183.3,339.2 184,339.2 185,339 186,338.9 187,338.9 188,339 188.3,339 190,339.1 192,339.2 192.5,339.2 194,339.3 195,339.4 196,339.4 197.5,339.5 198,339.5 199.7,339.5 200,339.6 201.7,339.6 202,339.6 203.3,339.7 204,339.7 205,339.7 206,339.7 206.3,339.7 207.5,339.7 208,339.7 209.2,339.7 210,339.7 211.7,339.7 212,339.7 213.7,339.7 214,339.7 215.8,339.7 216,339.7 217.5,339.7 218,339.7 219.7,339.7 220,339.7 222,339.7 222.5,339.7 224,339.7 225,339.7 226,339.7 227.5,339.7 228,339.7 230,339.7 232,339.7 233.3,339.7 234,339.7 236,339.7 236.7,339.7 238,339.7 240,339.7 242,339.7 243.3,339.7 244,339.7 245.8,339.7 246,339.7 248,339.7 249.2,339.7 250,339.7 252,339.7 252.5,339.7 254,339.7 254.2,339.7 255.8,339.7 256,339.7 258,339.7 260,339.7 261.7,339.7 262,339.7 263.7,339.7 264,339.7 265.8,339.7 266,339.7 268,339.7 268.3,339.7 270,339.7 272,339.7 273.3,339.7 274,339.7 275.8,339.7 276,339.7 278,339.7 280,339.7 282,339.7 282.5,339.7 284,339.7 285,339.7 286,339.7 287.5,339.7 288,339.7 290,339.7 292,339.7 292.5,339.7 294,339.7 294.2,339.4 295.8,336.8 296,336.5 298,333.1 298.3,332.6 300,330 302,328.2 303.3,324.5 304,323.1 305,320.9 306,319.1 307.5,317.2 308,317.8 309.2,319.1 310,320.8 310.8,322.4 312,325 313,329.8 314,334.3 314.3,335.4 315.7,337.9 316,338.2 317,339.1 318,339.7 318.3,339.6 319.3,339.4 320,339.3 322,339.2 324,339 324.2,339 326,338.8 326.7,338.8 328,338.8 329.7,338.7 330,338.7 331.7,338.6 332,338.6 334,338.6 334.2,338.6 336,338.5 336.7,338.4 338,338.4 340,338.2 342,338.3 343.3,338.3 344,338.3 346,338.3 346.7,338.3 348,338.3 348.3,338.3 350,338.3 351.7,338.3 352,338.3 354,338.3 355,338.3 356,338.2 358,338.2 360,338.3 360.8,338.3 362,338.3 364,338.4 364.2,338.4 366,338.4 367.5,338.4 368,338.4 370,338.4 370.8,338.4 372,338.4 373.3,338.3 374,338.3 375.8,338.2 376,338.2 378,338.2 379.2,338.2 380,338.2 382,338.3 382.5,338.3 384,338.4 385.8,338.5 386,338.5 388,338.6 389.2,338.7 390,338.7 392,338.8 392.5,338.9 394,338.9 395.8,338.9 396,338.9 398,338.8 399.2,338.8 400,338.7 401.7,338.6 402,338.5 404,338.2 404.2,338.2 406,338 407.5,337.8 408,337.8 410,337.7 412,337.8 412.5,337.8 414,337.9 415,338 416,338.1 418,338.4 418.3,338.4 420,338.6 421.3,338.6 422,338.6 424,338.7 424.2,338.7 426,338.7 426.7,338.8 428,338.7 429.2,338.7 430,338.7 432,338.7 432.5,338.7 434,338.7 435.8,338.7 436,338.7 438,338.7 439.2,338.7 440,338.7 441.7,338.7 442,338.7 444,338.6 444.2,338.6 446,338.5 446.3,338.5 448,338.6 448.5,338.6 450,338.7 451,338.4 452,338.4 453.5,338.8 454,339 455,339.7 456,337 457.2,330 457.5,323.7 458,312.5 458.7,292.5 460,252.7 460.8,223.7 461.7,203.6 462,198.4 462.5,189.7 463.3,180.9 464,179.8 464.5,179.1 465.8,182.4 466,183.2 467.2,187.8 468,184.1 468.3,182.8 469.7,177.3 470,177.8 470.8,180.2 472,188.6 472.5,192.1 474,204.4 474.2,206 475.5,217.4 476,216.8 477,215.6 478,208.2 478.3,206 480,205.6 482,213.4 483.3,224.9 484,235.3 484.2,238.3 485.8,252.3 486,252.9 487.5,257.5 488,256.1 489.2,252.6 490,250.6 490.8,248.5 492,253.3 492.5,255.5 493,268.3 494,286 494.2,289.3 495.8,310.6 496,312.9 497.5,323.2 498,322.9 499.7,323.8 500,324.8 500.8,325.4 502,327.6 502.5,328 504,326 504.2,325.8 505.8,320.9 506,320.3 508,316 508.3,315.6 510,315.5 510.8,315.4 512,316.1 513.3,317.1 514,317.8 515.3,321.3 516,323.7 517.5,328.2 518,328.7 519.7,330.3 520,330.3 521.7,327.4 522,326.8 524,322.1 524.2,321.6 525.8,317.6 526,317.6 527.5,321.5 528,323.3 529.2,327.1 530,328 531.7,330.8 532,331.3 533.7,334 534,334.5 535,335.8 536,336.8 537.5,337.3 538,337.4 540,338 542,338.4 543.3,338.7 544,338.9 545.3,339.1 546,339.2 547.5,339.4 548,339.5 549.2,339.6 550,339.7 551.7,339.7 552,339.7 554,339.7 554.2,339.7 556,339.7 556.7,339.7 558,339.7 559.2,339.7 560,339.7 560.8,339.7 562,339.7 562.5,339.7 564,339.7 565.8,339.7 566,339.7 568,339.7 568.3,339.7 570,339.7 570.3,339.7 572,339.7 572.5,339.7 574,339.7 575,339.7 576,339.7 577.5,339.7 578,339.7 580,339.7 582,339.7 584,339.7 584.2,339.7 586,339.7 586.7,339.7 588,339.7 588.3,339.7 590,339.7 590.8,339.7 592,339.7 593.3,339.7 594,339.7 595.8,339.7 596,339.7 597.5,339.7 598,339.7 600,339.7 602,338.7 602.5,338.4 604,337.5 604.2,337.3 605.8,335.8 606,335.6 607.5,334.4 608,334.1 609.2,333.4 610,332.6 610.8,331.7 612,330.6 614,330.8 614.2,330.9 616,331.2 616.7,331.4 618,331.5 618.3,331.6 620,331.8 620.8,332.5 622,333.7 623.3,335 624,335.6 625.8,335.8 626,335.5 627.5,332.8 628,331.9 629.2,329.3 630,328.5 630.3,328.3 631.7,329.4 632,329.6 633,330.2 634,327.5 635,324.7 636,321.7 637,318.6 638,314.8 638.7,311.9 640,303.1 640.3,301.5 642,298.1 642.5,297.1 644,294.1 645,292.1 646,290 647,287.9 648,282.5 648.3,281.6 650,278.9 651.3,283.1 652,288.5 652.5,292.2 653.7,301.9 654,302.2 655.8,308.7 656,310.3 657,317.5 658,326.2 659.2,332 660,332.9 660.8,334 662,326.3 662.5,321.4 663.3,312.1 664,302.2 664.7,304.2 665.8,315.4 666,318 667,328.9 668,329.5 668.3,329.7 670,329.7 670.8,329.7 672,329.4 673,329 674,327.8 675,326.5 676,325.5 678,323.2 678.3,322.8 680,321.6 682,322.7 683.3,323.4 684,323.6 686,324.3 687.5,324.8 688,325.1 690,322.3 691.7,318.9 692,317.8 693,312.2 694,306.9 694.7,303.6 695.8,295.9 696,294.6 697,287.6 698,289.4 699.2,295.7 700,299 700.3,300.3 701.7,296.8 702,295.4 702.8,291.7 704,289.7 704.2,289.4 705.8,289.6 706,290.2 707,293.1 708,297.5 708.7,300.4 710,306.8 710.3,308.2 712,314.1 712.5,317.8 714,327.1 714.2,328.2 715.8,335.6 716,336.3 718,337.6 718.3,337.8 720,338.5 720.8,338.6 722,338.8 723.3,338.7 724,338.7 725.8,338.8 726,338.8 727.5,338.9 728,338.9 729.2,338.8 730,338.8 732,338.8 732.5,338.8 734,338.7 735,338.7 736,338.5 736.7,338.4 738,338.3 738.3,338.3 740,338.2 741.7,338.2 742,338.2 743.7,338.3 744,338.3 745.3,338.2 746,338.1 747.2,338 748,338.1 749.2,338.1 750,338.1 751.7,338.2 752,338.2 754,338.2 756,338.2 756.7,338.2 758,338.2 760,338.2 760.8,338.2 762,338.3 764,338.4 765,338.4 766,338.5 768,338.6 768.3,338.6 770,338.7 771.7,338.7 772,338.7 773.7,338.9 774,339 776,339.3 776.7,339.4 778,339.7 779.7,339.7 780,339.7 781.7,339.7 782,339.7 783.7,339.7 784,339.7 786,339.7 786.3,339.7 788,339.7 790,339.7 792,339.7 793.3,339.7 794,339.7 795,339.7 796,339.7 797.5,339.7 798,339.7 800,339.7 802,339.7 802.5,339.7 804,339.7 805.8,339.7 806,339.7 808,339.7 808.3,339.7 810,339.7 810.8,339.7 812,339.7 813,339.7 814,339.7 815.3,339.7 816,339.7 817.5,339.7 818,339.7 820,339.7 822,339.7 822.5,339.7 824,339.7 824.7,339.7 826,339.7 826.7,339.7 828,339.7 830,339.7 832,339.7 834,339.7 834.2,339.7 836,339.7 838,339.7 838.3,339.7 840,339.7 840.8,339.7 842,339.7 843.3,339.7 844,339.7 845.8,339.7 846,339.7 848,339.7 848.3,339.7 850,339.7 850.8,339.7 852,339.7 853.3,339.7 854,339.7 856,339.7 856.3,339.7 858,339.7 859.2,339.7 860,339.7 861.7,339.7 862,339.7 864,339.7 864.2,339.7 865.8,339.7 L865.8,340.5 Z"/>
<path fill="#f98e52" d="M160,340.5 L160,339.7 162,339.7 162.5,339.7 164,339.7 165.8,339.7 166,339.7 167.5,339.7 168,339.7 169.7,339.7 170,339.7 170.8,339.7 172,339.7 172.5,339.7 174,339.7 174.2,339.7 175.8,339.7 176,339.7 177,339.7 178,339.7 178.3,339.7 179.7,339.7 180,339.7 180.8,339.7 181.7,339.7 182,339.7 183.3,339.7 184,339.7 185,339.7 186,339.7 187,339.7 188,339.7 188.3,339.7 190,339.7 192,339.7 192.5,339.7 194,339.7 195,339.7 196,339.7 197.5,339.7 198,339.7 199.7,339.7 200,339.7 201.7,339.7 202,339.7 203.3,339.7 204,339.7 205,339.7 206,339.7 206.3,339.7 207.5,339.7 208,339.7 209.2,339.7 210,339.7 211.7,339.7 212,339.7 213.7,339.7 214,339.7 215.8,339.7 216,339.7 217.5,339.7 218,339.7 219.7,339.7 220,339.7 222,339.7 222.5,339.7 224,339.7 225,339.7 226,339.7 227.5,339.7 228,339.7 230,339.7 232,339.7 233.3,339.7 234,339.7 236,339.7 236.7,339.7 238,339.7 240,339.7 242,339.7 243.3,339.7 244,339.7 245.8,339.7 246,339.7 248,339.7 249.2,339.7 250,339.7 252,339.7 252.5,339.7 254,339.7 254.2,339.7 255.8,339.7 256,339.7 258,339.7 260,339.7 261.7,339.7 262,339.7 263.7,339.7 264,339.7 265.8,339.7 266,339.7 268,339.7 268.3,339.7 270,339.7 272,339.7 273.3,339.7 274,339.7 275.8,339.7 276,339.7 278,339.7 280,339.7 282,339.7 282.5,339.7 284,339.7 285,339.7 286,339.7 287.5,339.7 288,339.7 290,339.7 292,339.7 292.5,339.7 294,339.7 294.2,339.5 295.8,338 296,337.8 298,335.7 298.3,335.4 300,333.9 302,332.8 303.3,330.6 304,329.7 305,328.4 306,327.3 307.5,326.2 308,326.6 309.2,327.3 310,328.4 310.8,329.3 312,330.9 313,333.7 314,336.5 314.3,337.1 315.7,338.6 316,338.8 317,339.4 318,339.7 318.3,339.7 319.3,339.6 320,339.6 322,339.7 324,339.7 324.2,339.7 326,339.7 326.7,339.7 328,339.7 329.7,339.7 330,339.7 331.7,339.7 332,339.7 334,339.7 334.2,339.7 336,339.7 336.7,339.7 338,339.7 340,339.7 342,339.7 343.3,339.7 344,339.7 346,339.7 346.7,339.7 348,339.7 348.3,339.7 350,339.7 351.7,339.7 352,339.7 354,339.7 355,339.7 356,339.7 358,339.7 360,339.7 360.8,339.7 362,339.7 364,339.7 364.2,339.7 366,339.7 367.5,339.7 368,339.7 370,339.7 370.8,339.7 372,339.7 373.3,339.7 374,339.7 375.8,339.7 376,339.7 378,339.7 379.2,339.7 380,339.7 382,339.7 382.5,339.7 384,339.7 385.8,339.7 386,339.7 388,339.7 389.2,339.7 390,339.7 392,339.7 392.5,339.7 394,339.7 395.8,339.7 396,339.7 398,339.7 399.2,339.7 400,339.7 401.7,339.7 402,339.7 404,339.7 404.2,339.7 406,339.7 407.5,339.7 408,339.7 410,339.7 412,339.7 412.5,339.7 414,339.7 415,339.7 416,339.7 418,339.7 418.3,339.7 420,339.7 421.3,339.7 422,339.7 424,339.7 424.2,339.7 426,339.7 426.7,339.7 428,339.7 429.2,339.7 430,339.7 432,339.7 432.5,339.7 434,339.7 435.8,339.7 436,339.7 438,339.7 439.2,339.7 440,339.7 441.7,339.7 442,339.7 444,339.7 444.2,339.7 446,339.7 446.3,339.7 448,339.7 448.5,339.7 450,339.7 451,339.2 452,338.9 453.5,339.1 454,339.2 455,339.7 456,337.4 457.2,331.4 457.5,326 458,316.3 458.7,299 460,265.2 460.8,240.2 461.7,222.8 462,218.3 462.5,210.8 463.3,203.3 464,202.4 464.5,201.8 465.8,204.7 466,205.4 467.2,209.4 468,206.4 468.3,205.2 469.7,200.6 470,201 470.8,203.2 472,210.5 472.5,213.6 474,224.2 474.2,225.6 475.5,235.4 476,234.9 477,233.8 478,227.5 478.3,225.6 480,225.2 482,231.9 483.3,241.9 484,250.8 484.2,253.3 485.8,265.3 486,265.9 487.5,269.7 488,268.5 489.2,265.4 490,263.7 490.8,261.9 492,265.9 492.5,267.9 493,278.8 494,293.7 494.2,296.4 495.8,314.8 496,316.8 497.5,326.7 498,327.3 499.7,328.9 500,329.7 500.8,330.2 502,331.6 502.5,331.9 504,330.6 504.2,330.4 505.8,326.7 506,326.2 508,322.4 508.3,322.1 510,321.8 510.8,321.7 512,322.3 513.3,323.1 514,323.7 515.3,326.6 516,328.4 517.5,332.1 518,332.4 519.7,333.5 520,333.5 521.7,331.5 522,331.1 524,328 524.2,327.6 525.8,325 526,325 527.5,327.6 528,328.7 529.2,331.3 530,331.9 531.7,333.9 532,334.3 533.7,336.2 534,336.5 535,337.4 536,338 537.5,338.3 538,338.5 540,338.9 542,339 543.3,339.2 544,339.3 545.3,339.4 546,339.4 547.5,339.5 548,339.6 549.2,339.6 550,339.7 551.7,339.7 552,339.7 554,339.7 554.2,339.7 556,339.7 556.7,339.7 558,339.7 559.2,339.7 560,339.7 560.8,339.7 562,339.7 562.5,339.7 564,339.7 565.8,339.7 566,339.7 568,339.7 568.3,339.7 570,339.7 570.3,339.7 572,339.7 572.5,339.7 574,339.7 575,339.7 576,339.7 577.5,339.7 578,339.7 580,339.7 582,339.7 584,339.7 584.2,339.7 586,339.7 586.7,339.7 588,339.7 588.3,339.7 590,339.7 590.8,339.7 592,339.7 593.3,339.7 594,339.7 595.8,339.7 596,339.7 597.5,339.7 598,339.7 600,339.7 602,339 602.5,338.8 604,338.2 604.2,338.1 605.8,337.1 606,337 607.5,336.2 608,336 609.2,335.5 610,335 610.8,334.4 612,333.6 614,333.8 614.2,333.8 616,334 616.7,334.1 618,334.3 618.3,334.3 620,334.4 620.8,334.9 622,335.7 623.3,336.6 624,337 625.8,337 626,336.8 627.5,334.8 628,334 629.2,332 630,331.3 630.3,331.2 631.7,332 632,332.1 633,332.6 634,330.5 635,328.5 636,326.2 637,323.8 638,321 638.7,318.9 640,312.3 640.3,311.1 642,308.5 642.5,307.7 644,305.5 645,304 646,302.4 647,300.8 648,296.8 648.3,296.1 650,294.1 651.3,297.3 652,301.3 652.5,304.1 653.7,311.3 654,311.6 655.8,316.5 656,317.6 657,323.1 658,329.6 659.2,333.9 660,334.6 660.8,335.4 662,329.7 662.5,326 663.3,319 664,311.6 664.7,313.1 665.8,321.5 666,323.4 667,331.6 668,332.1 668.3,332.2 670,332.2 670.8,332.2 672,332 673,331.7 674,330.8 675,329.8 676,329 678,327.3 678.3,327.1 680,326.1 682,326.9 683.3,327.4 684,327.6 686,328.2 687.5,328.5 688,328.7 690,326.6 691.7,324.9 692,324.2 693,321.1 694,318.6 694.7,317.6 695.8,313.4 696,312.6 697,308.4 698,309.5 699.2,313.3 700,315.3 700.3,316 701.7,314 702,313.1 702.8,310.9 704,309.7 704.2,309.5 705.8,309.6 706,310 707,311.7 708,314.4 708.7,316.1 710,319.9 710.3,320.8 712,324.4 712.5,326.5 714,332.2 714.2,332.8 715.8,337.4 716,337.9 718,338.9 718.3,339.1 720,339.7 720.8,339.7 722,339.7 723.3,339.7 724,339.7 725.8,339.7 726,339.7 727.5,339.7 728,339.7 729.2,339.7 730,339.7 732,339.7 732.5,339.7 734,339.7 735,339.7 736,339.7 736.7,339.7 738,339.7 738.3,339.7 740,339.7 741.7,339.7 742,339.7 743.7,339.7 744,339.7 745.3,339.7 746,339.7 747.2,339.7 748,339.7 749.2,339.7 750,339.7 751.7,339.7 752,339.7 754,339.7 756,339.7 756.7,339.7 758,339.7 760,339.7 760.8,339.7 762,339.7 764,339.7 765,339.7 766,339.7 768,339.7 768.3,339.7 770,339.7 771.7,339.7 772,339.7 773.7,339.7 774,339.7 776,339.7 776.7,339.7 778,339.7 779.7,339.7 780,339.7 781.7,339.7 782,339.7 783.7,339.7 784,339.7 786,339.7 786.3,339.7 788,339.7 790,339.7 792,339.7 793.3,339.7 794,339.7 795,339.7 796,339.7 797.5,339.7 798,339.7 800,339.7 802,339.7 802.5,339.7 804,339.7 805.8,339.7 806,339.7 808,339.7 808.3,339.7 810,339.7 810.8,339.7 812,339.7 813,339.7 814,339.7 815.3,339.7 816,339.7 817.5,339.7 818,339.7 820,339.7 822,339.7 822.5,339.7 824,339.7 824.7,339.7 826,339.7 826.7,339.7 828,339.7 830,339.7 832,339.7 834,339.7 834.2,339.7 836,339.7 838,339.7 838.3,339.7 840,339.7 840.8,339.7 842,339.7 843.3,339.7 844,339.7 845.8,339.7 846,339.7 848,339.7 848.3,339.7 850,339.7 850.8,339.7 852,339.7 853.3,339.7 854,339.7 856,339.7 856.3,339.7 858,339.7 859.2,339.7 860,339.7 861.7,339.7 862,339.7 864,339.7 864.2,339.7 865.8,339.7 L865.8,340.5 Z"/>
<path fill="#f57748" d="M160,340.5 L160,339.7 162,339.7 162.5,339.7 164,339.7 165.8,339.7 166,339.7 167.5,339.7 168,339.7 169.7,339.7 170,339.7 170.8,339.7 172,339.7 172.5,339.7 174,339.7 174.2,339.7 175.8,339.7 176,339.7 177,339.7 178,339.7 178.3,339.7 179.7,339.7 180,339.7 180.8,339.7 181.7,339.7 182,339.7 183.3,339.7 184,339.7 185,339.7 186,339.7 187,339.7 188,339.7 188.3,339.7 190,339.7 192,339.7 192.5,339.7 194,339.7 195,339.7 196,339.7 197.5,339.7 198,339.7 199.7,339.7 200,339.7 201.7,339.7 202,339.7 203.3,339.7 204,339.7 205,339.7 206,339.7 206.3,339.7 207.5,339.7 208,339.7 209.2,339.7 210,339.7 211.7,339.7 212,339.7 213.7,339.7 214,339.7 215.8,339.7 216,339.7 217.5,339.7 218,339.7 219.7,339.7 220,339.7 222,339.7 222.5,339.7 224,339.7 225,339.7 226,339.7 227.5,339.7 228,339.7 230,339.7 232,339.7 233.3,339.7 234,339.7 236,339.7 236.7,339.7 238,339.7 240,339.7 242,339.7 243.3,339.7 244,339.7 245.8,339.7 246,339.7 248,339.7 249.2,339.7 250,339.7 252,339.7 252.5,339.7 254,339.7 254.2,339.7 255.8,339.7 256,339.7 258,339.7 260,339.7 261.7,339.7 262,339.7 263.7,339.7 264,339.7 265.8,339.7 266,339.7 268,339.7 268.3,339.7 270,339.7 272,339.7 273.3,339.7 274,339.7 275.8,339.7 276,339.7 278,339.7 280,339.7 282,339.7 282.5,339.7 284,339.7 285,339.7 286,339.7 287.5,339.7 288,339.7 290,339.7 292,339.7 292.5,339.7 294,339.7 294.2,339.6 295.8,339.1 296,339.1 298,338.4 298.3,338.3 300,337.8 302,337.4 303.3,336.7 304,336.4 305,335.9 306,335.6 307.5,335.2 308,335.3 309.2,335.6 310,335.9 310.8,336.2 312,336.8 313,337.7 314,338.6 314.3,338.8 315.7,339.3 316,339.4 317,339.6 318,339.7 318.3,339.7 319.3,339.7 320,339.7 322,339.7 324,339.7 324.2,339.7 326,339.7 326.7,339.7 328,339.7 329.7,339.7 330,339.7 331.7,339.7 332,339.7 334,339.7 334.2,339.7 336,339.7 336.7,339.7 338,339.7 340,339.7 342,339.7 343.3,339.7 344,339.7 346,339.7 346.7,339.7 348,339.7 348.3,339.7 350,339.7 351.7,339.7 352,339.7 354,339.7 355,339.7 356,339.7 358,339.7 360,339.7 360.8,339.7 362,339.7 364,339.7 364.2,339.7 366,339.7 367.5,339.7 368,339.7 370,339.7 370.8,339.7 372,339.7 373.3,339.7 374,339.7 375.8,339.7 376,339.7 378,339.7 379.2,339.7 380,339.7 382,339.7 382.5,339.7 384,339.7 385.8,339.7 386,339.7 388,339.7 389.2,339.7 390,339.7 392,339.7 392.5,339.7 394,339.7 395.8,339.7 396,339.7 398,339.7 399.2,339.7 400,339.7 401.7,339.7 402,339.7 404,339.7 404.2,339.7 406,339.7 407.5,339.7 408,339.7 410,339.7 412,339.7 412.5,339.7 414,339.7 415,339.7 416,339.7 418,339.7 418.3,339.7 420,339.7 421.3,339.7 422,339.7 424,339.7 424.2,339.7 426,339.7 426.7,339.7 428,339.7 429.2,339.7 430,339.7 432,339.7 432.5,339.7 434,339.7 435.8,339.7 436,339.7 438,339.7 439.2,339.7 440,339.7 441.7,339.7 442,339.7 444,339.7 444.2,339.7 446,339.7 446.3,339.7 448,339.7 448.5,339.7 450,339.7 451,339.7 452,339.5 453.5,339.4 454,339.4 455,339.7 456,338.1 457.2,334.1 457.5,330.4 458,323.8 458.7,312.2 460,289.2 460.8,272.4 461.7,260.7 462,257.6 462.5,252.5 463.3,247.4 464,246.9 464.5,246.4 465.8,248.5 466,248.9 467.2,251.7 468,249.7 468.3,248.9 469.7,245.8 470,246.1 470.8,247.6 472,252.6 472.5,254.7 474,261.9 474.2,262.8 475.5,269.5 476,269.1 477,268.4 478,264.1 478.3,262.8 480,262.5 482,267.1 483.3,273.8 484,279.9 484.2,281.6 485.8,289.7 486,290.1 487.5,292.6 488,291.8 489.2,289.7 490,288.5 490.8,287.3 492,290 492.5,291.2 493,298.5 494,308.5 494.2,310.4 495.8,322.7 496,324.1 497.5,331.1 498,331.8 499.7,334 500,334.7 500.8,334.9 502,335.7 502.5,335.8 504,335.1 504.2,335.1 505.8,332.4 506,332 508,328.7 508.3,328.5 510,328.1 510.8,328 512,328.5 513.3,329.1 514,329.6 515.3,331.9 516,333.2 517.5,335.9 518,336 519.7,336.6 520,336.6 521.7,335.6 522,335.4 524,333.8 524.2,333.7 525.8,332.3 526,332.3 527.5,333.6 528,334.2 529.2,335.5 530,335.8 531.7,337.1 532,337.3 533.7,338.3 534,338.5 535,338.9 536,339.2 537.5,339.4 538,339.5 540,339.7 542,339.7 543.3,339.7 544,339.7 545.3,339.7 546,339.7 547.5,339.7 548,339.7 549.2,339.7 550,339.7 551.7,339.7 552,339.7 554,339.7 554.2,339.7 556,339.7 556.7,339.7 558,339.7 559.2,339.7 560,339.7 560.8,339.7 562,339.7 562.5,339.7 564,339.7 565.8,339.7 566,339.7 568,339.7 568.3,339.7 570,339.7 570.3,339.7 572,339.7 572.5,339.7 574,339.7 575,339.7 576,339.7 577.5,339.7 578,339.7 580,339.7 582,339.7 584,339.7 584.2,339.7 586,339.7 586.7,339.7 588,339.7 588.3,339.7 590,339.7 590.8,339.7 592,339.7 593.3,339.7 594,339.7 595.8,339.7 596,339.7 597.5,339.7 598,339.7 600,339.7 602,339.4 602.5,339.3 604,339 604.2,338.9 605.8,338.4 606,338.3 607.5,337.9 608,337.8 609.2,337.6 610,337.3 610.8,337 612,336.7 614,336.7 614.2,336.8 616,336.9 616.7,336.9 618,337 618.3,337 620,337.1 620.8,337.3 622,337.7 623.3,338.1 624,338.3 625.8,338.3 626,338.1 627.5,336.7 628,336.2 629.2,334.7 630,334.1 630.3,334 631.7,334.6 632,334.6 633,335 634,333.6 635,332.2 636,330.7 637,329.1 638,327.2 638.7,325.8 640,321.4 640.3,320.6 642,318.9 642.5,318.4 644,316.9 645,315.9 646,314.9 647,313.8 648,311.1 648.3,310.6 650,309.3 651.3,311.4 652,314.1 652.5,316 653.7,320.8 654,321 655.8,324.2 656,325 657,328.6 658,332.9 659.2,335.9 660,336.3 660.8,336.8 662,333 662.5,330.5 663.3,325.9 664,320.9 664.7,322 665.8,327.5 666,328.8 667,334.3 668,334.6 668.3,334.7 670,334.7 670.8,334.7 672,334.6 673,334.4 674,333.8 675,333.1 676,332.6 678,331.4 678.3,331.3 680,330.7 682,331.2 683.3,331.5 684,331.7 686,332 687.5,332.3 688,332.4 690,331 691.7,330.8 692,330.7 693,329.9 694,330.3 694.7,331.5 695.8,330.9 696,330.7 697,329.3 698,329.6 699.2,330.9 700,331.6 700.3,331.8 701.7,331.1 702,330.8 702.8,330.1 704,329.7 704.2,329.6 705.8,329.7 706,329.8 707,330.4 708,331.3 708.7,331.8 710,333.1 710.3,333.4 712,334.6 712.5,335.3 714,337.2 714.2,337.4 715.8,339.2 716,339.4 718,339.7 718.3,339.7 720,339.7 720.8,339.7 722,339.7 723.3,339.7 724,339.7 725.8,339.7 726,339.7 727.5,339.7 728,339.7 729.2,339.7 730,339.7 732,339.7 732.5,339.7 734,339.7 735,339.7 736,339.7 736.7,339.7 738,339.7 738.3,339.7 740,339.7 741.7,339.7 742,339.7 743.7,339.7 744,339.7 745.3,339.7 746,339.7 747.2,339.7 748,339.7 749.2,339.7 750,339.7 751.7,339.7 752,339.7 754,339.7 756,339.7 756.7,339.7 758,339.7 760,339.7 760.8,339.7 762,339.7 764,339.7 765,339.7 766,339.7 768,339.7 768.3,339.7 770,339.7 771.7,339.7 772,339.7 773.7,339.7 774,339.7 776,339.7 776.7,339.7 778,339.7 779.7,339.7 780,339.7 781.7,339.7 782,339.7 783.7,339.7 784,339.7 786,339.7 786.3,339.7 788,339.7 790,339.7 792,339.7 793.3,339.7 794,339.7 795,339.7 796,339.7 797.5,339.7 798,339.7 800,339.7 802,339.7 802.5,339.7 804,339.7 805.8,339.7 806,339.7 808,339.7 808.3,339.7 810,339.7 810.8,339.7 812,339.7 813,339.7 814,339.7 815.3,339.7 816,339.7 817.5,339.7 818,339.7 820,339.7 822,339.7 822.5,339.7 824,339.7 824.7,339.7 826,339.7 826.7,339.7 828,339.7 830,339.7 832,339.7 834,339.7 834.2,339.7 836,339.7 838,339.7 838.3,339.7 840,339.7 840.8,339.7 842,339.7 843.3,339.7 844,339.7 845.8,339.7 846,339.7 848,339.7 848.3,339.7 850,339.7 850.8,339.7 852,339.7 853.3,339.7 854,339.7 856,339.7 856.3,339.7 858,339.7 859.2,339.7 860,339.7 861.7,339.7 862,339.7 864,339.7 864.2,339.7 865.8,339.7 L865.8,340.5 Z"/>
<path fill="#ee6445" d="M160,340.5 L160,339.7 162,339.7 162.5,339.7 164,339.7 165.8,339.7 166,339.7 167.5,339.7 168,339.7 169.7,339.7 170,339.7 170.8,339.7 172,339.7 172.5,339.7 174,339.7 174.2,339.7 175.8,339.7 176,339.7 177,339.7 178,339.7 178.3,339.7 179.7,339.7 180,339.7 180.8,339.7 181.7,339.7 182,339.7 183.3,339.7 184,339.7 185,339.7 186,339.7 187,339.7 188,339.7 188.3,339.7 190,339.7 192,339.7 192.5,339.7 194,339.7 195,339.7 196,339.7 197.5,339.7 198,339.7 199.7,339.7 200,339.7 201.7,339.7 202,339.7 203.3,339.7 204,339.7 205,339.7 206,339.7 206.3,339.7 207.5,339.7 208,339.7 209.2,339.7 210,339.7 211.7,339.7 212,339.7 213.7,339.7 214,339.7 215.8,339.7 216,339.7 217.5,339.7 218,339.7 219.7,339.7 220,339.7 222,339.7 222.5,339.7 224,339.7 225,339.7 226,339.7 227.5,339.7 228,339.7 230,339.7 232,339.7 233.3,339.7 234,339.7 236,339.7 236.7,339.7 238,339.7 240,339.7 242,339.7 243.3,339.7 244,339.7 245.8,339.7 246,339.7 248,339.7 249.2,339.7 250,339.7 252,339.7 252.5,339.7 254,339.7 254.2,339.7 255.8,339.7 256,339.7 258,339.7 260,339.7 261.7,339.7 262,339.7 263.7,339.7 264,339.7 265.8,339.7 266,339.7 268,339.7 268.3,339.7 270,339.7 272,339.7 273.3,339.7 274,339.7 275.8,339.7 276,339.7 278,339.7 280,339.7 282,339.7 282.5,339.7 284,339.7 285,339.7 286,339.7 287.5,339.7 288,339.7 290,339.7 292,339.7 292.5,339.7 294,339.7 294.2,339.7 295.8,339.7 296,339.7 298,339.7 298.3,339.7 300,339.7 302,339.7 303.3,339.7 304,339.7 305,339.7 306,339.7 307.5,339.7 308,339.7 309.2,339.7 310,339.7 310.8,339.7 312,339.7 313,339.7 314,339.7 314.3,339.7 315.7,339.7 316,339.7 317,339.7 318,339.7 318.3,339.7 319.3,339.7 320,339.7 322,339.7 324,339.7 324.2,339.7 326,339.7 326.7,339.7 328,339.7 329.7,339.7 330,339.7 331.7,339.7 332,339.7 334,339.7 334.2,339.7 336,339.7 336.7,339.7 338,339.7 340,339.7 342,339.7 343.3,339.7 344,339.7 346,339.7 346.7,339.7 348,339.7 348.3,339.7 350,339.7 351.7,339.7 352,339.7 354,339.7 355,339.7 356,339.7 358,339.7 360,339.7 360.8,339.7 362,339.7 364,339.7 364.2,339.7 366,339.7 367.5,339.7 368,339.7 370,339.7 370.8,339.7 372,339.7 373.3,339.7 374,339.7 375.8,339.7 376,339.7 378,339.7 379.2,339.7 380,339.7 382,339.7 382.5,339.7 384,339.7 385.8,339.7 386,339.7 388,339.7 389.2,339.7 390,339.7 392,339.7 392.5,339.7 394,339.7 395.8,339.7 396,339.7 398,339.7 399.2,339.7 400,339.7 401.7,339.7 402,339.7 404,339.7 404.2,339.7 406,339.7 407.5,339.7 408,339.7 410,339.7 412,339.7 412.5,339.7 414,339.7 415,339.7 416,339.7 418,339.7 418.3,339.7 420,339.7 421.3,339.7 422,339.7 424,339.7 424.2,339.7 426,339.7 426.7,339.7 428,339.7 429.2,339.7 430,339.7 432,339.7 432.5,339.7 434,339.7 435.8,339.7 436,339.7 438,339.7 439.2,339.7 440,339.7 441.7,339.7 442,339.7 444,339.7 444.2,339.7 446,339.7 446.3,339.7 448,339.7 448.5,339.7 450,339.7 451,339.7 452,339.7 453.5,339.6 454,339.6 455,339.7 456,338.8 457.2,336.7 457.5,334.8 458,331.4 458.7,325.3 460,313.3 460.8,304.4 461.7,298.3 462,296.7 462.5,294 463.3,291.4 464,291.1 464.5,290.8 465.8,291.9 466,292.2 467.2,293.6 468,292.5 468.3,292.1 469.7,290.5 470,290.7 470.8,291.4 472,294.1 472.5,295.2 474,298.9 474.2,299.4 475.5,302.9 476,302.7 477,302.4 478,300.1 478.3,299.4 480,299.3 482,301.7 483.3,305.2 484,308.4 484.2,309.3 485.8,313.5 486,313.7 487.5,315 488,314.6 489.2,313.5 490,312.9 490.8,312.2 492,313.7 492.5,314.3 493,318.1 494,323.4 494.2,324.3 495.8,330.7 496,331.4 497.5,335.4 498,336.2 499.7,339.1 500,339.7 500.8,339.7 502,339.7 502.5,339.7 504,339.7 504.2,339.7 505.8,338.2 506,337.8 508,335.1 508.3,335 510,334.5 510.8,334.2 512,334.6 513.3,335.1 514,335.5 515.3,337.1 516,338 517.5,339.7 518,339.7 519.7,339.7 520,339.7 521.7,339.7 522,339.7 524,339.7 524.2,339.7 525.8,339.7 526,339.7 527.5,339.7 528,339.7 529.2,339.7 530,339.7 531.7,339.7 532,339.7 533.7,339.7 534,339.7 535,339.7 536,339.7 537.5,339.7 538,339.7 540,339.7 542,339.7 543.3,339.7 544,339.7 545.3,339.7 546,339.7 547.5,339.7 548,339.7 549.2,339.7 550,339.7 551.7,339.7 552,339.7 554,339.7 554.2,339.7 556,339.7 556.7,339.7 558,339.7 559.2,339.7 560,339.7 560.8,339.7 562,339.7 562.5,339.7 564,339.7 565.8,339.7 566,339.7 568,339.7 568.3,339.7 570,339.7 570.3,339.7 572,339.7 572.5,339.7 574,339.7 575,339.7 576,339.7 577.5,339.7 578,339.7 580,339.7 582,339.7 584,339.7 584.2,339.7 586,339.7 586.7,339.7 588,339.7 588.3,339.7 590,339.7 590.8,339.7 592,339.7 593.3,339.7 594,339.7 595.8,339.7 596,339.7 597.5,339.7 598,339.7 600,339.7 602,339.7 602.5,339.7 604,339.7 604.2,339.7 605.8,339.7 606,339.7 607.5,339.7 608,339.7 609.2,339.7 610,339.7 610.8,339.7 612,339.7 614,339.7 614.2,339.7 616,339.7 616.7,339.7 618,339.7 618.3,339.7 620,339.7 620.8,339.7 622,339.7 623.3,339.7 624,339.7 625.8,339.5 626,339.4 627.5,338.7 628,338.4 629.2,337.4 630,336.9 630.3,336.9 631.7,337.1 632,337.2 633,337.3 634,336.6 635,336 636,335.2 637,334.4 638,333.5 638.7,332.8 640,330.6 640.3,330.2 642,329.3 642.5,329 644,328.3 645,327.8 646,327.3 647,326.7 648,325.4 648.3,325.2 650,324.5 651.3,325.6 652,326.9 652.5,327.8 653.7,330.2 654,330.3 655.8,332 656,332.3 657,334.2 658,336.3 659.2,337.8 660,338 660.8,338.3 662,336.4 662.5,335.1 663.3,332.8 664,330.3 664.7,330.8 665.8,333.6 666,334.3 667,337 668,337.2 668.3,337.2 670,337.2 670.8,337.2 672,337.1 673,337 674,336.7 675,336.4 676,336.1 678,335.6 678.3,335.5 680,335.2 682,335.4 683.3,335.6 684,335.7 686,335.9 687.5,336 688,336 690,335.3 691.7,336.8 692,337.1 693,338.8 694,339.7 694.7,339.7 695.8,339.7 696,339.7 697,339.7 698,339.7 699.2,339.7 700,339.7 700.3,339.7 701.7,339.7 702,339.7 702.8,339.7 704,339.7 704.2,339.7 705.8,339.7 706,339.7 707,339.7 708,339.7 708.7,339.7 710,339.7 710.3,339.7 712,339.7 712.5,339.7 714,339.7 714.2,339.7 715.8,339.7 716,339.7 718,339.7 718.3,339.7 720,339.7 720.8,339.7 722,339.7 723.3,339.7 724,339.7 725.8,339.7 726,339.7 727.5,339.7 728,339.7 729.2,339.7 730,339.7 732,339.7 732.5,339.7 734,339.7 735,339.7 736,339.7 736.7,339.7 738,339.7 738.3,339.7 740,339.7 741.7,339.7 742,339.7 743.7,339.7 744,339.7 745.3,339.7 746,339.7 747.2,339.7 748,339.7 749.2,339.7 750,339.7 751.7,339.7 752,339.7 754,339.7 756,339.7 756.7,339.7 758,339.7 760,339.7 760.8,339.7 762,339.7 764,339.7 765,339.7 766,339.7 768,339.7 768.3,339.7 770,339.7 771.7,339.7 772,339.7 773.7,339.7 774,339.7 776,339.7 776.7,339.7 778,339.7 779.7,339.7 780,339.7 781.7,339.7 782,339.7 783.7,339.7 784,339.7 786,339.7 786.3,339.7 788,339.7 790,339.7 792,339.7 793.3,339.7 794,339.7 795,339.7 796,339.7 797.5,339.7 798,339.7 800,339.7 802,339.7 802.5,339.7 804,339.7 805.8,339.7 806,339.7 808,339.7 808.3,339.7 810,339.7 810.8,339.7 812,339.7 813,339.7 814,339.7 815.3,339.7 816,339.7 817.5,339.7 818,339.7 820,339.7 822,339.7 822.5,339.7 824,339.7 824.7,339.7 826,339.7 826.7,339.7 828,339.7 830,339.7 832,339.7 834,339.7 834.2,339.7 836,339.7 838,339.7 838.3,339.7 840,339.7 840.8,339.7 842,339.7 843.3,339.7 844,339.7 845.8,339.7 846,339.7 848,339.7 848.3,339.7 850,339.7 850.8,339.7 852,339.7 853.3,339.7 854,339.7 856,339.7 856.3,339.7 858,339.7 859.2,339.7 860,339.7 861.7,339.7 862,339.7 864,339.7 864.2,339.7 865.8,339.7 L865.8,340.5 Z"/>
<path fill="#e45549" d="M160,340.5 L160,339.7 162,339.7 162.5,339.7 164,339.7 165.8,339.7 166,339.7 167.5,339.7 168,339.7 169.7,339.7 170,339.7 170.8,339.7 172,339.7 172.5,339.7 174,339.7 174.2,339.7 175.8,339.7 176,339.7 177,339.7 178,339.7 178.3,339.7 179.7,339.7 180,339.7 180.8,339.7 181.7,339.7 182,339.7 183.3,339.7 184,339.7 185,339.7 186,339.7 187,339.7 188,339.7 188.3,339.7 190,339.7 192,339.7 192.5,339.7 194,339.7 195,339.7 196,339.7 197.5,339.7 198,339.7 199.7,339.7 200,339.7 201.7,339.7 202,339.7 203.3,339.7 204,339.7 205,339.7 206,339.7 206.3,339.7 207.5,339.7 208,339.7 209.2,339.7 210,339.7 211.7,339.7 212,339.7 213.7,339.7 214,339.7 215.8,339.7 216,339.7 217.5,339.7 218,339.7 219.7,339.7 220,339.7 222,339.7 222.5,339.7 224,339.7 225,339.7 226,339.7 227.5,339.7 228,339.7 230,339.7 232,339.7 233.3,339.7 234,339.7 236,339.7 236.7,339.7 238,339.7 240,339.7 242,339.7 243.3,339.7 244,339.7 245.8,339.7 246,339.7 248,339.7 249.2,339.7 250,339.7 252,339.7 252.5,339.7 254,339.7 254.2,339.7 255.8,339.7 256,339.7 258,339.7 260,339.7 261.7,339.7 262,339.7 263.7,339.7 264,339.7 265.8,339.7 266,339.7 268,339.7 268.3,339.7 270,339.7 272,339.7 273.3,339.7 274,339.7 275.8,339.7 276,339.7 278,339.7 280,339.7 282,339.7 282.5,339.7 284,339.7 285,339.7 286,339.7 287.5,339.7 288,339.7 290,339.7 292,339.7 292.5,339.7 294,339.7 294.2,339.7 295.8,339.7 296,339.7 298,339.7 298.3,339.7 300,339.7 302,339.7 303.3,339.7 304,339.7 305,339.7 306,339.7 307.5,339.7 308,339.7 309.2,339.7 310,339.7 310.8,339.7 312,339.7 313,339.7 314,339.7 314.3,339.7 315.7,339.7 316,339.7 317,339.7 318,339.7 318.3,339.7 319.3,339.7 320,339.7 322,339.7 324,339.7 324.2,339.7 326,339.7 326.7,339.7 328,339.7 329.7,339.7 330,339.7 331.7,339.7 332,339.7 334,339.7 334.2,339.7 336,339.7 336.7,339.7 338,339.7 340,339.7 342,339.7 343.3,339.7 344,339.7 346,339.7 346.7,339.7 348,339.7 348.3,339.7 350,339.7 351.7,339.7 352,339.7 354,339.7 355,339.7 356,339.7 358,339.7 360,339.7 360.8,339.7 362,339.7 364,339.7 364.2,339.7 366,339.7 367.5,339.7 368,339.7 370,339.7 370.8,339.7 372,339.7 373.3,339.7 374,339.7 375.8,339.7 376,339.7 378,339.7 379.2,339.7 380,339.7 382,339.7 382.5,339.7 384,339.7 385.8,339.7 386,339.7 388,339.7 389.2,339.7 390,339.7 392,339.7 392.5,339.7 394,339.7 395.8,339.7 396,339.7 398,339.7 399.2,339.7 400,339.7 401.7,339.7 402,339.7 404,339.7 404.2,339.7 406,339.7 407.5,339.7 408,339.7 410,339.7 412,339.7 412.5,339.7 414,339.7 415,339.7 416,339.7 418,339.7 418.3,339.7 420,339.7 421.3,339.7 422,339.7 424,339.7 424.2,339.7 426,339.7 426.7,339.7 428,339.7 429.2,339.7 430,339.7 432,339.7 432.5,339.7 434,339.7 435.8,339.7 436,339.7 438,339.7 439.2,339.7 440,339.7 441.7,339.7 442,339.7 444,339.7 444.2,339.7 446,339.7 446.3,339.7 448,339.7 448.5,339.7 450,339.7 451,339.7 452,339.7 453.5,339.7 454,339.7 455,339.7 456,339.5 457.2,339.3 457.5,339.1 458,338.9 458.7,338.4 460,337.3 460.8,336.5 461.7,335.9 462,335.8 462.5,335.5 463.3,335.3 464,335.3 464.5,335.3 465.8,335.4 466,335.4 467.2,335.5 468,335.4 468.3,335.4 469.7,335.2 470,335.2 470.8,335.3 472,335.6 472.5,335.7 474,336 474.2,336 475.5,336.4 476,336.3 477,336.3 478,336.1 478.3,336 480,336 482,336.2 483.3,336.6 484,336.9 484.2,336.9 485.8,337.3 486,337.3 487.5,337.5 488,337.4 489.2,337.3 490,337.3 490.8,337.2 492,337.3 492.5,337.4 493,337.7 494,338.2 494.2,338.3 495.8,338.7 496,338.7 497.5,339.7 498,339.7 499.7,339.7 500,339.7 500.8,339.7 502,339.7 502.5,339.7 504,339.7 504.2,339.7 505.8,338.2 506,337.8 508,335.1 508.3,335 510,334.5 510.8,334.2 512,334.6 513.3,335.1 514,335.5 515.3,337.1 516,338 517.5,339.7 518,339.7 519.7,339.7 520,339.7 521.7,339.7 522,339.7 524,339.7 524.2,339.7 525.8,339.7 526,339.7 527.5,339.7 528,339.7 529.2,339.7 530,339.7 531.7,339.7 532,339.7 533.7,339.7 534,339.7 535,339.7 536,339.7 537.5,339.7 538,339.7 540,339.7 542,339.7 543.3,339.7 544,339.7 545.3,339.7 546,339.7 547.5,339.7 548,339.7 549.2,339.7 550,339.7 551.7,339.7 552,339.7 554,339.7 554.2,339.7 556,339.7 556.7,339.7 558,339.7 559.2,339.7 560,339.7 560.8,339.7 562,339.7 562.5,339.7 564,339.7 565.8,339.7 566,339.7 568,339.7 568.3,339.7 570,339.7 570.3,339.7 572,339.7 572.5,339.7 574,339.7 575,339.7 576,339.7 577.5,339.7 578,339.7 580,339.7 582,339.7 584,339.7 584.2,339.7 586,339.7 586.7,339.7 588,339.7 588.3,339.7 590,339.7 590.8,339.7 592,339.7 593.3,339.7 594,339.7 595.8,339.7 596,339.7 597.5,339.7 598,339.7 600,339.7 602,339.7 602.5,339.7 604,339.7 604.2,339.7 605.8,339.7 606,339.7 607.5,339.7 608,339.7 609.2,339.7 610,339.7 610.8,339.7 612,339.7 614,339.7 614.2,339.7 616,339.7 616.7,339.7 618,339.7 618.3,339.7 620,339.7 620.8,339.7 622,339.7 623.3,339.7 624,339.7 625.8,339.7 626,339.7 627.5,339.7 628,339.7 629.2,339.7 630,339.7 630.3,339.7 631.7,339.7 632,339.7 633,339.7 634,339.7 635,339.7 636,339.7 637,339.7 638,339.7 638.7,339.7 640,339.7 640.3,339.7 642,339.7 642.5,339.7 644,339.7 645,339.7 646,339.7 647,339.7 648,339.7 648.3,339.7 650,339.7 651.3,339.7 652,339.7 652.5,339.7 653.7,339.7 654,339.7 655.8,339.7 656,339.7 657,339.7 658,339.7 659.2,339.7 660,339.7 660.8,339.7 662,339.7 662.5,339.7 663.3,339.7 664,339.7 664.7,339.7 665.8,339.7 666,339.7 667,339.7 668,339.7 668.3,339.7 670,339.7 670.8,339.7 672,339.7 673,339.7 674,339.7 675,339.7 676,339.7 678,339.7 678.3,339.7 680,339.7 682,339.7 683.3,339.7 684,339.7 686,339.7 687.5,339.7 688,339.7 690,339.7 691.7,339.7 692,339.7 693,339.7 694,339.7 694.7,339.7 695.8,339.7 696,339.7 697,339.7 698,339.7 699.2,339.7 700,339.7 700.3,339.7 701.7,339.7 702,339.7 702.8,339.7 704,339.7 704.2,339.7 705.8,339.7 706,339.7 707,339.7 708,339.7 708.7,339.7 710,339.7 710.3,339.7 712,339.7 712.5,339.7 714,339.7 714.2,339.7 715.8,339.7 716,339.7 718,339.7 718.3,339.7 720,339.7 720.8,339.7 722,339.7 723.3,339.7 724,339.7 725.8,339.7 726,339.7 727.5,339.7 728,339.7 729.2,339.7 730,339.7 732,339.7 732.5,339.7 734,339.7 735,339.7 736,339.7 736.7,339.7 738,339.7 738.3,339.7 740,339.7 741.7,339.7 742,339.7 743.7,339.7 744,339.7 745.3,339.7 746,339.7 747.2,339.7 748,339.7 749.2,339.7 750,339.7 751.7,339.7 752,339.7 754,339.7 756,339.7 756.7,339.7 758,339.7 760,339.7 760.8,339.7 762,339.7 764,339.7 765,339.7 766,339.7 768,339.7 768.3,339.7 770,339.7 771.7,339.7 772,339.7 773.7,339.7 774,339.7 776,339.7 776.7,339.7 778,339.7 779.7,339.7 780,339.7 781.7,339.7 782,339.7 783.7,339.7 784,339.7 786,339.7 786.3,339.7 788,339.7 790,339.7 792,339.7 793.3,339.7 794,339.7 795,339.7 796,339.7 797.5,339.7 798,339.7 800,339.7 802,339.7 802.5,339.7 804,339.7 805.8,339.7 806,339.7 808,339.7 808.3,339.7 810,339.7 810.8,339.7 812,339.7 813,339.7 814,339.7 815.3,339.7 816,339.7 817.5,339.7 818,339.7 820,339.7 822,339.7 822.5,339.7 824,339.7 824.7,339.7 826,339.7 826.7,339.7 828,339.7 830,339.7 832,339.7 834,339.7 834.2,339.7 836,339.7 838,339.7 838.3,339.7 840,339.7 840.8,339.7 842,339.7 843.3,339.7 844,339.7 845.8,339.7 846,339.7 848,339.7 848.3,339.7 850,339.7 850.8,339.7 852,339.7 853.3,339.7 854,339.7 856,339.7 856.3,339.7 858,339.7 859.2,339.7 860,339.7 861.7,339.7 862,339.7 864,339.7 864.2,339.7 865.8,339.7 L865.8,340.5 Z"/>
<path fill="#d9444d" d="M160,340.5 L160,339.7 162,339.7 162.5,339.7 164,339.7 165.8,339.7 166,339.7 167.5,339.7 168,339.7 169.7,339.7 170,339.7 170.8,339.7 172,339.7 172.5,339.7 174,339.7 174.2,339.7 175.8,339.7 176,339.7 177,339.7 178,339.7 178.3,339.7 179.7,339.7 180,339.7 180.8,339.7 181.7,339.7 182,339.7 183.3,339.7 184,339.7 185,339.7 186,339.7 187,339.7 188,339.7 188.3,339.7 190,339.7 192,339.7 192.5,339.7 194,339.7 195,339.7 196,339.7 197.5,339.7 198,339.7 199.7,339.7 200,339.7 201.7,339.7 202,339.7 203.3,339.7 204,339.7 205,339.7 206,339.7 206.3,339.7 207.5,339.7 208,339.7 209.2,339.7 210,339.7 211.7,339.7 212,339.7 213.7,339.7 214,339.7 215.8,339.7 216,339.7 217.5,339.7 218,339.7 219.7,339.7 220,339.7 222,339.7 222.5,339.7 224,339.7 225,339.7 226,339.7 227.5,339.7 228,339.7 230,339.7 232,339.7 233.3,339.7 234,339.7 236,339.7 236.7,339.7 238,339.7 240,339.7 242,339.7 243.3,339.7 244,339.7 245.8,339.7 246,339.7 248,339.7 249.2,339.7 250,339.7 252,339.7 252.5,339.7 254,339.7 254.2,339.7 255.8,339.7 256,339.7 258,339.7 260,339.7 261.7,339.7 262,339.7 263.7,339.7 264,339.7 265.8,339.7 266,339.7 268,339.7 268.3,339.7 270,339.7 272,339.7 273.3,339.7 274,339.7 275.8,339.7 276,339.7 278,339.7 280,339.7 282,339.7 282.5,339.7 284,339.7 285,339.7 286,339.7 287.5,339.7 288,339.7 290,339.7 292,339.7 292.5,339.7 294,339.7 294.2,339.7 295.8,339.7 296,339.7 298,339.7 298.3,339.7 300,339.7 302,339.7 303.3,339.7 304,339.7 305,339.7 306,339.7 307.5,339.7 308,339.7 309.2,339.7 310,339.7 310.8,339.7 312,339.7 313,339.7 314,339.7 314.3,339.7 315.7,339.7 316,339.7 317,339.7 318,339.7 318.3,339.7 319.3,339.7 320,339.7 322,339.7 324,339.7 324.2,339.7 326,339.7 326.7,339.7 328,339.7 329.7,339.7 330,339.7 331.7,339.7 332,339.7 334,339.7 334.2,339.7 336,339.7 336.7,339.7 338,339.7 340,339.7 342,339.7 343.3,339.7 344,339.7 346,339.7 346.7,339.7 348,339.7 348.3,339.7 350,339.7 351.7,339.7 352,339.7 354,339.7 355,339.7 356,339.7 358,339.7 360,339.7 360.8,339.7 362,339.7 364,339.7 364.2,339.7 366,339.7 367.5,339.7 368,339.7 370,339.7 370.8,339.7 372,339.7 373.3,339.7 374,339.7 375.8,339.7 376,339.7 378,339.7 379.2,339.7 380,339.7 382,339.7 382.5,339.7 384,339.7 385.8,339.7 386,339.7 388,339.7 389.2,339.7 390,339.7 392,339.7 392.5,339.7 394,339.7 395.8,339.7 396,339.7 398,339.7 399.2,339.7 400,339.7 401.7,339.7 402,339.7 404,339.7 404.2,339.7 406,339.7 407.5,339.7 408,339.7 410,339.7 412,339.7 412.5,339.7 414,339.7 415,339.7 416,339.7 418,339.7 418.3,339.7 420,339.7 421.3,339.7 422,339.7 424,339.7 424.2,339.7 426,339.7 426.7,339.7 428,339.7 429.2,339.7 430,339.7 432,339.7 432.5,339.7 434,339.7 435.8,339.7 436,339.7 438,339.7 439.2,339.7 440,339.7 441.7,339.7 442,339.7 444,339.7 444.2,339.7 446,339.7 446.3,339.7 448,339.7 448.5,339.7 450,339.7 451,339.7 452,339.7 453.5,339.7 454,339.7 455,339.7 456,339.7 457.2,339.7 457.5,339.7 458,339.7 458.7,339.7 460,339.7 460.8,339.7 461.7,339.7 462,339.7 462.5,339.7 463.3,339.7 464,339.7 464.5,339.7 465.8,339.7 466,339.7 467.2,339.7 468,339.7 468.3,339.7 469.7,339.7 470,339.7 470.8,339.7 472,339.7 472.5,339.7 474,339.7 474.2,339.7 475.5,339.7 476,339.7 477,339.7 478,339.7 478.3,339.7 480,339.7 482,339.7 483.3,339.7 484,339.7 484.2,339.7 485.8,339.7 486,339.7 487.5,339.7 488,339.7 489.2,339.7 490,339.7 490.8,339.7 492,339.7 492.5,339.7 493,339.7 494,339.7 494.2,339.7 495.8,339.7 496,339.7 497.5,339.7 498,339.7 499.7,339.7 500,339.7 500.8,339.7 502,339.7 502.5,339.7 504,339.7 504.2,339.7 505.8,338.2 506,337.8 508,335.1 508.3,335 510,334.5 510.8,334.2 512,334.6 513.3,335.1 514,335.5 515.3,337.1 516,338 517.5,339.7 518,339.7 519.7,339.7 520,339.7 521.7,339.7 522,339.7 524,339.7 524.2,339.7 525.8,339.7 526,339.7 527.5,339.7 528,339.7 529.2,339.7 530,339.7 531.7,339.7 532,339.7 533.7,339.7 534,339.7 535,339.7 536,339.7 537.5,339.7 538,339.7 540,339.7 542,339.7 543.3,339.7 544,339.7 545.3,339.7 546,339.7 547.5,339.7 548,339.7 549.2,339.7 550,339.7 551.7,339.7 552,339.7 554,339.7 554.2,339.7 556,339.7 556.7,339.7 558,339.7 559.2,339.7 560,339.7 560.8,339.7 562,339.7 562.5,339.7 564,339.7 565.8,339.7 566,339.7 568,339.7 568.3,339.7 570,339.7 570.3,339.7 572,339.7 572.5,339.7 574,339.7 575,339.7 576,339.7 577.5,339.7 578,339.7 580,339.7 582,339.7 584,339.7 584.2,339.7 586,339.7 586.7,339.7 588,339.7 588.3,339.7 590,339.7 590.8,339.7 592,339.7 593.3,339.7 594,339.7 595.8,339.7 596,339.7 597.5,339.7 598,339.7 600,339.7 602,339.7 602.5,339.7 604,339.7 604.2,339.7 605.8,339.7 606,339.7 607.5,339.7 608,339.7 609.2,339.7 610,339.7 610.8,339.7 612,339.7 614,339.7 614.2,339.7 616,339.7 616.7,339.7 618,339.7 618.3,339.7 620,339.7 620.8,339.7 622,339.7 623.3,339.7 624,339.7 625.8,339.7 626,339.7 627.5,339.7 628,339.7 629.2,339.7 630,339.7 630.3,339.7 631.7,339.7 632,339.7 633,339.7 634,339.7 635,339.7 636,339.7 637,339.7 638,339.7 638.7,339.7 640,339.7 640.3,339.7 642,339.7 642.5,339.7 644,339.7 645,339.7 646,339.7 647,339.7 648,339.7 648.3,339.7 650,339.7 651.3,339.7 652,339.7 652.5,339.7 653.7,339.7 654,339.7 655.8,339.7 656,339.7 657,339.7 658,339.7 659.2,339.7 660,339.7 660.8,339.7 662,339.7 662.5,339.7 663.3,339.7 664,339.7 664.7,339.7 665.8,339.7 666,339.7 667,339.7 668,339.7 668.3,339.7 670,339.7 670.8,339.7 672,339.7 673,339.7 674,339.7 675,339.7 676,339.7 678,339.7 678.3,339.7 680,339.7 682,339.7 683.3,339.7 684,339.7 686,339.7 687.5,339.7 688,339.7 690,339.7 691.7,339.7 692,339.7 693,339.7 694,339.7 694.7,339.7 695.8,339.7 696,339.7 697,339.7 698,339.7 699.2,339.7 700,339.7 700.3,339.7 701.7,339.7 702,339.7 702.8,339.7 704,339.7 704.2,339.7 705.8,339.7 706,339.7 707,339.7 708,339.7 708.7,339.7 710,339.7 710.3,339.7 712,339.7 712.5,339.7 714,339.7 714.2,339.7 715.8,339.7 716,339.7 718,339.7 718.3,339.7 720,339.7 720.8,339.7 722,339.7 723.3,339.7 724,339.7 725.8,339.7 726,339.7 727.5,339.7 728,339.7 729.2,339.7 730,339.7 732,339.7 732.5,339.7 734,339.7 735,339.7 736,339.7 736.7,339.7 738,339.7 738.3,339.7 740,339.7 741.7,339.7 742,339.7 743.7,339.7 744,339.7 745.3,339.7 746,339.7 747.2,339.7 748,339.7 749.2,339.7 750,339.7 751.7,339.7 752,339.7 754,339.7 756,339.7 756.7,339.7 758,339.7 760,339.7 760.8,339.7 762,339.7 764,339.7 765,339.7 766,339.7 768,339.7 768.3,339.7 770,339.7 771.7,339.7 772,339.7 773.7,339.7 774,339.7 776,339.7 776.7,339.7 778,339.7 779.7,339.7 780,339.7 781.7,339.7 782,339.7 783.7,339.7 784,339.7 786,339.7 786.3,339.7 788,339.7 790,339.7 792,339.7 793.3,339.7 794,339.7 795,339.7 796,339.7 797.5,339.7 798,339.7 800,339.7 802,339.7 802.5,339.7 804,339.7 805.8,339.7 806,339.7 808,339.7 808.3,339.7 810,339.7 810.8,339.7 812,339.7 813,339.7 814,339.7 815.3,339.7 816,339.7 817.5,339.7 818,339.7 820,339.7 822,339.7 822.5,339.7 824,339.7 824.7,339.7 826,339.7 826.7,339.7 828,339.7 830,339.7 832,339.7 834,339.7 834.2,339.7 836,339.7 838,339.7 838.3,339.7 840,339.7 840.8,339.7 842,339.7 843.3,339.7 844,339.7 845.8,339.7 846,339.7 848,339.7 848.3,339.7 850,339.7 850.8,339.7 852,339.7 853.3,339.7 854,339.7 856,339.7 856.3,339.7 858,339.7 859.2,339.7 860,339.7 861.7,339.7 862,339.7 864,339.7 864.2,339.7 865.8,339.7 L865.8,340.5 Z"/>
<path fill="#cb334d" d="M160,340.5 L160,339.7 162,339.7 162.5,339.7 164,339.7 165.8,339.7 166,339.7 167.5,339.7 168,339.7 169.7,339.7 170,339.7 170.8,339.7 172,339.7 172.5,339.7 174,339.7 174.2,339.7 175.8,339.7 176,339.7 177,339.7 178,339.7 178.3,339.7 179.7,339.7 180,339.7 180.8,339.7 181.7,339.7 182,339.7 183.3,339.7 184,339.7 185,339.7 186,339.7 187,339.7 188,339.7 188.3,339.7 190,339.7 192,339.7 192.5,339.7 194,339.7 195,339.7 196,339.7 197.5,339.7 198,339.7 199.7,339.7 200,339.7 201.7,339.7 202,339.7 203.3,339.7 204,339.7 205,339.7 206,339.7 206.3,339.7 207.5,339.7 208,339.7 209.2,339.7 210,339.7 211.7,339.7 212,339.7 213.7,339.7 214,339.7 215.8,339.7 216,339.7 217.5,339.7 218,339.7 219.7,339.7 220,339.7 222,339.7 222.5,339.7 224,339.7 225,339.7 226,339.7 227.5,339.7 228,339.7 230,339.7 232,339.7 233.3,339.7 234,339.7 236,339.7 236.7,339.7 238,339.7 240,339.7 242,339.7 243.3,339.7 244,339.7 245.8,339.7 246,339.7 248,339.7 249.2,339.7 250,339.7 252,339.7 252.5,339.7 254,339.7 254.2,339.7 255.8,339.7 256,339.7 258,339.7 260,339.7 261.7,339.7 262,339.7 263.7,339.7 264,339.7 265.8,339.7 266,339.7 268,339.7 268.3,339.7 270,339.7 272,339.7 273.3,339.7 274,339.7 275.8,339.7 276,339.7 278,339.7 280,339.7 282,339.7 282.5,339.7 284,339.7 285,339.7 286,339.7 287.5,339.7 288,339.7 290,339.7 292,339.7 292.5,339.7 294,339.7 294.2,339.7 295.8,339.7 296,339.7 298,339.7 298.3,339.7 300,339.7 302,339.7 303.3,339.7 304,339.7 305,339.7 306,339.7 307.5,339.7 308,339.7 309.2,339.7 310,339.7 310.8,339.7 312,339.7 313,339.7 314,339.7 314.3,339.7 315.7,339.7 316,339.7 317,339.7 318,339.7 318.3,339.7 319.3,339.7 320,339.7 322,339.7 324,339.7 324.2,339.7 326,339.7 326.7,339.7 328,339.7 329.7,339.7 330,339.7 331.7,339.7 332,339.7 334,339.7 334.2,339.7 336,339.7 336.7,339.7 338,339.7 340,339.7 342,339.7 343.3,339.7 344,339.7 346,339.7 346.7,339.7 348,339.7 348.3,339.7 350,339.7 351.7,339.7 352,339.7 354,339.7 355,339.7 356,339.7 358,339.7 360,339.7 360.8,339.7 362,339.7 364,339.7 364.2,339.7 366,339.7 367.5,339.7 368,339.7 370,339.7 370.8,339.7 372,339.7 373.3,339.7 374,339.7 375.8,339.7 376,339.7 378,339.7 379.2,339.7 380,339.7 382,339.7 382.5,339.7 384,339.7 385.8,339.7 386,339.7 388,339.7 389.2,339.7 390,339.7 392,339.7 392.5,339.7 394,339.7 395.8,339.7 396,339.7 398,339.7 399.2,339.7 400,339.7 401.7,339.7 402,339.7 404,339.7 404.2,339.7 406,339.7 407.5,339.7 408,339.7 410,339.7 412,339.7 412.5,339.7 414,339.7 415,339.7 416,339.7 418,339.7 418.3,339.7 420,339.7 421.3,339.7 422,339.7 424,339.7 424.2,339.7 426,339.7 426.7,339.7 428,339.7 429.2,339.7 430,339.7 432,339.7 432.5,339.7 434,339.7 435.8,339.7 436,339.7 438,339.7 439.2,339.7 440,339.7 441.7,339.7 442,339.7 444,339.7 444.2,339.7 446,339.7 446.3,339.7 448,339.7 448.5,339.7 450,339.7 451,339.7 452,339.7 453.5,339.7 454,339.7 455,339.7 456,339.7 457.2,339.7 457.5,339.7 458,339.7 458.7,339.7 460,339.7 460.8,339.7 461.7,339.7 462,339.7 462.5,339.7 463.3,339.7 464,339.7 464.5,339.7 465.8,339.7 466,339.7 467.2,339.7 468,339.7 468.3,339.7 469.7,339.7 470,339.7 470.8,339.7 472,339.7 472.5,339.7 474,339.7 474.2,339.7 475.5,339.7 476,339.7 477,339.7 478,339.7 478.3,339.7 480,339.7 482,339.7 483.3,339.7 484,339.7 484.2,339.7 485.8,339.7 486,339.7 487.5,339.7 488,339.7 489.2,339.7 490,339.7 490.8,339.7 492,339.7 492.5,339.7 493,339.7 494,339.7 494.2,339.7 495.8,339.7 496,339.7 497.5,339.7 498,339.7 499.7,339.7 500,339.7 500.8,339.7 502,339.7 502.5,339.7 504,339.7 504.2,339.7 505.8,338.2 506,337.8 508,335.1 508.3,335 510,334.5 510.8,334.2 512,334.6 513.3,335.1 514,335.5 515.3,337.1 516,338 517.5,339.7 518,339.7 519.7,339.7 520,339.7 521.7,339.7 522,339.7 524,339.7 524.2,339.7 525.8,339.7 526,339.7 527.5,339.7 528,339.7 529.2,339.7 530,339.7 531.7,339.7 532,339.7 533.7,339.7 534,339.7 535,339.7 536,339.7 537.5,339.7 538,339.7 540,339.7 542,339.7 543.3,339.7 544,339.7 545.3,339.7 546,339.7 547.5,339.7 548,339.7 549.2,339.7 550,339.7 551.7,339.7 552,339.7 554,339.7 554.2,339.7 556,339.7 556.7,339.7 558,339.7 559.2,339.7 560,339.7 560.8,339.7 562,339.7 562.5,339.7 564,339.7 565.8,339.7 566,339.7 568,339.7 568.3,339.7 570,339.7 570.3,339.7 572,339.7 572.5,339.7 574,339.7 575,339.7 576,339.7 577.5,339.7 578,339.7 580,339.7 582,339.7 584,339.7 584.2,339.7 586,339.7 586.7,339.7 588,339.7 588.3,339.7 590,339.7 590.8,339.7 592,339.7 593.3,339.7 594,339.7 595.8,339.7 596,339.7 597.5,339.7 598,339.7 600,339.7 602,339.7 602.5,339.7 604,339.7 604.2,339.7 605.8,339.7 606,339.7 607.5,339.7 608,339.7 609.2,339.7 610,339.7 610.8,339.7 612,339.7 614,339.7 614.2,339.7 616,339.7 616.7,339.7 618,339.7 618.3,339.7 620,339.7 620.8,339.7 622,339.7 623.3,339.7 624,339.7 625.8,339.7 626,339.7 627.5,339.7 628,339.7 629.2,339.7 630,339.7 630.3,339.7 631.7,339.7 632,339.7 633,339.7 634,339.7 635,339.7 636,339.7 637,339.7 638,339.7 638.7,339.7 640,339.7 640.3,339.7 642,339.7 642.5,339.7 644,339.7 645,339.7 646,339.7 647,339.7 648,339.7 648.3,339.7 650,339.7 651.3,339.7 652,339.7 652.5,339.7 653.7,339.7 654,339.7 655.8,339.7 656,339.7 657,339.7 658,339.7 659.2,339.7 660,339.7 660.8,339.7 662,339.7 662.5,339.7 663.3,339.7 664,339.7 664.7,339.7 665.8,339.7 666,339.7 667,339.7 668,339.7 668.3,339.7 670,339.7 670.8,339.7 672,339.7 673,339.7 674,339.7 675,339.7 676,339.7 678,339.7 678.3,339.7 680,339.7 682,339.7 683.3,339.7 684,339.7 686,339.7 687.5,339.7 688,339.7 690,339.7 691.7,339.7 692,339.7 693,339.7 694,339.7 694.7,339.7 695.8,339.7 696,339.7 697,339.7 698,339.7 699.2,339.7 700,339.7 700.3,339.7 701.7,339.7 702,339.7 702.8,339.7 704,339.7 704.2,339.7 705.8,339.7 706,339.7 707,339.7 708,339.7 708.7,339.7 710,339.7 710.3,339.7 712,339.7 712.5,339.7 714,339.7 714.2,339.7 715.8,339.7 716,339.7 718,339.7 718.3,339.7 720,339.7 720.8,339.7 722,339.7 723.3,339.7 724,339.7 725.8,339.7 726,339.7 727.5,339.7 728,339.7 729.2,339.7 730,339.7 732,339.7 732.5,339.7 734,339.7 735,339.7 736,339.7 736.7,339.7 738,339.7 738.3,339.7 740,339.7 741.7,339.7 742,339.7 743.7,339.7 744,339.7 745.3,339.7 746,339.7 747.2,339.7 748,339.7 749.2,339.7 750,339.7 751.7,339.7 752,339.7 754,339.7 756,339.7 756.7,339.7 758,339.7 760,339.7 760.8,339.7 762,339.7 764,339.7 765,339.7 766,339.7 768,339.7 768.3,339.7 770,339.7 771.7,339.7 772,339.7 773.7,339.7 774,339.7 776,339.7 776.7,339.7 778,339.7 779.7,339.7 780,339.7 781.7,339.7 782,339.7 783.7,339.7 784,339.7 786,339.7 786.3,339.7 788,339.7 790,339.7 792,339.7 793.3,339.7 794,339.7 795,339.7 796,339.7 797.5,339.7 798,339.7 800,339.7 802,339.7 802.5,339.7 804,339.7 805.8,339.7 806,339.7 808,339.7 808.3,339.7 810,339.7 810.8,339.7 812,339.7 813,339.7 814,339.7 815.3,339.7 816,339.7 817.5,339.7 818,339.7 820,339.7 822,339.7 822.5,339.7 824,339.7 824.7,339.7 826,339.7 826.7,339.7 828,339.7 830,339.7 832,339.7 834,339.7 834.2,339.7 836,339.7 838,339.7 838.3,339.7 840,339.7 840.8,339.7 842,339.7 843.3,339.7 844,339.7 845.8,339.7 846,339.7 848,339.7 848.3,339.7 850,339.7 850.8,339.7 852,339.7 853.3,339.7 854,339.7 856,339.7 856.3,339.7 858,339.7 859.2,339.7 860,339.7 861.7,339.7 862,339.7 864,339.7 864.2,339.7 865.8,339.7 L865.8,340.5 Z"/>
<path fill="#b81e48" d="M160,340.5 L160,339.7 162,339.7 162.5,339.7 164,339.7 165.8,339.7 166,339.7 167.5,339.7 168,339.7 169.7,339.7 170,339.7 170.8,339.7 172,339.7 172.5,339.7 174,339.7 174.2,339.7 175.8,339.7 176,339.7 177,339.7 178,339.7 178.3,339.7 179.7,339.7 180,339.7 180.8,339.7 181.7,339.7 182,339.7 183.3,339.7 184,339.7 185,339.7 186,339.7 187,339.7 188,339.7 188.3,339.7 190,339.7 192,339.7 192.5,339.7 194,339.7 195,339.7 196,339.7 197.5,339.7 198,339.7 199.7,339.7 200,339.7 201.7,339.7 202,339.7 203.3,339.7 204,339.7 205,339.7 206,339.7 206.3,339.7 207.5,339.7 208,339.7 209.2,339.7 210,339.7 211.7,339.7 212,339.7 213.7,339.7 214,339.7 215.8,339.7 216,339.7 217.5,339.7 218,339.7 219.7,339.7 220,339.7 222,339.7 222.5,339.7 224,339.7 225,339.7 226,339.7 227.5,339.7 228,339.7 230,339.7 232,339.7 233.3,339.7 234,339.7 236,339.7 236.7,339.7 238,339.7 240,339.7 242,339.7 243.3,339.7 244,339.7 245.8,339.7 246,339.7 248,339.7 249.2,339.7 250,339.7 252,339.7 252.5,339.7 254,339.7 254.2,339.7 255.8,339.7 256,339.7 258,339.7 260,339.7 261.7,339.7 262,339.7 263.7,339.7 264,339.7 265.8,339.7 266,339.7 268,339.7 268.3,339.7 270,339.7 272,339.7 273.3,339.7 274,339.7 275.8,339.7 276,339.7 278,339.7 280,339.7 282,339.7 282.5,339.7 284,339.7 285,339.7 286,339.7 287.5,339.7 288,339.7 290,339.7 292,339.7 292.5,339.7 294,339.7 294.2,339.7 295.8,339.7 296,339.7 298,339.7 298.3,339.7 300,339.7 302,339.7 303.3,339.7 304,339.7 305,339.7 306,339.7 307.5,339.7 308,339.7 309.2,339.7 310,339.7 310.8,339.7 312,339.7 313,339.7 314,339.7 314.3,339.7 315.7,339.7 316,339.7 317,339.7 318,339.7 318.3,339.7 319.3,339.7 320,339.7 322,339.7 324,339.7 324.2,339.7 326,339.7 326.7,339.7 328,339.7 329.7,339.7 330,339.7 331.7,339.7 332,339.7 334,339.7 334.2,339.7 336,339.7 336.7,339.7 338,339.7 340,339.7 342,339.7 343.3,339.7 344,339.7 346,339.7 346.7,339.7 348,339.7 348.3,339.7 350,339.7 351.7,339.7 352,339.7 354,339.7 355,339.7 356,339.7 358,339.7 360,339.7 360.8,339.7 362,339.7 364,339.7 364.2,339.7 366,339.7 367.5,339.7 368,339.7 370,339.7 370.8,339.7 372,339.7 373.3,339.7 374,339.7 375.8,339.7 376,339.7 378,339.7 379.2,339.7 380,339.7 382,339.7 382.5,339.7 384,339.7 385.8,339.7 386,339.7 388,339.7 389.2,339.7 390,339.7 392,339.7 392.5,339.7 394,339.7 395.8,339.7 396,339.7 398,339.7 399.2,339.7 400,339.7 401.7,339.7 402,339.7 404,339.7 404.2,339.7 406,339.7 407.5,339.7 408,339.7 410,339.7 412,339.7 412.5,339.7 414,339.7 415,339.7 416,339.7 418,339.7 418.3,339.7 420,339.7 421.3,339.7 422,339.7 424,339.7 424.2,339.7 426,339.7 426.7,339.7 428,339.7 429.2,339.7 430,339.7 432,339.7 432.5,339.7 434,339.7 435.8,339.7 436,339.7 438,339.7 439.2,339.7 440,339.7 441.7,339.7 442,339.7 444,339.7 444.2,339.7 446,339.7 446.3,339.7 448,339.7 448.5,339.7 450,339.7 451,339.7 452,339.7 453.5,339.7 454,339.7 455,339.7 456,339.7 457.2,339.7 457.5,339.7 458,339.7 458.7,339.7 460,339.7 460.8,339.7 461.7,339.7 462,339.7 462.5,339.7 463.3,339.7 464,339.7 464.5,339.7 465.8,339.7 466,339.7 467.2,339.7 468,339.7 468.3,339.7 469.7,339.7 470,339.7 470.8,339.7 472,339.7 472.5,339.7 474,339.7 474.2,339.7 475.5,339.7 476,339.7 477,339.7 478,339.7 478.3,339.7 480,339.7 482,339.7 483.3,339.7 484,339.7 484.2,339.7 485.8,339.7 486,339.7 487.5,339.7 488,339.7 489.2,339.7 490,339.7 490.8,339.7 492,339.7 492.5,339.7 493,339.7 494,339.7 494.2,339.7 495.8,339.7 496,339.7 497.5,339.7 498,339.7 499.7,339.7 500,339.7 500.8,339.7 502,339.7 502.5,339.7 504,339.7 504.2,339.7 505.8,338.2 506,337.8 508,335.1 508.3,335 510,334.5 510.8,334.2 512,334.6 513.3,335.1 514,335.5 515.3,337.1 516,338 517.5,339.7 518,339.7 519.7,339.7 520,339.7 521.7,339.7 522,339.7 524,339.7 524.2,339.7 525.8,339.7 526,339.7 527.5,339.7 528,339.7 529.2,339.7 530,339.7 531.7,339.7 532,339.7 533.7,339.7 534,339.7 535,339.7 536,339.7 537.5,339.7 538,339.7 540,339.7 542,339.7 543.3,339.7 544,339.7 545.3,339.7 546,339.7 547.5,339.7 548,339.7 549.2,339.7 550,339.7 551.7,339.7 552,339.7 554,339.7 554.2,339.7 556,339.7 556.7,339.7 558,339.7 559.2,339.7 560,339.7 560.8,339.7 562,339.7 562.5,339.7 564,339.7 565.8,339.7 566,339.7 568,339.7 568.3,339.7 570,339.7 570.3,339.7 572,339.7 572.5,339.7 574,339.7 575,339.7 576,339.7 577.5,339.7 578,339.7 580,339.7 582,339.7 584,339.7 584.2,339.7 586,339.7 586.7,339.7 588,339.7 588.3,339.7 590,339.7 590.8,339.7 592,339.7 593.3,339.7 594,339.7 595.8,339.7 596,339.7 597.5,339.7 598,339.7 600,339.7 602,339.7 602.5,339.7 604,339.7 604.2,339.7 605.8,339.7 606,339.7 607.5,339.7 608,339.7 609.2,339.7 610,339.7 610.8,339.7 612,339.7 614,339.7 614.2,339.7 616,339.7 616.7,339.7 618,339.7 618.3,339.7 620,339.7 620.8,339.7 622,339.7 623.3,339.7 624,339.7 625.8,339.7 626,339.7 627.5,339.7 628,339.7 629.2,339.7 630,339.7 630.3,339.7 631.7,339.7 632,339.7 633,339.7 634,339.7 635,339.7 636,339.7 637,339.7 638,339.7 638.7,339.7 640,339.7 640.3,339.7 642,339.7 642.5,339.7 644,339.7 645,339.7 646,339.7 647,339.7 648,339.7 648.3,339.7 650,339.7 651.3,339.7 652,339.7 652.5,339.7 653.7,339.7 654,339.7 655.8,339.7 656,339.7 657,339.7 658,339.7 659.2,339.7 660,339.7 660.8,339.7 662,339.7 662.5,339.7 663.3,339.7 664,339.7 664.7,339.7 665.8,339.7 666,339.7 667,339.7 668,339.7 668.3,339.7 670,339.7 670.8,339.7 672,339.7 673,339.7 674,339.7 675,339.7 676,339.7 678,339.7 678.3,339.7 680,339.7 682,339.7 683.3,339.7 684,339.7 686,339.7 687.5,339.7 688,339.7 690,339.7 691.7,339.7 692,339.7 693,339.7 694,339.7 694.7,339.7 695.8,339.7 696,339.7 697,339.7 698,339.7 699.2,339.7 700,339.7 700.3,339.7 701.7,339.7 702,339.7 702.8,339.7 704,339.7 704.2,339.7 705.8,339.7 706,339.7 707,339.7 708,339.7 708.7,339.7 710,339.7 710.3,339.7 712,339.7 712.5,339.7 714,339.7 714.2,339.7 715.8,339.7 716,339.7 718,339.7 718.3,339.7 720,339.7 720.8,339.7 722,339.7 723.3,339.7 724,339.7 725.8,339.7 726,339.7 727.5,339.7 728,339.7 729.2,339.7 730,339.7 732,339.7 732.5,339.7 734,339.7 735,339.7 736,339.7 736.7,339.7 738,339.7 738.3,339.7 740,339.7 741.7,339.7 742,339.7 743.7,339.7 744,339.7 745.3,339.7 746,339.7 747.2,339.7 748,339.7 749.2,339.7 750,339.7 751.7,339.7 752,339.7 754,339.7 756,339.7 756.7,339.7 758,339.7 760,339.7 760.8,339.7 762,339.7 764,339.7 765,339.7 766,339.7 768,339.7 768.3,339.7 770,339.7 771.7,339.7 772,339.7 773.7,339.7 774,339.7 776,339.7 776.7,339.7 778,339.7 779.7,339.7 780,339.7 781.7,339.7 782,339.7 783.7,339.7 784,339.7 786,339.7 786.3,339.7 788,339.7 790,339.7 792,339.7 793.3,339.7 794,339.7 795,339.7 796,339.7 797.5,339.7 798,339.7 800,339.7 802,339.7 802.5,339.7 804,339.7 805.8,339.7 806,339.7 808,339.7 808.3,339.7 810,339.7 810.8,339.7 812,339.7 813,339.7 814,339.7 815.3,339.7 816,339.7 817.5,339.7 818,339.7 820,339.7 822,339.7 822.5,339.7 824,339.7 824.7,339.7 826,339.7 826.7,339.7 828,339.7 830,339.7 832,339.7 834,339.7 834.2,339.7 836,339.7 838,339.7 838.3,339.7 840,339.7 840.8,339.7 842,339.7 843.3,339.7 844,339.7 845.8,339.7 846,339.7 848,339.7 848.3,339.7 850,339.7 850.8,339.7 852,339.7 853.3,339.7 854,339.7 856,339.7 856.3,339.7 858,339.7 859.2,339.7 860,339.7 861.7,339.7 862,339.7 864,339.7 864.2,339.7 865.8,339.7 L865.8,340.5 Z"/>
<path fill="#a70b44" d="M160,340.5 L160,339.7 162,339.7 162.5,339.7 164,339.7 165.8,339.7 166,339.7 167.5,339.7 168,339.7 169.7,339.7 170,339.7 170.8,339.7 172,339.7 172.5,339.7 174,339.7 174.2,339.7 175.8,339.7 176,339.7 177,339.7 178,339.7 178.3,339.7 179.7,339.7 180,339.7 180.8,339.7 181.7,339.7 182,339.7 183.3,339.7 184,339.7 185,339.7 186,339.7 187,339.7 188,339.7 188.3,339.7 190,339.7 192,339.7 192.5,339.7 194,339.7 195,339.7 196,339.7 197.5,339.7 198,339.7 199.7,339.7 200,339.7 201.7,339.7 202,339.7 203.3,339.7 204,339.7 205,339.7 206,339.7 206.3,339.7 207.5,339.7 208,339.7 209.2,339.7 210,339.7 211.7,339.7 212,339.7 213.7,339.7 214,339.7 215.8,339.7 216,339.7 217.5,339.7 218,339.7 219.7,339.7 220,339.7 222,339.7 222.5,339.7 224,339.7 225,339.7 226,339.7 227.5,339.7 228,339.7 230,339.7 232,339.7 233.3,339.7 234,339.7 236,339.7 236.7,339.7 238,339.7 240,339.7 242,339.7 243.3,339.7 244,339.7 245.8,339.7 246,339.7 248,339.7 249.2,339.7 250,339.7 252,339.7 252.5,339.7 254,339.7 254.2,339.7 255.8,339.7 256,339.7 258,339.7 260,339.7 261.7,339.7 262,339.7 263.7,339.7 264,339.7 265.8,339.7 266,339.7 268,339.7 268.3,339.7 270,339.7 272,339.7 273.3,339.7 274,339.7 275.8,339.7 276,339.7 278,339.7 280,339.7 282,339.7 282.5,339.7 284,339.7 285,339.7 286,339.7 287.5,339.7 288,339.7 290,339.7 292,339.7 292.5,339.7 294,339.7 294.2,339.7 295.8,339.7 296,339.7 298,339.7 298.3,339.7 300,339.7 302,339.7 303.3,339.7 304,339.7 305,339.7 306,339.7 307.5,339.7 308,339.7 309.2,339.7 310,339.7 310.8,339.7 312,339.7 313,339.7 314,339.7 314.3,339.7 315.7,339.7 316,339.7 317,339.7 318,339.7 318.3,339.7 319.3,339.7 320,339.7 322,339.7 324,339.7 324.2,339.7 326,339.7 326.7,339.7 328,339.7 329.7,339.7 330,339.7 331.7,339.7 332,339.7 334,339.7 334.2,339.7 336,339.7 336.7,339.7 338,339.7 340,339.7 342,339.7 343.3,339.7 344,339.7 346,339.7 346.7,339.7 348,339.7 348.3,339.7 350,339.7 351.7,339.7 352,339.7 354,339.7 355,339.7 356,339.7 358,339.7 360,339.7 360.8,339.7 362,339.7 364,339.7 364.2,339.7 366,339.7 367.5,339.7 368,339.7 370,339.7 370.8,339.7 372,339.7 373.3,339.7 374,339.7 375.8,339.7 376,339.7 378,339.7 379.2,339.7 380,339.7 382,339.7 382.5,339.7 384,339.7 385.8,339.7 386,339.7 388,339.7 389.2,339.7 390,339.7 392,339.7 392.5,339.7 394,339.7 395.8,339.7 396,339.7 398,339.7 399.2,339.7 400,339.7 401.7,339.7 402,339.7 404,339.7 404.2,339.7 406,339.7 407.5,339.7 408,339.7 410,339.7 412,339.7 412.5,339.7 414,339.7 415,339.7 416,339.7 418,339.7 418.3,339.7 420,339.7 421.3,339.7 422,339.7 424,339.7 424.2,339.7 426,339.7 426.7,339.7 428,339.7 429.2,339.7 430,339.7 432,339.7 432.5,339.7 434,339.7 435.8,339.7 436,339.7 438,339.7 439.2,339.7 440,339.7 441.7,339.7 442,339.7 444,339.7 444.2,339.7 446,339.7 446.3,339.7 448,339.7 448.5,339.7 450,339.7 451,339.7 452,339.7 453.5,339.7 454,339.7 455,339.7 456,339.7 457.2,339.7 457.5,339.7 458,339.7 458.7,339.7 460,339.7 460.8,339.7 461.7,339.7 462,339.7 462.5,339.7 463.3,339.7 464,339.7 464.5,339.7 465.8,339.7 466,339.7 467.2,339.7 468,339.7 468.3,339.7 469.7,339.7 470,339.7 470.8,339.7 472,339.7 472.5,339.7 474,339.7 474.2,339.7 475.5,339.7 476,339.7 477,339.7 478,339.7 478.3,339.7 480,339.7 482,339.7 483.3,339.7 484,339.7 484.2,339.7 485.8,339.7 486,339.7 487.5,339.7 488,339.7 489.2,339.7 490,339.7 490.8,339.7 492,339.7 492.5,339.7 493,339.7 494,339.7 494.2,339.7 495.8,339.7 496,339.7 497.5,339.7 498,339.7 499.7,339.7 500,339.7 500.8,339.7 502,339.7 502.5,339.7 504,339.7 504.2,339.7 505.8,338.2 506,337.8 508,335.1 508.3,335 510,334.5 510.8,334.2 512,334.6 513.3,335.1 514,335.5 515.3,337.1 516,338 517.5,339.7 518,339.7 519.7,339.7 520,339.7 521.7,339.7 522,339.7 524,339.7 524.2,339.7 525.8,339.7 526,339.7 527.5,339.7 528,339.7 529.2,339.7 530,339.7 531.7,339.7 532,339.7 533.7,339.7 534,339.7 535,339.7 536,339.7 537.5,339.7 538,339.7 540,339.7 542,339.7 543.3,339.7 544,339.7 545.3,339.7 546,339.7 547.5,339.7 548,339.7 549.2,339.7 550,339.7 551.7,339.7 552,339.7 554,339.7 554.2,339.7 556,339.7 556.7,339.7 558,339.7 559.2,339.7 560,339.7 560.8,339.7 562,339.7 562.5,339.7 564,339.7 565.8,339.7 566,339.7 568,339.7 568.3,339.7 570,339.7 570.3,339.7 572,339.7 572.5,339.7 574,339.7 575,339.7 576,339.7 577.5,339.7 578,339.7 580,339.7 582,339.7 584,339.7 584.2,339.7 586,339.7 586.7,339.7 588,339.7 588.3,339.7 590,339.7 590.8,339.7 592,339.7 593.3,339.7 594,339.7 595.8,339.7 596,339.7 597.5,339.7 598,339.7 600,339.7 602,339.7 602.5,339.7 604,339.7 604.2,339.7 605.8,339.7 606,339.7 607.5,339.7 608,339.7 609.2,339.7 610,339.7 610.8,339.7 612,339.7 614,339.7 614.2,339.7 616,339.7 616.7,339.7 618,339.7 618.3,339.7 620,339.7 620.8,339.7 622,339.7 623.3,339.7 624,339.7 625.8,339.7 626,339.7 627.5,339.7 628,339.7 629.2,339.7 630,339.7 630.3,339.7 631.7,339.7 632,339.7 633,339.7 634,339.7 635,339.7 636,339.7 637,339.7 638,339.7 638.7,339.7 640,339.7 640.3,339.7 642,339.7 642.5,339.7 644,339.7 645,339.7 646,339.7 647,339.7 648,339.7 648.3,339.7 650,339.7 651.3,339.7 652,339.7 652.5,339.7 653.7,339.7 654,339.7 655.8,339.7 656,339.7 657,339.7 658,339.7 659.2,339.7 660,339.7 660.8,339.7 662,339.7 662.5,339.7 663.3,339.7 664,339.7 664.7,339.7 665.8,339.7 666,339.7 667,339.7 668,339.7 668.3,339.7 670,339.7 670.8,339.7 672,339.7 673,339.7 674,339.7 675,339.7 676,339.7 678,339.7 678.3,339.7 680,339.7 682,339.7 683.3,339.7 684,339.7 686,339.7 687.5,339.7 688,339.7 690,339.7 691.7,339.7 692,339.7 693,339.7 694,339.7 694.7,339.7 695.8,339.7 696,339.7 697,339.7 698,339.7 699.2,339.7 700,339.7 700.3,339.7 701.7,339.7 702,339.7 702.8,339.7 704,339.7 704.2,339.7 705.8,339.7 706,339.7 707,339.7 708,339.7 708.7,339.7 710,339.7 710.3,339.7 712,339.7 712.5,339.7 714,339.7 714.2,339.7 715.8,339.7 716,339.7 718,339.7 718.3,339.7 720,339.7 720.8,339.7 722,339.7 723.3,339.7 724,339.7 725.8,339.7 726,339.7 727.5,339.7 728,339.7 729.2,339.7 730,339.7 732,339.7 732.5,339.7 734,339.7 735,339.7 736,339.7 736.7,339.7 738,339.7 738.3,339.7 740,339.7 741.7,339.7 742,339.7 743.7,339.7 744,339.7 745.3,339.7 746,339.7 747.2,339.7 748,339.7 749.2,339.7 750,339.7 751.7,339.7 752,339.7 754,339.7 756,339.7 756.7,339.7 758,339.7 760,339.7 760.8,339.7 762,339.7 764,339.7 765,339.7 766,339.7 768,339.7 768.3,339.7 770,339.7 771.7,339.7 772,339.7 773.7,339.7 774,339.7 776,339.7 776.7,339.7 778,339.7 779.7,339.7 780,339.7 781.7,339.7 782,339.7 783.7,339.7 784,339.7 786,339.7 786.3,339.7 788,339.7 790,339.7 792,339.7 793.3,339.7 794,339.7 795,339.7 796,339.7 797.5,339.7 798,339.7 800,339.7 802,339.7 802.5,339.7 804,339.7 805.8,339.7 806,339.7 808,339.7 808.3,339.7 810,339.7 810.8,339.7 812,339.7 813,339.7 814,339.7 815.3,339.7 816,339.7 817.5,339.7 818,339.7 820,339.7 822,339.7 822.5,339.7 824,339.7 824.7,339.7 826,339.7 826.7,339.7 828,339.7 830,339.7 832,339.7 834,339.7 834.2,339.7 836,339.7 838,339.7 838.3,339.7 840,339.7 840.8,339.7 842,339.7 843.3,339.7 844,339.7 845.8,339.7 846,339.7 848,339.7 848.3,339.7 850,339.7 850.8,339.7 852,339.7 853.3,339.7 854,339.7 856,339.7 856.3,339.7 858,339.7 859.2,339.7 860,339.7 861.7,339.7 862,339.7 864,339.7 864.2,339.7 865.8,339.7 L865.8,340.5 Z"/>
<clipPath id="env"><path d="M160,340.5 L160,268.3 162,263.7 162.5,262.5 164,257.6 165.8,251.7 166,251.5 167.5,250.3 168,250.3 169.7,250.3 170,251.1 170.8,253.3 172,257.5 172.5,259.2 174,256.2 174.2,255.8 175.8,238.3 176,235.5 177,221.7 178,215.2 178.3,213.3 179.7,223.3 180,231.9 180.8,255 181.7,271.7 182,273.3 183.3,280 184,275.2 185,268.3 186,261.5 187,254.7 188,256.2 188.3,256.7 190,263.3 192,267.3 192.5,268.3 194,270.3 195,271.7 196,274 197.5,277.5 198,278.1 199.7,280 200,281.2 201.7,288.3 202,289.2 203.3,293.3 204,293.7 205,294.2 206,291 206.3,290 207.5,291.7 208,287.3 209.2,276.7 210,273.5 211.7,266.7 212,265.9 213.7,261.3 214,261.6 215.8,263.7 216,263.4 217.5,260.8 218,260 219.7,257.2 220,257.5 222,259.5 222.5,260 224,263.5 225,265.8 226,263 227.5,258.7 228,259 230,260 232,262 233.3,263.3 234,264.2 236,266.6 236.7,267.5 238,265.2 240,261.7 242,257.6 243.3,255 244,255 245.8,255 246,254.6 248,250.9 249.2,248.7 250,250.2 252,254 252.5,255 254,262.3 254.2,263.3 255.8,275 256,275 258,275 260,263.3 261.7,260 262,260 263.7,260 264,261.7 265.8,271.7 266,273 268,286.3 268.3,288.3 270,295.8 272,295.3 273.3,295 274,294.3 275.8,292.5 276,292.3 278,290 280,280.8 282,270.8 282.5,268.3 284,264.6 285,262.2 286,261.8 287.5,261.3 288,262.4 290,266.7 292,276 292.5,278.3 294,278.3 294.2,278.3 295.8,270 296,269.8 298,267.8 298.3,267.5 300,269.2 302,271.7 303.3,260 304,257.2 305,253.3 306,251.5 307.5,248.7 308,249.8 309.2,252.5 310,257.9 310.8,263.3 312,272.4 313,280 314,292.8 314.3,296.7 315.7,302 316,303.1 317,306.7 318,303.1 318.3,302 319.3,297.7 320,297.6 322,297.2 324,297.7 324.2,297.7 326,298.1 326.7,298.3 328,297.2 329.7,295.8 330,295.7 331.7,295 332,295.3 334,297.3 334.2,297.5 336,295.1 336.7,294.2 338,293.1 340,291.3 342,291.7 343.3,292 344,292.1 346,292.4 346.7,292.5 348,291.9 348.3,291.7 350,292.4 351.7,293 352,292.9 354,292.1 355,291.7 356,290.9 358,289.2 360,292.1 360.8,293.3 362,294.2 364,295.7 364.2,295.8 366,296.1 367.5,296.3 368,296.3 370,296.3 370.8,296.3 372,294.7 373.3,293 374,292.2 375.8,290 376,290 378,289.5 379.2,289.2 380,289.4 382,289.9 382.5,290 384,291.5 385.8,293.3 386,293.5 388,295.5 389.2,296.7 390,297.7 392,300.2 392.5,300.8 394,301.3 395.8,302 396,302 398,302.3 399.2,302.5 400,301.2 401.7,298.3 402,297.1 404,289.1 404.2,288.3 406,284.5 407.5,281.3 408,281.4 410,281.7 412,282.3 412.5,282.5 414,283 415,283.3 416,285.8 418,290.9 418.3,291.7 420,294.5 421.3,296.7 422,297.5 424,299.8 424.2,300 426,301.4 426.7,302 428,301.1 429.2,300.3 430,300 432,299.4 432.5,299.2 434,299 435.8,298.7 436,298.7 438,299 439.2,299.2 440,299 441.7,298.7 442,298.4 444,296.7 444.2,296.5 446,293.1 446.3,292.5 448,294.4 448.5,295 450,298 451,300 452,301.8 453.5,304.4 454,302.9 455,300 456,285 457.2,265 457.5,248.3 458,231 458.7,206.7 460,170 460.8,146.7 461.7,121.7 462,113.6 462.5,100 463.3,86.7 464,85.7 464.5,85 465.8,91.7 466,93.1 467.2,101.7 468,96.8 468.3,95 469.7,88 470,89 470.8,91.7 472,103.4 472.5,108.3 474,125.9 474.2,128.3 475.5,145 476,143.3 477,140 478,126.5 478.3,122.5 480,119.2 482,117.5 483.3,128.3 484,142.6 484.2,146.7 485.8,168.3 486,169.5 487.5,178.3 488,175.4 489.2,168.3 490,164.2 490.8,160 492,169.4 492.5,173.3 493,198.3 494,216.4 494.2,220 495.8,246.7 496,250.2 497.5,276.7 498,271.6 499.7,254.2 500,254.9 500.8,256.7 502,266.1 502.5,270 504,261.2 504.2,260 505.8,245 506,244.3 508,237.7 508.3,236.7 510,238.4 510.8,239.2 512,241.2 513.3,243.3 514,245.6 515.3,250 516,255.3 517.5,266.7 518,267.8 519.7,271.7 520,270.4 521.7,263.3 522,261.5 524,249.5 524.2,248.3 525.8,240.3 526,241.4 527.5,250 528,255.4 529.2,268.3 530,268.8 531.7,270 532,270.7 533.7,275 534,276.2 535,280 536,279 537.5,277.5 538,277.5 540,277.5 542,276.8 543.3,276.3 544,278.2 545.3,281.7 546,282.5 547.5,284.2 548,284.2 549.2,284.2 550,281.3 551.7,275 552,273.8 554,265.8 554.2,265 556,261.6 556.7,260.3 558,260.6 559.2,260.8 560,264.6 560.8,268.3 562,266.5 562.5,265.8 564,265.4 565.8,265 566,264.7 568,262.1 568.3,261.7 570,256.7 570.3,255.8 572,261.6 572.5,263.3 574,266.8 575,269.2 576,269.5 577.5,270 578,270 580,270 582,271.7 584,264.1 584.2,263.3 586,254.9 586.7,251.7 588,249.7 588.3,249.2 590,252 590.8,253.3 592,255.3 593.3,257.5 594,256.4 595.8,253.7 596,253.6 597.5,253 598,253.2 600,254.2 602,254.2 602.5,254.2 604,246.1 604.2,245 605.8,238.7 606,239.6 607.5,246.7 608,249.4 609.2,255.8 610,254.6 610.8,253.3 612,252.8 614,252.1 614.2,252 616,252.7 616.7,253 618,252.6 618.3,252.5 620,252 620.8,251.7 622,253.3 623.3,255 624,254.5 625.8,253.3 626,250.6 627.5,230 628,225.6 629.2,215 630,219.9 630.3,221.7 631.7,245 632,248.6 633,260.8 634,260.6 635,260.3 636,258.9 637,257.5 638,254.1 638.7,251.7 640,238.1 640.3,235 642,233.1 642.5,232.5 644,231.2 645,230.3 646,229.3 647,228.3 648,220.6 648.3,218.3 650,210.8 651.3,218.3 652,229 652.5,236.7 653.7,256.7 654,257.2 655.8,260 656,260.8 657,265 658,278.3 659.2,295 660,290.9 660.8,286.7 662,266.7 662.5,258.3 663.3,245 664,232.5 664.7,220 665.8,225 666,229.2 667,250 668,259 668.3,261.7 670,267.3 670.8,270 672,271.4 673,272.5 674,268.8 675,265 676,262.7 678,258.2 678.3,257.5 680,257.5 682,260.5 683.3,262.5 684,263.1 686,264.6 687.5,265.8 688,266.6 690,270 691.7,258.3 692,253.7 693,238.3 694,222.7 694.7,211.7 695.8,196.7 696,195.2 697,188 698,193.3 699.2,211.7 700,221.4 700.3,225 701.7,215 702,210.9 702.8,200 704,194.3 704.2,193.3 705.8,190.8 706,191.8 707,196.7 708,206.5 708.7,213.3 710,229.6 710.3,233.3 712,248.8 712.5,253.3 714,266.5 714.2,268.3 715.8,278.3 716,278.5 718,280.5 718.3,280.8 720,276.3 720.8,274.2 722,276.6 723.3,279.2 724,282 725.8,289.2 726,290 727.5,296 728,296.7 729.2,298.3 730,299.1 732,301.2 732.5,301.7 734,299.7 735,298.3 736,293.4 736.7,290 738,285.3 738.3,284.2 740,283.6 741.7,283 742,283.9 743.7,289.2 744,287.9 745.3,282.5 746,281.1 747.2,278.8 748,280.3 749.2,282.5 750,283.6 751.7,285.8 752,285.9 754,286.6 756,287.3 756.7,287.5 758,288 760,288.9 760.8,289.2 762,289.8 764,290.8 765,291.3 766,291.8 768,292.8 768.3,293 770,292.4 771.7,291.7 772,290.8 773.7,285.8 774,285.4 776,282.7 776.7,281.7 778,278.9 779.7,275.3 780,276.1 781.7,280.8 782,282.4 783.7,291.7 784,292.9 786,300.5 786.3,301.7 788,302.4 790,303.3 792,304.1 793.3,304.7 794,304.4 795,304 796,302.1 797.5,299.2 798,298.8 800,297 802,299.4 802.5,300 804,301.7 805.8,303.7 806,303.3 808,299.7 808.3,299.2 810,292.4 810.8,289.2 812,287.6 813,286.3 814,286.6 815.3,287 816,289.3 817.5,294.2 818,293.5 820,290.5 822,292.5 822.5,293 824,295.5 824.7,296.7 826,304.2 826.7,308.3 828,308.5 830,308.7 832,308.5 834,308.3 834.2,308.3 836,307.7 838,307.1 838.3,307 840,308.2 840.8,308.7 842,308.9 843.3,309.2 844,308.7 845.8,307.5 846,307.5 848,307.9 848.3,308 850,310.2 850.8,311.3 852,312.5 853.3,313.7 854,313.1 856,311.5 856.3,311.3 858,310.1 859.2,309.2 860,309.4 861.7,309.7 862,309.5 864,308.4 864.2,308.3 865.8,308 L865.8,340.5 Z"/></clipPath>
<path fill="none" stroke="#5758a6" stroke-width="4" stroke-linejoin="round" clip-path="url(#env)" d="M160,268.3 162,263.7 162.5,262.5 164,257.6 165.8,251.7 166,251.5 167.5,250.3 168,250.3 169.7,250.3 170,251.1 170.8,253.3 172,257.5 172.5,259.2 174,256.2 174.2,255.8 175.8,238.3 176,235.5 177,221.7 178,215.2 178.3,213.3 179.7,223.3 180,231.9 180.8,255 181.7,271.7 182,273.3 183.3,280 184,275.2 185,268.3 186,261.5 187,254.7 188,256.2 188.3,256.7 190,263.3 192,267.3 192.5,268.3 194,270.3 195,271.7 196,274 197.5,277.5 198,278.1 199.7,280 200,281.2 201.7,288.3 202,289.2 203.3,293.3 204,293.7 205,294.2 206,291 206.3,290 207.5,291.7 208,287.3 209.2,276.7 210,273.5 211.7,266.7 212,265.9 213.7,261.3 214,261.6 215.8,263.7 216,263.4 217.5,260.8 218,260 219.7,257.2 220,257.5 222,259.5 222.5,260 224,263.5 225,265.8 226,263 227.5,258.7 228,259 230,260 232,262 233.3,263.3 234,264.2 236,266.6 236.7,267.5 238,265.2 240,261.7 242,257.6 243.3,255 244,255 245.8,255 246,254.6 248,250.9 249.2,248.7 250,250.2 252,254 252.5,255 254,262.3 254.2,263.3 255.8,275 256,275 258,275 260,263.3 261.7,260 262,260 263.7,260 264,261.7 265.8,271.7 266,273 268,286.3 268.3,288.3 270,295.8 272,295.3 273.3,295 274,294.3 275.8,292.5 276,292.3 278,290 280,280.8 282,270.8 282.5,268.3 284,264.6 285,262.2 286,261.8 287.5,261.3 288,262.4 290,266.7 292,276 292.5,278.3 294,278.3 294.2,278.3 295.8,270 296,269.8 298,267.8 298.3,267.5 300,269.2 302,271.7 303.3,260 304,257.2 305,253.3 306,251.5 307.5,248.7 308,249.8 309.2,252.5 310,257.9 310.8,263.3 312,272.4 313,280 314,292.8 314.3,296.7 315.7,302 316,303.1 317,306.7 318,303.1 318.3,302 319.3,297.7 320,297.6 322,297.2 324,297.7 324.2,297.7 326,298.1 326.7,298.3 328,297.2 329.7,295.8 330,295.7 331.7,295 332,295.3 334,297.3 334.2,297.5 336,295.1 336.7,294.2 338,293.1 340,291.3 342,291.7 343.3,292 344,292.1 346,292.4 346.7,292.5 348,291.9 348.3,291.7 350,292.4 351.7,293 352,292.9 354,292.1 355,291.7 356,290.9 358,289.2 360,292.1 360.8,293.3 362,294.2 364,295.7 364.2,295.8 366,296.1 367.5,296.3 368,296.3 370,296.3 370.8,296.3 372,294.7 373.3,293 374,292.2 375.8,290 376,290 378,289.5 379.2,289.2 380,289.4 382,289.9 382.5,290 384,291.5 385.8,293.3 386,293.5 388,295.5 389.2,296.7 390,297.7 392,300.2 392.5,300.8 394,301.3 395.8,302 396,302 398,302.3 399.2,302.5 400,301.2 401.7,298.3 402,297.1 404,289.1 404.2,288.3 406,284.5 407.5,281.3 408,281.4 410,281.7 412,282.3 412.5,282.5 414,283 415,283.3 416,285.8 418,290.9 418.3,291.7 420,294.5 421.3,296.7 422,297.5 424,299.8 424.2,300 426,301.4 426.7,302 428,301.1 429.2,300.3 430,300 432,299.4 432.5,299.2 434,299 435.8,298.7 436,298.7 438,299 439.2,299.2 440,299 441.7,298.7 442,298.4 444,296.7 444.2,296.5 446,293.1 446.3,292.5 448,294.4 448.5,295 450,298 451,300 452,301.8 453.5,304.4 454,302.9 455,300 456,285 457.2,265 457.5,248.3 458,231 458.7,206.7 460,170 460.8,146.7 461.7,121.7 462,113.6 462.5,100 463.3,86.7 464,85.7 464.5,85 465.8,91.7 466,93.1 467.2,101.7 468,96.8 468.3,95 469.7,88 470,89 470.8,91.7 472,103.4 472.5,108.3 474,125.9 474.2,128.3 475.5,145 476,143.3 477,140 478,126.5 478.3,122.5 480,119.2 482,117.5 483.3,128.3 484,142.6 484.2,146.7 485.8,168.3 486,169.5 487.5,178.3 488,175.4 489.2,168.3 490,164.2 490.8,160 492,169.4 492.5,173.3 493,198.3 494,216.4 494.2,220 495.8,246.7 496,250.2 497.5,276.7 498,271.6 499.7,254.2 500,254.9 500.8,256.7 502,266.1 502.5,270 504,261.2 504.2,260 505.8,245 506,244.3 508,237.7 508.3,236.7 510,238.4 510.8,239.2 512,241.2 513.3,243.3 514,245.6 515.3,250 516,255.3 517.5,266.7 518,267.8 519.7,271.7 520,270.4 521.7,263.3 522,261.5 524,249.5 524.2,248.3 525.8,240.3 526,241.4 527.5,250 528,255.4 529.2,268.3 530,268.8 531.7,270 532,270.7 533.7,275 534,276.2 535,280 536,279 537.5,277.5 538,277.5 540,277.5 542,276.8 543.3,276.3 544,278.2 545.3,281.7 546,282.5 547.5,284.2 548,284.2 549.2,284.2 550,281.3 551.7,275 552,273.8 554,265.8 554.2,265 556,261.6 556.7,260.3 558,260.6 559.2,260.8 560,264.6 560.8,268.3 562,266.5 562.5,265.8 564,265.4 565.8,265 566,264.7 568,262.1 568.3,261.7 570,256.7 570.3,255.8 572,261.6 572.5,263.3 574,266.8 575,269.2 576,269.5 577.5,270 578,270 580,270 582,271.7 584,264.1 584.2,263.3 586,254.9 586.7,251.7 588,249.7 588.3,249.2 590,252 590.8,253.3 592,255.3 593.3,257.5 594,256.4 595.8,253.7 596,253.6 597.5,253 598,253.2 600,254.2 602,254.2 602.5,254.2 604,246.1 604.2,245 605.8,238.7 606,239.6 607.5,246.7 608,249.4 609.2,255.8 610,254.6 610.8,253.3 612,252.8 614,252.1 614.2,252 616,252.7 616.7,253 618,252.6 618.3,252.5 620,252 620.8,251.7 622,253.3 623.3,255 624,254.5 625.8,253.3 626,250.6 627.5,230 628,225.6 629.2,215 630,219.9 630.3,221.7 631.7,245 632,248.6 633,260.8 634,260.6 635,260.3 636,258.9 637,257.5 638,254.1 638.7,251.7 640,238.1 640.3,235 642,233.1 642.5,232.5 644,231.2 645,230.3 646,229.3 647,228.3 648,220.6 648.3,218.3 650,210.8 651.3,218.3 652,229 652.5,236.7 653.7,256.7 654,257.2 655.8,260 656,260.8 657,265 658,278.3 659.2,295 660,290.9 660.8,286.7 662,266.7 662.5,258.3 663.3,245 664,232.5 664.7,220 665.8,225 666,229.2 667,250 668,259 668.3,261.7 670,267.3 670.8,270 672,271.4 673,272.5 674,268.8 675,265 676,262.7 678,258.2 678.3,257.5 680,257.5 682,260.5 683.3,262.5 684,263.1 686,264.6 687.5,265.8 688,266.6 690,270 691.7,258.3 692,253.7 693,238.3 694,222.7 694.7,211.7 695.8,196.7 696,195.2 697,188 698,193.3 699.2,211.7 700,221.4 700.3,225 701.7,215 702,210.9 702.8,200 704,194.3 704.2,193.3 705.8,190.8 706,191.8 707,196.7 708,206.5 708.7,213.3 710,229.6 710.3,233.3 712,248.8 712.5,253.3 714,266.5 714.2,268.3 715.8,278.3 716,278.5 718,280.5 718.3,280.8 720,276.3 720.8,274.2 722,276.6 723.3,279.2 724,282 725.8,289.2 726,290 727.5,296 728,296.7 729.2,298.3 730,299.1 732,301.2 732.5,301.7 734,299.7 735,298.3 736,293.4 736.7,290 738,285.3 738.3,284.2 740,283.6 741.7,283 742,283.9 743.7,289.2 744,287.9 745.3,282.5 746,281.1 747.2,278.8 748,280.3 749.2,282.5 750,283.6 751.7,285.8 752,285.9 754,286.6 756,287.3 756.7,287.5 758,288 760,288.9 760.8,289.2 762,289.8 764,290.8 765,291.3 766,291.8 768,292.8 768.3,293 770,292.4 771.7,291.7 772,290.8 773.7,285.8 774,285.4 776,282.7 776.7,281.7 778,278.9 779.7,275.3 780,276.1 781.7,280.8 782,282.4 783.7,291.7 784,292.9 786,300.5 786.3,301.7 788,302.4 790,303.3 792,304.1 793.3,304.7 794,304.4 795,304 796,302.1 797.5,299.2 798,298.8 800,297 802,299.4 802.5,300 804,301.7 805.8,303.7 806,303.3 808,299.7 808.3,299.2 810,292.4 810.8,289.2 812,287.6 813,286.3 814,286.6 815.3,287 816,289.3 817.5,294.2 818,293.5 820,290.5 822,292.5 822.5,293 824,295.5 824.7,296.7 826,304.2 826.7,308.3 828,308.5 830,308.7 832,308.5 834,308.3 834.2,308.3 836,307.7 838,307.1 838.3,307 840,308.2 840.8,308.7 842,308.9 843.3,309.2 844,308.7 845.8,307.5 846,307.5 848,307.9 848.3,308 850,310.2 850.8,311.3 852,312.5 853.3,313.7 854,313.1 856,311.5 856.3,311.3 858,310.1 859.2,309.2 860,309.4 861.7,309.7 862,309.5 864,308.4 864.2,308.3 865.8,308"/>
<path fill="none" stroke="#5758a6" stroke-width="0.8" stroke-linejoin="round" d="M160,268.3 162,263.7 162.5,262.5 164,257.6 165.8,251.7 166,251.5 167.5,250.3 168,250.3 169.7,250.3 170,251.1 170.8,253.3 172,257.5 172.5,259.2 174,256.2 174.2,255.8 175.8,238.3 176,235.5 177,221.7 178,215.2 178.3,213.3 179.7,223.3 180,231.9 180.8,255 181.7,271.7 182,273.3 183.3,280 184,275.2 185,268.3 186,261.5 187,254.7 188,256.2 188.3,256.7 190,263.3 192,267.3 192.5,268.3 194,270.3 195,271.7 196,274 197.5,277.5 198,278.1 199.7,280 200,281.2 201.7,288.3 202,289.2 203.3,293.3 204,293.7 205,294.2 206,291 206.3,290 207.5,291.7 208,287.3 209.2,276.7 210,273.5 211.7,266.7 212,265.9 213.7,261.3 214,261.6 215.8,263.7 216,263.4 217.5,260.8 218,260 219.7,257.2 220,257.5 222,259.5 222.5,260 224,263.5 225,265.8 226,263 227.5,258.7 228,259 230,260 232,262 233.3,263.3 234,264.2 236,266.6 236.7,267.5 238,265.2 240,261.7 242,257.6 243.3,255 244,255 245.8,255 246,254.6 248,250.9 249.2,248.7 250,250.2 252,254 252.5,255 254,262.3 254.2,263.3 255.8,275 256,275 258,275 260,263.3 261.7,260 262,260 263.7,260 264,261.7 265.8,271.7 266,273 268,286.3 268.3,288.3 270,295.8 272,295.3 273.3,295 274,294.3 275.8,292.5 276,292.3 278,290 280,280.8 282,270.8 282.5,268.3 284,264.6 285,262.2 286,261.8 287.5,261.3 288,262.4 290,266.7 292,276 292.5,278.3 294,278.3 294.2,278.3 295.8,270 296,269.8 298,267.8 298.3,267.5 300,269.2 302,271.7 303.3,260 304,257.2 305,253.3 306,251.5 307.5,248.7 308,249.8 309.2,252.5 310,257.9 310.8,263.3 312,272.4 313,280 314,292.8 314.3,296.7 315.7,302 316,303.1 317,306.7 318,303.1 318.3,302 319.3,297.7 320,297.6 322,297.2 324,297.7 324.2,297.7 326,298.1 326.7,298.3 328,297.2 329.7,295.8 330,295.7 331.7,295 332,295.3 334,297.3 334.2,297.5 336,295.1 336.7,294.2 338,293.1 340,291.3 342,291.7 343.3,292 344,292.1 346,292.4 346.7,292.5 348,291.9 348.3,291.7 350,292.4 351.7,293 352,292.9 354,292.1 355,291.7 356,290.9 358,289.2 360,292.1 360.8,293.3 362,294.2 364,295.7 364.2,295.8 366,296.1 367.5,296.3 368,296.3 370,296.3 370.8,296.3 372,294.7 373.3,293 374,292.2 375.8,290 376,290 378,289.5 379.2,289.2 380,289.4 382,289.9 382.5,290 384,291.5 385.8,293.3 386,293.5 388,295.5 389.2,296.7 390,297.7 392,300.2 392.5,300.8 394,301.3 395.8,302 396,302 398,302.3 399.2,302.5 400,301.2 401.7,298.3 402,297.1 404,289.1 404.2,288.3 406,284.5 407.5,281.3 408,281.4 410,281.7 412,282.3 412.5,282.5 414,283 415,283.3 416,285.8 418,290.9 418.3,291.7 420,294.5 421.3,296.7 422,297.5 424,299.8 424.2,300 426,301.4 426.7,302 428,301.1 429.2,300.3 430,300 432,299.4 432.5,299.2 434,299 435.8,298.7 436,298.7 438,299 439.2,299.2 440,299 441.7,298.7 442,298.4 444,296.7 444.2,296.5 446,293.1 446.3,292.5 448,294.4 448.5,295 450,298 451,300 452,301.8 453.5,304.4 454,302.9 455,300 456,285 457.2,265 457.5,248.3 458,231 458.7,206.7 460,170 460.8,146.7 461.7,121.7 462,113.6 462.5,100 463.3,86.7 464,85.7 464.5,85 465.8,91.7 466,93.1 467.2,101.7 468,96.8 468.3,95 469.7,88 470,89 470.8,91.7 472,103.4 472.5,108.3 474,125.9 474.2,128.3 475.5,145 476,143.3 477,140 478,126.5 478.3,122.5 480,119.2 482,117.5 483.3,128.3 484,142.6 484.2,146.7 485.8,168.3 486,169.5 487.5,178.3 488,175.4 489.2,168.3 490,164.2 490.8,160 492,169.4 492.5,173.3 493,198.3 494,216.4 494.2,220 495.8,246.7 496,250.2 497.5,276.7 498,271.6 499.7,254.2 500,254.9 500.8,256.7 502,266.1 502.5,270 504,261.2 504.2,260 505.8,245 506,244.3 508,237.7 508.3,236.7 510,238.4 510.8,239.2 512,241.2 513.3,243.3 514,245.6 515.3,250 516,255.3 517.5,266.7 518,267.8 519.7,271.7 520,270.4 521.7,263.3 522,261.5 524,249.5 524.2,248.3 525.8,240.3 526,241.4 527.5,250 528,255.4 529.2,268.3 530,268.8 531.7,270 532,270.7 533.7,275 534,276.2 535,280 536,279 537.5,277.5 538,277.5 540,277.5 542,276.8 543.3,276.3 544,278.2 545.3,281.7 546,282.5 547.5,284.2 548,284.2 549.2,284.2 550,281.3 551.7,275 552,273.8 554,265.8 554.2,265 556,261.6 556.7,260.3 558,260.6 559.2,260.8 560,264.6 560.8,268.3 562,266.5 562.5,265.8 564,265.4 565.8,265 566,264.7 568,262.1 568.3,261.7 570,256.7 570.3,255.8 572,261.6 572.5,263.3 574,266.8 575,269.2 576,269.5 577.5,270 578,270 580,270 582,271.7 584,264.1 584.2,263.3 586,254.9 586.7,251.7 588,249.7 588.3,249.2 590,252 590.8,253.3 592,255.3 593.3,257.5 594,256.4 595.8,253.7 596,253.6 597.5,253 598,253.2 600,254.2 602,254.2 602.5,254.2 604,246.1 604.2,245 605.8,238.7 606,239.6 607.5,246.7 608,249.4 609.2,255.8 610,254.6 610.8,253.3 612,252.8 614,252.1 614.2,252 616,252.7 616.7,253 618,252.6 618.3,252.5 620,252 620.8,251.7 622,253.3 623.3,255 624,254.5 625.8,253.3 626,250.6 627.5,230 628,225.6 629.2,215 630,219.9 630.3,221.7 631.7,245 632,248.6 633,260.8 634,260.6 635,260.3 636,258.9 637,257.5 638,254.1 638.7,251.7 640,238.1 640.3,235 642,233.1 642.5,232.5 644,231.2 645,230.3 646,229.3 647,228.3 648,220.6 648.3,218.3 650,210.8 651.3,218.3 652,229 652.5,236.7 653.7,256.7 654,257.2 655.8,260 656,260.8 657,265 658,278.3 659.2,295 660,290.9 660.8,286.7 662,266.7 662.5,258.3 663.3,245 664,232.5 664.7,220 665.8,225 666,229.2 667,250 668,259 668.3,261.7 670,267.3 670.8,270 672,271.4 673,272.5 674,268.8 675,265 676,262.7 678,258.2 678.3,257.5 680,257.5 682,260.5 683.3,262.5 684,263.1 686,264.6 687.5,265.8 688,266.6 690,270 691.7,258.3 692,253.7 693,238.3 694,222.7 694.7,211.7 695.8,196.7 696,195.2 697,188 698,193.3 699.2,211.7 700,221.4 700.3,225 701.7,215 702,210.9 702.8,200 704,194.3 704.2,193.3 705.8,190.8 706,191.8 707,196.7 708,206.5 708.7,213.3 710,229.6 710.3,233.3 712,248.8 712.5,253.3 714,266.5 714.2,268.3 715.8,278.3 716,278.5 718,280.5 718.3,280.8 720,276.3 720.8,274.2 722,276.6 723.3,279.2 724,282 725.8,289.2 726,290 727.5,296 728,296.7 729.2,298.3 730,299.1 732,301.2 732.5,301.7 734,299.7 735,298.3 736,293.4 736.7,290 738,285.3 738.3,284.2 740,283.6 741.7,283 742,283.9 743.7,289.2 744,287.9 745.3,282.5 746,281.1 747.2,278.8 748,280.3 749.2,282.5 750,283.6 751.7,285.8 752,285.9 754,286.6 756,287.3 756.7,287.5 758,288 760,288.9 760.8,289.2 762,289.8 764,290.8 765,291.3 766,291.8 768,292.8 768.3,293 770,292.4 771.7,291.7 772,290.8 773.7,285.8 774,285.4 776,282.7 776.7,281.7 778,278.9 779.7,275.3 780,276.1 781.7,280.8 782,282.4 783.7,291.7 784,292.9 786,300.5 786.3,301.7 788,302.4 790,303.3 792,304.1 793.3,304.7 794,304.4 795,304 796,302.1 797.5,299.2 798,298.8 800,297 802,299.4 802.5,300 804,301.7 805.8,303.7 806,303.3 808,299.7 808.3,299.2 810,292.4 810.8,289.2 812,287.6 813,286.3 814,286.6 815.3,287 816,289.3 817.5,294.2 818,293.5 820,290.5 822,292.5 822.5,293 824,295.5 824.7,296.7 826,304.2 826.7,308.3 828,308.5 830,308.7 832,308.5 834,308.3 834.2,308.3 836,307.7 838,307.1 838.3,307 840,308.2 840.8,308.7 842,308.9 843.3,309.2 844,308.7 845.8,307.5 846,307.5 848,307.9 848.3,308 850,310.2 850.8,311.3 852,312.5 853.3,313.7 854,313.1 856,311.5 856.3,311.3 858,310.1 859.2,309.2 860,309.4 861.7,309.7 862,309.5 864,308.4 864.2,308.3 865.8,308"/>
<path d="M160,340.3 H865.8" stroke="url(#bl)" stroke-width="1.2" fill="none"/>
</g>
<g stroke="#b0b0b0" stroke-width="1.111"><line x1="137.5" y1="73" x2="137.5" y2="352"/><line x1="207.5" y1="73" x2="207.5" y2="352"/><line x1="278.5" y1="73" x2="278.5" y2="352"/><line x1="349.5" y1="73" x2="349.5" y2="352"/><line x1="420.5" y1="73" x2="420.5" y2="352"/><line x1="490.5" y1="73" x2="490.5" y2="352"/><line x1="561.5" y1="73" x2="561.5" y2="352"/><line x1="632.5" y1="73" x2="632.5" y2="352"/><line x1="703.5" y1="73" x2="703.5" y2="352"/><line x1="773.5" y1="73" x2="773.5" y2="352"/><line x1="844.5" y1="73" x2="844.5" y2="352"/><line x1="125" y1="339.5" x2="900" y2="339.5"/><line x1="125" y1="298.5" x2="900" y2="298.5"/><line x1="125" y1="256.5" x2="900" y2="256.5"/><line x1="125" y1="214.5" x2="900" y2="214.5"/><line x1="125" y1="173.5" x2="900" y2="173.5"/><line x1="125" y1="131.5" x2="900" y2="131.5"/><line x1="125" y1="90.5" x2="900" y2="90.5"/></g>
<g stroke="#000" stroke-width="1.111" fill="none">
<rect x="125.5" y="72.5" width="775" height="280" stroke-linejoin="miter"/>
<line x1="137.5" y1="352.5" x2="137.5" y2="357.4"/><line x1="207.5" y1="352.5" x2="207.5" y2="357.4"/><line x1="278.5" y1="352.5" x2="278.5" y2="357.4"/><line x1="349.5" y1="352.5" x2="349.5" y2="357.4"/><line x1="420.5" y1="352.5" x2="420.5" y2="357.4"/><line x1="490.5" y1="352.5" x2="490.5" y2="357.4"/><line x1="561.5" y1="352.5" x2="561.5" y2="357.4"/><line x1="632.5" y1="352.5" x2="632.5" y2="357.4"/><line x1="703.5" y1="352.5" x2="703.5" y2="357.4"/><line x1="773.5" y1="352.5" x2="773.5" y2="357.4"/><line x1="844.5" y1="352.5" x2="844.5" y2="357.4"/><line x1="125.5" y1="339.5" x2="120.6" y2="339.5"/><line x1="125.5" y1="298.5" x2="120.6" y2="298.5"/><line x1="125.5" y1="256.5" x2="120.6" y2="256.5"/><line x1="125.5" y1="214.5" x2="120.6" y2="214.5"/><line x1="125.5" y1="173.5" x2="120.6" y2="173.5"/><line x1="125.5" y1="131.5" x2="120.6" y2="131.5"/><line x1="125.5" y1="90.5" x2="120.6" y2="90.5"/>
</g>
<g shape-rendering="crispEdges"><rect x="125.00" y="444" width="26.33" height="41.5" fill="#a70b44"/>
<rect x="150.83" y="444" width="26.33" height="41.5" fill="#b81e48"/>
<rect x="176.67" y="444" width="26.33" height="41.5" fill="#cb334d"/>
<rect x="202.50" y="444" width="26.33" height="41.5" fill="#d9444d"/>
<rect x="228.33" y="444" width="26.33" height="41.5" fill="#e45549"/>
<rect x="254.17" y="444" width="26.33" height="41.5" fill="#ee6445"/>
<rect x="280.00" y="444" width="26.33" height="41.5" fill="#f57748"/>
<rect x="305.83" y="444" width="26.33" height="41.5" fill="#f98e52"/>
<rect x="331.67" y="444" width="26.33" height="41.5" fill="#fba35c"/>
<rect x="357.50" y="444" width="26.33" height="41.5" fill="#fdb768"/>
<rect x="383.33" y="444" width="26.33" height="41.5" fill="#fdc776"/>
<rect x="409.17" y="444" width="26.33" height="41.5" fill="#fed884"/>
<rect x="435.00" y="444" width="26.33" height="41.5" fill="#fee593"/>
<rect x="460.83" y="444" width="26.33" height="41.5" fill="#fff0a6"/>
<rect x="486.67" y="444" width="26.33" height="41.5" fill="#fffab6"/>
<rect x="512.50" y="444" width="26.33" height="41.5" fill="#fbfdb8"/>
<rect x="538.33" y="444" width="26.33" height="41.5" fill="#f3faac"/>
<rect x="564.17" y="444" width="26.33" height="41.5" fill="#eaf79e"/>
<rect x="590.00" y="444" width="26.33" height="41.5" fill="#ddf19a"/>
<rect x="615.83" y="444" width="26.33" height="41.5" fill="#c8e99e"/>
<rect x="641.67" y="444" width="26.33" height="41.5" fill="#b5e1a2"/>
<rect x="667.50" y="444" width="26.33" height="41.5" fill="#9fd8a4"/>
<rect x="693.33" y="444" width="26.33" height="41.5" fill="#86cfa5"/>
<rect x="719.17" y="444" width="26.33" height="41.5" fill="#71c6a5"/>
<rect x="745.00" y="444" width="26.33" height="41.5" fill="#5cb7aa"/>
<rect x="770.83" y="444" width="26.33" height="41.5" fill="#4ba4b1"/>
<rect x="796.67" y="444" width="26.33" height="41.5" fill="#3990ba"/>
<rect x="822.50" y="444" width="26.33" height="41.5" fill="#3a7eb8"/>
<rect x="848.33" y="444" width="26.33" height="41.5" fill="#496aaf"/>
<rect x="874.17" y="444" width="26.33" height="41.5" fill="#5758a6"/></g>
<rect x="125.5" y="443.5" width="775" height="42" fill="none" stroke="#000" stroke-width="1.111"/>
<g stroke="#000" stroke-width="1.111"><line x1="125.5" y1="485.5" x2="125.5" y2="490.4"/><line x1="228.5" y1="485.5" x2="228.5" y2="490.4"/><line x1="331.5" y1="485.5" x2="331.5" y2="490.4"/><line x1="435.5" y1="485.5" x2="435.5" y2="490.4"/><line x1="538.5" y1="485.5" x2="538.5" y2="490.4"/><line x1="641.5" y1="485.5" x2="641.5" y2="490.4"/><line x1="745.5" y1="485.5" x2="745.5" y2="490.4"/><line x1="848.5" y1="485.5" x2="848.5" y2="490.4"/></g>
<g transform="scale(1.3888889)" style="filter:grayscale(1)">
<g font-size="10">
<text transform="translate(41.827 299.931) rotate(-30)">31-Mar-2015</text>
<text transform="translate(94.294 299.035) rotate(-30)">03-Apr-2015</text>
<text transform="translate(145.210 299.035) rotate(-30)">06-Apr-2015</text>
<text transform="translate(196.126 299.035) rotate(-30)">09-Apr-2015</text>
<text transform="translate(247.041 299.035) rotate(-30)">12-Apr-2015</text>
<text transform="translate(297.957 299.035) rotate(-30)">15-Apr-2015</text>
<text transform="translate(348.873 299.035) rotate(-30)">18-Apr-2015</text>
<text transform="translate(399.788 299.035) rotate(-30)">21-Apr-2015</text>
<text transform="translate(450.704 299.035) rotate(-30)">24-Apr-2015</text>
<text transform="translate(501.620 299.035) rotate(-30)">27-Apr-2015</text>
<text transform="translate(552.535 299.035) rotate(-30)">30-Apr-2015</text>
<text x="83" y="248.076" text-anchor="end">0</text>
<text x="83" y="218.154" text-anchor="end">20</text>
<text x="83" y="188.231" text-anchor="end">40</text>
<text x="83" y="158.309" text-anchor="end">60</text>
<text x="83" y="128.387" text-anchor="end">80</text>
<text x="83" y="98.465" text-anchor="end">100</text>
<text x="83" y="68.543" text-anchor="end">120</text>
<text x="90.50" y="363.7" text-anchor="middle">0</text>
<text x="164.90" y="363.7" text-anchor="middle">4</text>
<text x="239.30" y="363.7" text-anchor="middle">8</text>
<text x="313.70" y="363.7" text-anchor="middle">12</text>
<text x="388.10" y="363.7" text-anchor="middle">16</text>
<text x="462.50" y="363.7" text-anchor="middle">20</text>
<text x="536.90" y="363.7" text-anchor="middle">24</text>
<text x="611.30" y="363.7" text-anchor="middle">28</text>
<text x="369" y="337.7" text-anchor="middle">Days</text>
</g>
<text x="369" y="45.84" font-size="12" text-anchor="middle">Age contribution to BC concentrations (ECLIPSEv6 and CAMS)</text>
<g transform="translate(54.6 246.16) rotate(-90)" font-size="14"><text y="-0.367188">BC concentration (ng m</text><text x="166.684766" y="-5.726562" font-size="9.8">−3</text><text x="181.513965" y="-0.367188">)</text></g>
</g>
</svg>
</body></html>
